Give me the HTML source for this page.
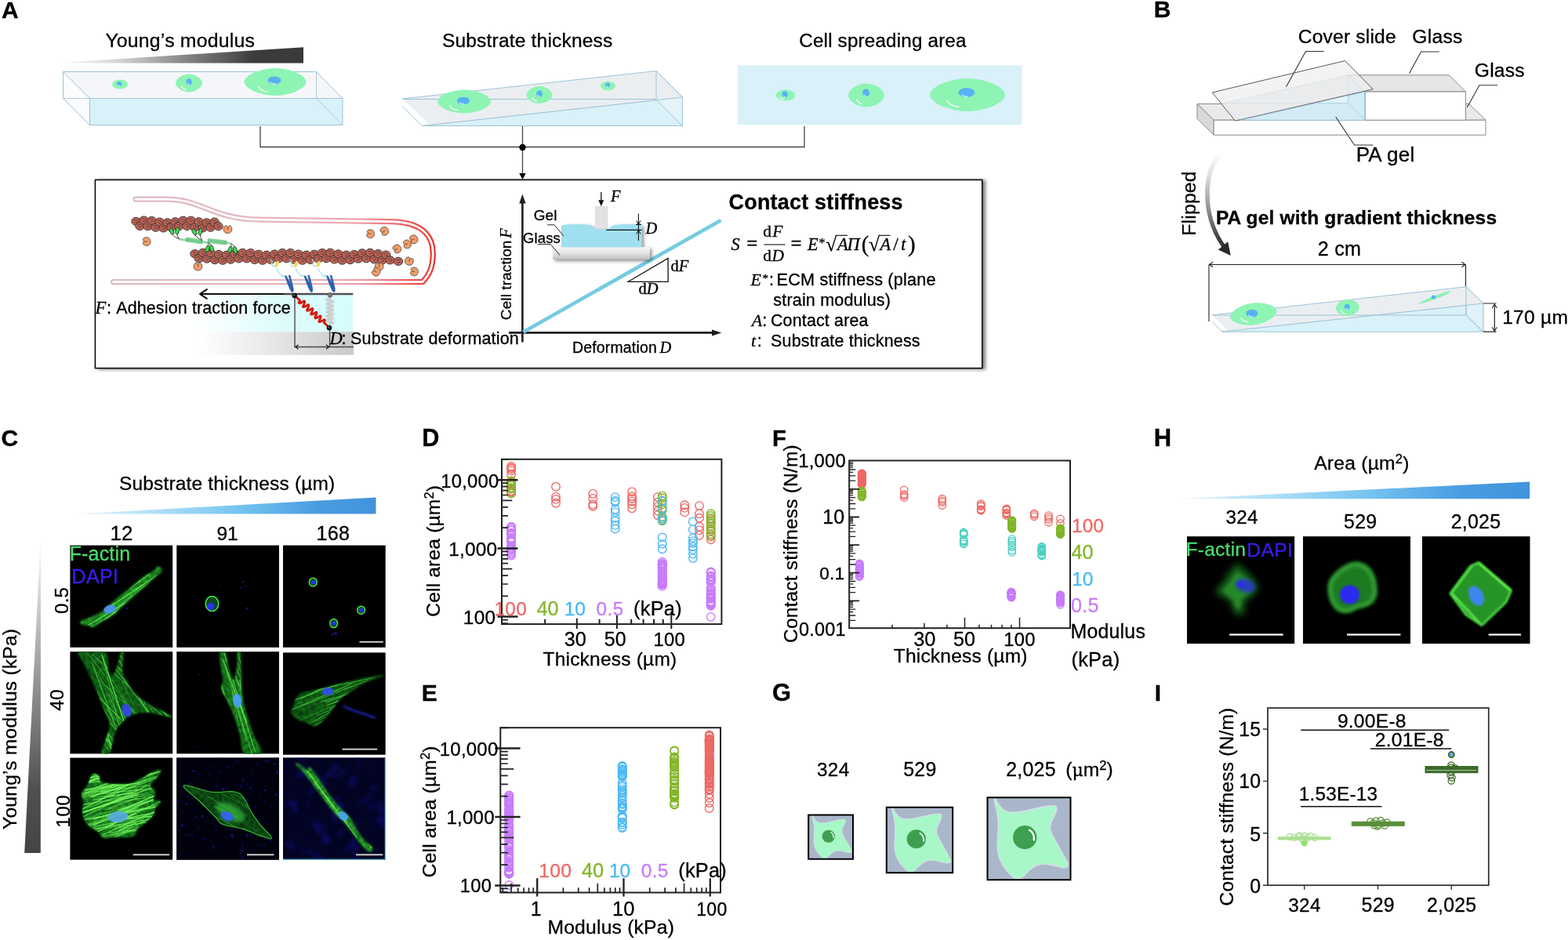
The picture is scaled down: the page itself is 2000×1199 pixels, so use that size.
<!DOCTYPE html>
<html lang="en"><head><meta charset="utf-8"><title>Figure</title>
<style>
html,body{margin:0;padding:0;background:#fff;}
body{width:2000px;height:1199px;overflow:hidden;}
svg{display:block;font-family:"Liberation Sans",Arial,sans-serif;}
text{white-space:pre;stroke:#000;stroke-width:0.3px;}
</style></head><body>
<svg width="2000" height="1199" viewBox="0 0 2000 1199">
<defs>
<linearGradient id="gGray" x1="67" x2="387" y1="0" y2="0" gradientUnits="userSpaceOnUse">
<stop offset="0" stop-color="#fff"/><stop offset="0.25" stop-color="#d8d8d8"/><stop offset="0.55" stop-color="#808080"/><stop offset="0.8" stop-color="#3c3c3c"/><stop offset="1" stop-color="#3a3a3a"/></linearGradient>

<filter id="boxsh" x="-2%" y="-5%" width="104%" height="112%"><feDropShadow dx="3.6" dy="1" stdDeviation="2.3" flood-color="#000" flood-opacity="0.5"/></filter>
<filter id="sh2" x="-10%" y="-20%" width="125%" height="150%"><feDropShadow dx="2.5" dy="2" stdDeviation="2" flood-color="#000" flood-opacity="0.45"/></filter>
<linearGradient id="gMem" x1="143" x2="557" y1="0" y2="0" gradientUnits="userSpaceOnUse">
<stop offset="0" stop-color="#dfbcc1"/><stop offset="0.6" stop-color="#e6b4bb"/><stop offset="0.76" stop-color="#efa0a8"/><stop offset="0.88" stop-color="#ee6a70"/><stop offset="1" stop-color="#e8362e"/></linearGradient>
<linearGradient id="gCy" x1="245" x2="450" y1="0" y2="0" gradientUnits="userSpaceOnUse">
<stop offset="0" stop-color="#fff"/><stop offset="0.2" stop-color="#f4fefe"/><stop offset="0.55" stop-color="#dcfcfc"/><stop offset="1" stop-color="#d6fcfc"/></linearGradient>
<linearGradient id="gSub" x1="252" x2="451" y1="0" y2="0" gradientUnits="userSpaceOnUse">
<stop offset="0" stop-color="#fff"/><stop offset="0.35" stop-color="#eeeeee"/><stop offset="1" stop-color="#c9c9c9"/></linearGradient>
<linearGradient id="gGlass" x1="0" x2="0" y1="315" y2="331" gradientUnits="userSpaceOnUse">
<stop offset="0" stop-color="#f6f6f6"/><stop offset="0.5" stop-color="#e4e4e4"/><stop offset="1" stop-color="#bdbdbd"/></linearGradient>
<g id="mono"><path d="M-5.3 0.3C-5.6 -3.2 -2.6 -5.2 0.4 -5 C3.6 -5 5.6 -2.8 5.4 0 C5.4 3.2 3.4 5 1.6 4.6 C0.8 4.4 0.2 3.6 0 3 C-0.4 4 -1.6 4.8 -2.8 4.6 C-4.4 4.2 -5.2 2.4 -5.3 0.3Z" fill="#f29c66" stroke="#4a4a4a" stroke-width="0.8"/><path d="M0 3V-0.6" stroke="#4a4a4a" stroke-width="0.8" fill="none"/></g>
<g id="act"><ellipse rx="5.7" ry="5.1" fill="#c06052" stroke="#3a3a3a" stroke-width="1"/><path d="M-2.6 -1.6C0 -2.6 2.6 -1.6 2.2 0.2C1.8 1.6 0 1.8 -1.4 1.2" stroke="#3d3d3d" stroke-width="0.8" fill="none" stroke-linecap="round"/></g>
<g id="integ"><path d="M-9.2 -20.2C-6.5 -13 -4.6 -7.5 -2.6 -3.4C-1.8 -1.6 -0.8 0 0.4 0C1.4 -0.4 1.6 -2.6 1.2 -5C0.2 -10 -1.6 -16 -3 -21.6L-4.4 -21.2C-3.6 -17 -2.8 -13 -2.2 -9.6C-4 -13.4 -6 -17.4 -7.8 -20.8Z" fill="#2a61ae" stroke="#2a61ae" stroke-width="0.9" stroke-linejoin="round"/></g>
<g id="link"><path d="M-28 -42l2.6 3.4l-1.4 2.4l1.8 2.8 M-26 -33l6 -0.6 M-20.5 -30c2 4 5 7.6 8.5 10.6" stroke="#9fe3e3" stroke-width="1.2" fill="none"/><path d="M-14 -22.5c3 0.2 6.5 1.6 8.6 3.6c-3.4 0.4 -6.6 -0.8 -8.6 -3.6z" fill="#a6e6e4"/><ellipse cx="-19.6" cy="-35.6" rx="2.2" ry="4.2" transform="rotate(22 -19.6 -35.6)" fill="#f3dc62"/></g>
<g id="myo"><ellipse rx="2.3" ry="4.4" fill="#3ddc55" stroke="#1b1b1b" stroke-width="0.7"/></g>

<linearGradient id="gFlip" x1="0" x2="0" y1="194" y2="322" gradientUnits="userSpaceOnUse">
<stop offset="0" stop-color="#fff"/><stop offset="0.25" stop-color="#dcdcdc"/><stop offset="0.6" stop-color="#8a8a8a"/><stop offset="0.85" stop-color="#444"/><stop offset="1" stop-color="#2a2a2a"/></linearGradient>

<linearGradient id="gBlueC" x1="100" x2="480" y1="0" y2="0" gradientUnits="userSpaceOnUse">
<stop offset="0" stop-color="#e4f5fc"/><stop offset="0.3" stop-color="#a6dcf6"/><stop offset="0.55" stop-color="#74c2f0"/><stop offset="0.8" stop-color="#4a9de0"/><stop offset="1" stop-color="#4193dc"/></linearGradient>
<linearGradient id="gGrayV" x1="0" x2="0" y1="685" y2="1088" gradientUnits="userSpaceOnUse">
<stop offset="0" stop-color="#fff"/><stop offset="0.2" stop-color="#d0d0d0"/><stop offset="0.5" stop-color="#8c8c8c"/><stop offset="0.8" stop-color="#505050"/><stop offset="1" stop-color="#444"/></linearGradient>
<filter id="b05" x="-10%" y="-10%" width="120%" height="120%"><feGaussianBlur stdDeviation="0.55"/></filter>
<filter id="b1" x="-20%" y="-20%" width="140%" height="140%"><feGaussianBlur stdDeviation="1"/></filter>
<filter id="b2" x="-30%" y="-30%" width="160%" height="160%"><feGaussianBlur stdDeviation="2.2"/></filter>
<filter id="b4" x="-40%" y="-40%" width="180%" height="180%"><feGaussianBlur stdDeviation="4"/></filter>
<filter id="noiseB" x="0" y="0" width="100%" height="100%" color-interpolation-filters="sRGB"><feTurbulence type="fractalNoise" baseFrequency="0.16" numOctaves="3" seed="7"/><feColorMatrix type="matrix" values="0 0 0 0 0.08  0 0 0 0 0.08  0 0 0 0 0.7  0 0 5 0 -3.45"/><feGaussianBlur stdDeviation="0.5"/></filter>
<filter id="noiseB2" x="0" y="0" width="100%" height="100%" color-interpolation-filters="sRGB"><feTurbulence type="fractalNoise" baseFrequency="0.05" numOctaves="2" seed="3"/><feColorMatrix type="matrix" values="0 0 0 0 0.05  0 0 0 0 0.05  0 0 0 0 0.45  0 0 2.4 0 -1.25"/></filter>
<filter id="tex" x="-10%" y="-10%" width="120%" height="120%" color-interpolation-filters="sRGB"><feTurbulence type="fractalNoise" baseFrequency="0.3" numOctaves="2" seed="5" result="n"/><feColorMatrix in="n" type="matrix" values="0 0 0 0 0  0 0 0 0 0  0 0 0 0 0  0 0 0 -1.5 1.0" result="dk"/><feComposite in="dk" in2="SourceGraphic" operator="in" result="d2"/><feMerge result="m"><feMergeNode in="SourceGraphic"/><feMergeNode in="d2"/></feMerge><feGaussianBlur in="m" stdDeviation="0.9"/></filter>
<filter id="noiseG" x="0" y="0" width="100%" height="100%"><feTurbulence type="fractalNoise" baseFrequency="0.25" numOctaves="2" seed="11"/><feColorMatrix type="matrix" values="0 0 0 0 0.3  0 0 0 0 1  0 0 0 0 0.25  0 1.8 0 0 -0.55"/></filter>

<linearGradient id="gBlueH" x1="1505" x2="1951" y1="0" y2="0" gradientUnits="userSpaceOnUse">
<stop offset="0" stop-color="#e4f5fc"/><stop offset="0.3" stop-color="#a6dcf6"/><stop offset="0.55" stop-color="#74c2f0"/><stop offset="0.8" stop-color="#4a9de0"/><stop offset="1" stop-color="#4193dc"/></linearGradient>
<g id="gcell">
<rect x="0" y="0" width="100" height="100" fill="#aab7ca"/>
<path d="M9 0.5 C13 9 17 15.5 24 17.5 C33 20 48 15.5 62 12.5 C70 10.5 79 9 82.5 11 C85 14 81 21 77.5 28 C75 33 74.5 37 76.5 42 C81 53 92 69 96.5 80 C98 84.5 95 86 90 85 C82 83.5 72 80 64 81 C55 82.5 49 90 43.5 95.5 C39.5 99.5 34.5 100 30 96 C22 89 14.5 78 12.5 66 C11 55 13.5 42 13 30 C12.5 18 9.5 9 8 2.5 Z" fill="#a8f7c8" stroke="#d6dfe8" stroke-width="1.4"/>
<circle cx="45" cy="48.5" r="14.3" fill="#3e9f50"/>
<path d="M50.5 39.5 C54 41.5 56.5 46 56 51.5" stroke="#fff" stroke-width="2.2" fill="none" stroke-linecap="round"/>
<rect x="0" y="0" width="100" height="100" fill="none" stroke="#000" stroke-width="2" vector-effect="non-scaling-stroke"/>
</g>
</defs>
<rect width="2000" height="1199" fill="#fff"/>
<text x="2.00" y="23.00" font-size="30.00" font-weight="bold">A</text>
<text x="134.38" y="60.00" font-size="24.82" letter-spacing="0.203">Young’s modulus</text>
<text x="563.90" y="60.00" font-size="24.55" letter-spacing="0.180">Substrate thickness</text>
<text x="1019.29" y="60.00" font-size="24.23" letter-spacing="0.177">Cell spreading area</text>
<polygon points="67,80.5 387,60.2 387,80.5" fill="url(#gGray)"/>
<g stroke="#9fc3d6" stroke-width="1" stroke-linejoin="round"><polygon points="80.5,91.5 403.5,91.5 437,125.5 114.5,125.5" fill="#f5f6f9"/><polygon points="80.5,91.5 114.5,125.5 114.5,159.5 80.5,125.5" fill="#fbfcfd"/><rect x="114.5" y="125.5" width="322.5" height="34" fill="#d9f1f9"/><path d="M403.5 91.5V125.5L437 159.5M80.5 125.5H114.5" fill="none" stroke-opacity="0.8"/></g>
<g transform="translate(153 107.5) rotate(0)"><ellipse rx="10" ry="6" fill="#8ef4b4"/></g><ellipse cx="152" cy="107" rx="3.2" ry="3" fill="#58b2f2"/><path d="M150.1 108.3 q1.0 1.5 2.2 1.4" stroke="#fff" stroke-width="1" fill="none" stroke-linecap="round"/>
<g transform="translate(241 106) rotate(0)"><polygon points="17.00,0.00 16.76,1.49 16.18,2.93 15.33,4.30 14.26,5.57 13.00,6.75 11.57,7.82 9.97,8.79 8.23,9.65 6.35,10.37 4.33,10.94 2.21,11.34 0.00,11.50 -2.21,11.34 -4.33,10.94 -6.35,10.37 -8.23,9.65 -9.97,8.79 -11.57,7.82 -13.00,6.75 -14.26,5.57 -15.33,4.30 -16.18,2.93 -16.76,1.49 -17.00,0.00 -16.76,-1.49 -16.18,-2.93 -15.33,-4.30 -14.26,-5.57 -13.00,-6.75 -11.57,-7.82 -9.97,-8.79 -8.23,-9.65 -6.35,-10.37 -4.33,-10.94 -2.21,-11.34 -0.00,-11.50 2.21,-11.34 4.33,-10.94 6.35,-10.37 8.23,-9.65 9.97,-8.79 11.57,-7.82 13.00,-6.75 14.26,-5.57 15.33,-4.30 16.18,-2.93 16.76,-1.49" fill="#8ef4b4"/></g><ellipse cx="241" cy="104.5" rx="3.6" ry="4.2" fill="#58b2f2"/><path d="M238.8 106.4 q1.1 2.1 2.5 1.9" stroke="#fff" stroke-width="1" fill="none" stroke-linecap="round"/><path d="M231.7 110.0 q2.0 4.0 5.4 4.4" stroke="#fff" stroke-width="1.3" fill="none" stroke-linecap="round"/>
<g transform="translate(351 104.5) rotate(0)"><polygon points="39.50,0.00 38.94,2.27 37.59,4.46 35.62,6.54 33.13,8.48 30.20,10.27 26.88,11.91 23.18,13.38 19.13,14.68 14.75,15.78 10.07,16.65 5.13,17.25 0.00,17.50 -5.13,17.25 -10.07,16.65 -14.75,15.78 -19.13,14.68 -23.18,13.38 -26.88,11.91 -30.20,10.27 -33.13,8.48 -35.62,6.54 -37.59,4.46 -38.94,2.27 -39.50,0.00 -38.94,-2.27 -37.59,-4.46 -35.62,-6.54 -33.13,-8.48 -30.20,-10.27 -26.88,-11.91 -23.18,-13.38 -19.13,-14.68 -14.75,-15.78 -10.07,-16.65 -5.13,-17.25 -0.00,-17.50 5.13,-17.25 10.07,-16.65 14.75,-15.78 19.13,-14.68 23.18,-13.38 26.88,-11.91 30.20,-10.27 33.13,-8.48 35.62,-6.54 37.59,-4.46 38.94,-2.27" fill="#8ef4b4"/></g><ellipse cx="350" cy="102.5" rx="8.5" ry="5" fill="#58b2f2"/><path d="M344.9 104.8 q2.5 2.5 5.9 2.2" stroke="#fff" stroke-width="1" fill="none" stroke-linecap="round"/><path d="M329.3 110.6 q4.7 6.1 12.6 6.7" stroke="#fff" stroke-width="1.3" fill="none" stroke-linecap="round"/>
<g stroke="#9fc3d6" stroke-width="1" stroke-linejoin="round"><polygon points="513,135.5 538.5,160.5 870.5,160.5 870.5,124 837,90.5 513,126" fill="#fff" stroke="none"/><polygon points="538.5,160.5 870.5,124 870.5,160.5" fill="#d9f1f9"/><polygon points="837,90.5 870.5,124 870.5,160.5 837,127" fill="#e4f3f8" /><polygon points="513,126 837,90.5 870.5,124 549,160 524,135.5 " fill="#eaeef1" stroke="none"/><path d="M513 126L837 90.5L870.5 124L538.5 160.5L513 135.5M513 126.5H837V90.5M837 127L870.5 160.5" fill="none"/></g>
<g transform="translate(592 129.5) rotate(0)"><polygon points="34.00,0.00 33.52,1.95 32.35,3.82 30.66,5.60 28.52,7.26 26.00,8.80 23.13,10.21 19.95,11.47 16.47,12.58 12.70,13.53 8.67,14.27 4.41,14.79 0.00,15.00 -4.41,14.79 -8.67,14.27 -12.70,13.53 -16.47,12.58 -19.95,11.47 -23.13,10.21 -26.00,8.80 -28.52,7.26 -30.66,5.60 -32.35,3.82 -33.52,1.95 -34.00,0.00 -33.52,-1.95 -32.35,-3.82 -30.66,-5.60 -28.52,-7.26 -26.00,-8.80 -23.13,-10.21 -19.95,-11.47 -16.47,-12.58 -12.70,-13.53 -8.67,-14.27 -4.41,-14.79 -0.00,-15.00 4.41,-14.79 8.67,-14.27 12.70,-13.53 16.47,-12.58 19.95,-11.47 23.13,-10.21 26.00,-8.80 28.52,-7.26 30.66,-5.60 32.35,-3.82 33.52,-1.95" fill="#8ef4b4"/></g><ellipse cx="591" cy="128.5" rx="8" ry="4.8" fill="#58b2f2"/><path d="M586.2 130.7 q2.4 2.4 5.6 2.2" stroke="#fff" stroke-width="1" fill="none" stroke-linecap="round"/><path d="M573.3 134.8 q4.1 5.2 10.9 5.7" stroke="#fff" stroke-width="1.3" fill="none" stroke-linecap="round"/>
<g transform="translate(688 121) rotate(0)"><polygon points="16.50,0.00 16.27,1.43 15.70,2.80 14.88,4.11 13.84,5.33 12.62,6.45 11.23,7.48 9.68,8.41 7.99,9.23 6.16,9.92 4.21,10.47 2.14,10.84 0.00,11.00 -2.14,10.84 -4.21,10.47 -6.16,9.92 -7.99,9.23 -9.68,8.41 -11.23,7.48 -12.62,6.45 -13.84,5.33 -14.88,4.11 -15.70,2.80 -16.27,1.43 -16.50,0.00 -16.27,-1.43 -15.70,-2.80 -14.88,-4.11 -13.84,-5.33 -12.62,-6.45 -11.23,-7.48 -9.68,-8.41 -7.99,-9.23 -6.16,-9.92 -4.21,-10.47 -2.14,-10.84 -0.00,-11.00 2.14,-10.84 4.21,-10.47 6.16,-9.92 7.99,-9.23 9.68,-8.41 11.23,-7.48 12.62,-6.45 13.84,-5.33 14.88,-4.11 15.70,-2.80 16.27,-1.43" fill="#8ef4b4"/></g><ellipse cx="688" cy="119.5" rx="4" ry="4.3" fill="#58b2f2"/><path d="M685.6 121.4 q1.2 2.1 2.8 1.9" stroke="#fff" stroke-width="1" fill="none" stroke-linecap="round"/><path d="M678.9 124.8 q2.0 3.8 5.3 4.2" stroke="#fff" stroke-width="1.3" fill="none" stroke-linecap="round"/>
<g transform="translate(775.5 109.5) rotate(0)"><ellipse rx="9.5" ry="5.8" fill="#8ef4b4"/></g><ellipse cx="775" cy="108.5" rx="3" ry="3" fill="#58b2f2"/><path d="M773.2 109.8 q0.9 1.5 2.1 1.4" stroke="#fff" stroke-width="1" fill="none" stroke-linecap="round"/>
<rect x="940.75" y="83.25" width="362.5" height="76" fill="#d9f1f9"/>
<g transform="translate(1002 121.5) rotate(0)"><ellipse rx="12.2" ry="7.2" fill="#8ef4b4"/></g><ellipse cx="1001" cy="120.5" rx="3.8" ry="4" fill="#58b2f2"/><path d="M998.7 122.3 q1.1 2.0 2.7 1.8" stroke="#fff" stroke-width="1" fill="none" stroke-linecap="round"/><path d="M995.3 124.0 q1.5 2.5 3.9 2.7" stroke="#fff" stroke-width="1.3" fill="none" stroke-linecap="round"/>
<g transform="translate(1105 121.5) rotate(0)"><polygon points="23.00,0.00 22.67,1.95 21.89,3.82 20.74,5.60 19.29,7.26 17.59,8.80 15.65,10.21 13.50,11.47 11.14,12.58 8.59,13.53 5.86,14.27 2.99,14.79 0.00,15.00 -2.99,14.79 -5.86,14.27 -8.59,13.53 -11.14,12.58 -13.50,11.47 -15.65,10.21 -17.59,8.80 -19.29,7.26 -20.74,5.60 -21.89,3.82 -22.67,1.95 -23.00,0.00 -22.67,-1.95 -21.89,-3.82 -20.74,-5.60 -19.29,-7.26 -17.59,-8.80 -15.65,-10.21 -13.50,-11.47 -11.14,-12.58 -8.59,-13.53 -5.86,-14.27 -2.99,-14.79 -0.00,-15.00 2.99,-14.79 5.86,-14.27 8.59,-13.53 11.14,-12.58 13.50,-11.47 15.65,-10.21 17.59,-8.80 19.29,-7.26 20.74,-5.60 21.89,-3.82 22.67,-1.95" fill="#8ef4b4"/></g><ellipse cx="1104.5" cy="118.5" rx="4.5" ry="5" fill="#58b2f2"/><path d="M1101.8 120.8 q1.3 2.5 3.1 2.2" stroke="#fff" stroke-width="1" fill="none" stroke-linecap="round"/><path d="M1092.3 126.8 q2.8 5.2 7.4 5.7" stroke="#fff" stroke-width="1.3" fill="none" stroke-linecap="round"/>
<g transform="translate(1234 121) rotate(0)"><polygon points="48.00,0.00 47.32,2.73 45.68,5.35 43.28,7.84 40.26,10.17 36.70,12.32 32.66,14.29 28.16,16.06 23.25,17.62 17.93,18.94 12.24,19.98 6.23,20.70 0.00,21.00 -6.23,20.70 -12.24,19.98 -17.93,18.94 -23.25,17.62 -28.16,16.06 -32.66,14.29 -36.70,12.32 -40.26,10.17 -43.28,7.84 -45.68,5.35 -47.32,2.73 -48.00,0.00 -47.32,-2.73 -45.68,-5.35 -43.28,-7.84 -40.26,-10.17 -36.70,-12.32 -32.66,-14.29 -28.16,-16.06 -23.25,-17.62 -17.93,-18.94 -12.24,-19.98 -6.23,-20.70 -0.00,-21.00 6.23,-20.70 12.24,-19.98 17.93,-18.94 23.25,-17.62 28.16,-16.06 32.66,-14.29 36.70,-12.32 40.26,-10.17 43.28,-7.84 45.68,-5.35 47.32,-2.73" fill="#8ef4b4"/></g><ellipse cx="1233" cy="118" rx="10.5" ry="6" fill="#58b2f2"/><path d="M1226.7 120.7 q3.1 3.0 7.3 2.7" stroke="#fff" stroke-width="1" fill="none" stroke-linecap="round"/><path d="M1207.6 128.3 q5.8 7.3 15.4 8.0" stroke="#fff" stroke-width="1.3" fill="none" stroke-linecap="round"/>
<path d="M332 161V187.5H1026V161M666.5 161V222" fill="none" stroke="#444" stroke-width="1.3"/>
<circle cx="666.5" cy="188" r="4.2" fill="#000"/>
<polygon points="662.3,221 670.7,221 666.5,229" fill="#000"/>
<rect x="121.4" y="229.4" width="1131.4" height="240.2" fill="#fff" stroke="#000" stroke-width="1.5" filter="url(#boxsh)"/>
<path d="M173 254.2 H213 C258 254.2 270 279.6 332 280.2 L498 282.6 C544 283 552.3 306 552.3 323 C552.3 343 546 352.5 539 359.6 H144.5" fill="none" stroke="url(#gMem)" stroke-width="7.3" stroke-linecap="round" stroke-linejoin="round"/>
<path d="M173 254.2 H213 C258 254.2 270 279.6 332 280.2 L498 282.6 C544 283 552.3 306 552.3 323 C552.3 343 546 352.5 539 359.6 H144.5" fill="none" stroke="#fff" stroke-width="2.7" stroke-linecap="round" stroke-linejoin="round"/>
<rect x="245" y="376" width="205.4" height="47.2" fill="url(#gCy)"/>
<rect x="252" y="423.2" width="199" height="29.6" fill="url(#gSub)"/>
<use href="#act" x="173.5" y="282.4"/><use href="#act" x="178.5" y="288.4"/><use href="#act" x="183.5" y="281.0"/><use href="#act" x="188.5" y="288.7"/><use href="#act" x="193.5" y="281.4"/><use href="#act" x="198.5" y="290.2"/><use href="#act" x="203.5" y="283.1"/><use href="#act" x="208.5" y="290.9"/><use href="#act" x="213.5" y="283.9"/><use href="#act" x="218.5" y="289.9"/><use href="#act" x="223.5" y="282.8"/><use href="#act" x="228.5" y="288.5"/><use href="#act" x="233.5" y="281.2"/><use href="#act" x="238.5" y="288.5"/><use href="#act" x="243.5" y="281.2"/><use href="#act" x="248.5" y="289.9"/><use href="#act" x="253.5" y="282.8"/><use href="#act" x="258.5" y="290.9"/><use href="#act" x="263.5" y="283.9"/><use href="#act" x="268.5" y="290.2"/><use href="#act" x="273.5" y="283.1"/><use href="#act" x="278.5" y="288.7"/>
<use href="#act" x="248.5" y="323.7"/><use href="#act" x="253.7" y="329.7"/><use href="#act" x="258.7" y="322.3"/><use href="#act" x="263.8" y="330.1"/><use href="#act" x="268.8" y="322.7"/><use href="#act" x="274.0" y="331.6"/><use href="#act" x="279.0" y="324.5"/><use href="#act" x="284.1" y="332.2"/><use href="#act" x="289.1" y="325.2"/><use href="#act" x="294.3" y="331.1"/><use href="#act" x="299.3" y="323.9"/><use href="#act" x="304.5" y="329.8"/><use href="#act" x="309.5" y="322.4"/><use href="#act" x="314.6" y="329.9"/><use href="#act" x="319.6" y="322.6"/><use href="#act" x="324.8" y="331.4"/><use href="#act" x="329.8" y="324.3"/><use href="#act" x="334.9" y="332.2"/><use href="#act" x="339.9" y="325.2"/><use href="#act" x="345.1" y="331.3"/><use href="#act" x="350.1" y="324.1"/><use href="#act" x="355.3" y="329.9"/><use href="#act" x="360.3" y="322.5"/><use href="#act" x="365.4" y="329.8"/><use href="#act" x="370.4" y="322.5"/><use href="#act" x="375.6" y="331.2"/><use href="#act" x="380.6" y="324.1"/><use href="#act" x="385.7" y="332.2"/><use href="#act" x="390.7" y="325.2"/><use href="#act" x="395.9" y="331.4"/><use href="#act" x="400.9" y="324.3"/><use href="#act" x="406.1" y="330.0"/><use href="#act" x="411.1" y="322.6"/><use href="#act" x="416.2" y="329.7"/><use href="#act" x="421.2" y="322.3"/><use href="#act" x="426.4" y="331.0"/><use href="#act" x="431.4" y="323.9"/><use href="#act" x="436.5" y="332.2"/><use href="#act" x="441.5" y="325.2"/><use href="#act" x="446.7" y="331.6"/><use href="#act" x="451.7" y="324.5"/><use href="#act" x="456.9" y="330.1"/><use href="#act" x="461.9" y="322.8"/><use href="#act" x="467.0" y="329.7"/><use href="#act" x="472.0" y="322.3"/><use href="#act" x="477.2" y="330.8"/><use href="#act" x="482.2" y="323.6"/><use href="#act" x="487.3" y="332.1"/><use href="#act" x="492.3" y="325.1"/><use href="#act" x="497.5" y="331.8"/>
<use href="#act" x="508" y="333.3"/>
<use href="#mono" transform="translate(290.5 292.5) rotate(180)"/>
<use href="#mono" transform="translate(187 308) rotate(90)"/>
<use href="#mono" transform="translate(252.5 340) rotate(180)"/>
<use href="#mono" transform="translate(472.5 298.2) rotate(100)"/>
<use href="#mono" transform="translate(490.4 294.7) rotate(60)"/>
<use href="#mono" transform="translate(527.7 305.2) rotate(70)"/>
<use href="#mono" transform="translate(519.3 311.4) rotate(80)"/>
<use href="#mono" transform="translate(506.5 317.3) rotate(60)"/>
<use href="#mono" transform="translate(521.9 333.1) rotate(200)"/>
<use href="#mono" transform="translate(483.7 340.1) rotate(180)"/>
<use href="#mono" transform="translate(479.8 346.7) rotate(120)"/>
<use href="#mono" transform="translate(528.4 346.4) rotate(100)"/>
<g stroke="#111" stroke-width="0.8" fill="none"><path d="M219 298C222 302 225 303.5 229 305M226 298C226 301 227 303.5 229 305M248 299C251 303 254 305 258 306.5M255.5 299C255.5 302 256.5 305 258 306.5M264.5 314C266 312 265.5 311 265 310M270 314C269 312 267 311 265 310M293.5 315C295 313 295 312 294.5 311M300 316C299 313.5 297 312 294.5 311"/></g>
<use href="#myo" transform="translate(219 295) rotate(-25)"/>
<use href="#myo" transform="translate(226 294.5) rotate(5)"/>
<use href="#myo" transform="translate(248 296) rotate(-30)"/>
<use href="#myo" transform="translate(255.5 295.5) rotate(15)"/>
<use href="#myo" transform="translate(264.5 317.5) rotate(25)"/>
<use href="#myo" transform="translate(270 317) rotate(-15)"/>
<use href="#myo" transform="translate(293.5 318.5) rotate(20)"/>
<use href="#myo" transform="translate(300 319) rotate(-15)"/>
<g fill="none" stroke="#2fb055" stroke-width="0.55"><circle cx="230.0" cy="305.3" r="1.05"/><circle cx="232.0" cy="305.6" r="1.05"/><circle cx="234.0" cy="305.8" r="1.05"/><circle cx="236.0" cy="306.1" r="1.05"/><circle cx="238.0" cy="306.3" r="1.05"/><circle cx="238.0" cy="303.7" r="1.05"/><circle cx="238.0" cy="305.5" r="1.05"/><circle cx="238.0" cy="307.3" r="1.05"/><circle cx="239.9" cy="304.0" r="1.05"/><circle cx="239.9" cy="305.8" r="1.05"/><circle cx="239.9" cy="307.6" r="1.05"/><circle cx="241.8" cy="304.3" r="1.05"/><circle cx="241.8" cy="306.1" r="1.05"/><circle cx="241.8" cy="307.9" r="1.05"/><circle cx="243.7" cy="304.6" r="1.05"/><circle cx="243.7" cy="306.4" r="1.05"/><circle cx="243.7" cy="308.2" r="1.05"/><circle cx="245.6" cy="304.9" r="1.05"/><circle cx="245.6" cy="306.7" r="1.05"/><circle cx="245.6" cy="308.5" r="1.05"/><circle cx="247.5" cy="305.2" r="1.05"/><circle cx="247.5" cy="307.0" r="1.05"/><circle cx="247.5" cy="308.8" r="1.05"/><circle cx="249.4" cy="305.5" r="1.05"/><circle cx="249.4" cy="307.3" r="1.05"/><circle cx="249.4" cy="309.1" r="1.05"/><circle cx="251.3" cy="305.8" r="1.05"/><circle cx="251.3" cy="307.6" r="1.05"/><circle cx="251.3" cy="309.4" r="1.05"/><circle cx="253.2" cy="306.1" r="1.05"/><circle cx="253.2" cy="307.9" r="1.05"/><circle cx="253.2" cy="309.7" r="1.05"/><circle cx="255.1" cy="306.4" r="1.05"/><circle cx="255.1" cy="308.2" r="1.05"/><circle cx="255.1" cy="310.0" r="1.05"/><circle cx="257.0" cy="306.7" r="1.05"/><circle cx="257.0" cy="308.5" r="1.05"/><circle cx="257.0" cy="310.3" r="1.05"/><circle cx="257.0" cy="308.5" r="1.05"/><circle cx="259.0" cy="308.7" r="1.05"/><circle cx="261.0" cy="308.9" r="1.05"/><circle cx="263.0" cy="309.2" r="1.05"/><circle cx="265.0" cy="309.4" r="1.05"/><circle cx="267.0" cy="309.6" r="1.05"/><circle cx="266.0" cy="305.2" r="1.05"/><circle cx="266.0" cy="307.0" r="1.05"/><circle cx="266.0" cy="308.8" r="1.05"/><circle cx="268.0" cy="305.4" r="1.05"/><circle cx="268.0" cy="307.2" r="1.05"/><circle cx="268.0" cy="309.0" r="1.05"/><circle cx="270.0" cy="305.7" r="1.05"/><circle cx="270.0" cy="307.5" r="1.05"/><circle cx="270.0" cy="309.3" r="1.05"/><circle cx="272.0" cy="305.9" r="1.05"/><circle cx="272.0" cy="307.7" r="1.05"/><circle cx="272.0" cy="309.5" r="1.05"/><circle cx="274.0" cy="306.1" r="1.05"/><circle cx="274.0" cy="307.9" r="1.05"/><circle cx="274.0" cy="309.7" r="1.05"/><circle cx="276.0" cy="306.3" r="1.05"/><circle cx="276.0" cy="308.1" r="1.05"/><circle cx="276.0" cy="309.9" r="1.05"/><circle cx="278.0" cy="306.6" r="1.05"/><circle cx="278.0" cy="308.4" r="1.05"/><circle cx="278.0" cy="310.2" r="1.05"/><circle cx="280.0" cy="306.8" r="1.05"/><circle cx="280.0" cy="308.6" r="1.05"/><circle cx="280.0" cy="310.4" r="1.05"/><circle cx="282.0" cy="307.0" r="1.05"/><circle cx="282.0" cy="308.8" r="1.05"/><circle cx="282.0" cy="310.6" r="1.05"/><circle cx="284.0" cy="307.2" r="1.05"/><circle cx="284.0" cy="309.0" r="1.05"/><circle cx="284.0" cy="310.8" r="1.05"/><circle cx="286.0" cy="307.5" r="1.05"/><circle cx="286.0" cy="309.3" r="1.05"/><circle cx="286.0" cy="311.1" r="1.05"/><circle cx="288.0" cy="307.7" r="1.05"/><circle cx="288.0" cy="309.5" r="1.05"/><circle cx="288.0" cy="311.3" r="1.05"/><circle cx="288.0" cy="309.5" r="1.05"/><circle cx="290.2" cy="309.8" r="1.05"/><circle cx="292.3" cy="310.2" r="1.05"/><circle cx="294.5" cy="310.5" r="1.05"/></g>
<use href="#link" x="372.8" y="372.6"/>
<use href="#integ" x="372.8" y="372.6"/>
<use href="#link" x="397.3" y="372.6"/>
<use href="#integ" x="397.3" y="372.6"/>
<use href="#link" x="425.8" y="372.6"/>
<use href="#integ" x="425.8" y="372.6"/>
<path d="M256 375H363" stroke="#111" stroke-width="1.9" fill="none"/>
<path d="M264.5 368.6L255.2 375L264.5 381.4" stroke="#111" stroke-width="2" fill="none"/>
<path d="M362.3 375H450.3" stroke="#4f4f4f" stroke-width="2.6" fill="none"/>
<path d="M376 379V442.5H420.6V421M420.6 442.5H451" stroke="#4a4a4a" stroke-width="1.4" fill="none"/>
<path d="M380.5 439.8L377 442.5L380.5 445.2M416 439.8L419.6 442.5L416 445.2" stroke="#111" stroke-width="1.1" fill="none"/>
<path d="M420.8 379.0L420.8 381.0Q412.6 381.8 420.8 383.7Q429.1 384.5 420.8 386.3Q412.6 387.1 420.8 389.0Q429.1 389.8 420.8 391.7Q412.6 392.5 420.8 394.3Q429.1 395.1 420.8 397.0Q412.6 397.8 420.8 399.7Q429.1 400.5 420.8 402.3Q412.6 403.1 420.8 405.0Q429.1 405.8 420.8 407.7Q412.6 408.5 420.8 410.3Q429.1 411.1 420.8 413.0L420.8 415.0" fill="none" stroke="#c9d2d0" stroke-width="3.2" stroke-linejoin="round" stroke-linecap="round"/>
<path d="M377.5 378.5L382.6 383.3Q378.9 388.8 385.2 385.6Q390.4 381.5 387.8 388.0Q384.0 393.6 390.3 390.4Q395.6 386.3 392.9 392.8Q389.2 398.3 395.4 395.1Q400.7 391.0 398.0 397.5Q394.3 403.1 400.6 399.9Q405.8 395.7 403.1 402.2Q399.4 407.8 405.7 404.6Q410.9 400.5 408.2 407.0Q404.5 412.5 410.8 409.4Q416.1 405.2 413.4 411.7L418.5 416.5" fill="none" stroke="#cf1f12" stroke-width="3.0" stroke-linejoin="round" stroke-linecap="round"/>
<circle cx="375.7" cy="377" r="3.3" fill="#111"/><circle cx="375" cy="376.3" r="1.1" fill="#777"/>
<circle cx="421" cy="376.3" r="3" fill="#7a7a7a" stroke="#555" stroke-width="0.6"/>
<circle cx="420" cy="418.3" r="3.3" fill="#111"/><circle cx="419.3" cy="417.6" r="1.1" fill="#777"/>
<text><tspan x="121.60" y="400.30" font-size="22.50" font-style="italic" font-family='"Liberation Serif", "Times New Roman", serif'>F</tspan><tspan x="135.99" y="400.30" font-size="21.90">: </tspan><tspan x="148.20" y="400.30" font-size="21.44" letter-spacing="0.151">Adhesion traction force</tspan></text>
<text><tspan x="420.60" y="439.30" font-size="22.50" font-style="italic" font-family='"Liberation Serif", "Times New Roman", serif'>D</tspan><tspan x="435.59" y="439.30" font-size="21.90">: </tspan><tspan x="447.03" y="439.30" font-size="21.51" letter-spacing="0.159">Substrate deformation</tspan></text>
<path d="M666.4 258V436.5M649 424.4H909" stroke="#1e1e1e" stroke-width="2.6" fill="none"/>
<polygon points="666.4,247.5 662.3,259.5 670.5,259.5" fill="#1e1e1e"/>
<polygon points="920.3,424.4 908,420.4 908,428.4" fill="#1e1e1e"/>
<path d="M667.5 423.4L919.5 281" stroke="#74cbe0" stroke-width="4.6" fill="none"/>
<g filter="url(#sh2)"><rect x="705.3" y="315.3" width="123.5" height="15.7" fill="url(#gGlass)"/><path d="M716 315.3V287.2C726 285.6 748 285.4 753 287.2C757 288.4 758 291.6 760.5 292.2H775C777.5 291.6 778.5 288.4 783 287.2C790 285.6 810 285.6 818.5 286.6V315.3Z" fill="#a0dff0"/></g>
<rect x="759.6" y="263.3" width="15.1" height="28.5" fill="#e2e2e2" stroke="#cfcfcf" stroke-width="0.6"/>
<path d="M766.8 245V258" stroke="#111" stroke-width="1.3"/><polygon points="766.8,263 763.2,255.3 770.4,255.3" fill="#111"/>
<text x="779.00" y="257.30" font-size="20.50" font-style="italic" font-family='"Liberation Serif", "Times New Roman", serif'>F</text>
<path d="M773.3 293.4H818.5M814.4 272.4V307M811 286.4H818" stroke="#111" stroke-width="1.1" fill="none"/>
<path d="M811.8 281.5L814.4 286.2L817 281.5M811.8 298.4L814.4 293.7L817 298.4" stroke="#111" stroke-width="1" fill="none"/>
<text x="823.60" y="298.20" font-size="20.50" font-style="italic" font-family='"Liberation Serif", "Times New Roman", serif'>D</text>
<path d="M698.3 286.8H707L719 301M685.7 311.6H702.3L714 325.5" stroke="#222" stroke-width="1" fill="none"/>
<text x="680.65" y="281.40" font-size="18.95" letter-spacing="0.208">Gel</text>
<text x="667.08" y="310.00" font-size="18.42" letter-spacing="0.173">Glass</text>
<polygon points="801.3,359.3 852.1,359.3 852.1,329.5" fill="none" stroke="#111" stroke-width="1.3"/>
<text x="855.60" y="345.60" font-size="20.50" font-family='"Liberation Serif", "Times New Roman", serif'>d<tspan font-style="italic">F</tspan></text>
<text x="814.60" y="374.90" font-size="20.50" font-family='"Liberation Serif", "Times New Roman", serif'>d<tspan font-style="italic">D</tspan></text>
<text transform="rotate(-90 651.80 408.15)"><tspan x="651.80" y="408.15" font-size="18.96" letter-spacing="0.124">Cell traction </tspan><tspan x="756.15" y="408.15" font-size="20.50" font-style="italic" font-family='"Liberation Serif", "Times New Roman", serif'>F</tspan></text>
<text><tspan x="729.94" y="450.00" font-size="19.51" letter-spacing="0.158">Deformation </tspan><tspan x="841.50" y="450.00" font-size="20.50" font-style="italic" font-family='"Liberation Serif", "Times New Roman", serif'>D</tspan></text>
<text x="929.62" y="267.30" font-size="26.96" font-weight="bold" letter-spacing="0.206">Contact stiffness</text>
<path d="M974.4 312H1001.6" stroke="#111" stroke-width="1.1"/>
<path d="M1066.6 300.3H1081" stroke="#111" stroke-width="1.15" fill="none"/>
<path d="M1121.2 300.3H1135.6" stroke="#111" stroke-width="1.15" fill="none"/>
<text><tspan x="932.56" y="319.00" font-size="22.40" font-style="italic" font-family='"Liberation Serif", "Times New Roman", serif'>S </tspan><tspan x="952.29" y="319.00" font-size="25.00" font-family='"Liberation Serif", "Times New Roman", serif'>= </tspan><tspan x="973.16" y="302.20" font-size="21.50" font-family='"Liberation Serif", "Times New Roman", serif'>d</tspan><tspan x="985.19" y="302.20" font-size="21.50" font-style="italic" font-family='"Liberation Serif", "Times New Roman", serif'>F</tspan><tspan x="973.16" y="332.50" font-size="21.50" font-family='"Liberation Serif", "Times New Roman", serif'>d</tspan><tspan x="984.38" y="332.50" font-size="21.50" font-style="italic" font-family='"Liberation Serif", "Times New Roman", serif'>D </tspan><tspan x="1008.59" y="319.00" font-size="25.00" font-family='"Liberation Serif", "Times New Roman", serif'>= </tspan><tspan x="1029.90" y="319.00" font-size="22.40" font-style="italic" font-family='"Liberation Serif", "Times New Roman", serif'>E</tspan><tspan x="1044.45" y="314.50" font-size="16.00" font-family='"Liberation Serif", "Times New Roman", serif'>*</tspan><tspan x="1053.37" y="319.60" font-size="25.33" font-family='"Liberation Serif", "Times New Roman", serif'>√</tspan><tspan x="1068.03" y="319.00" font-size="22.40" font-style="italic" font-family='"Liberation Serif", "Times New Roman", serif'>A</tspan><tspan x="1080.39" y="319.00" font-size="22.40" font-style="italic" font-family='"Liberation Serif", "Times New Roman", serif'>Π</tspan><tspan x="1098.65" y="320.50" font-size="29.00" font-family='"Liberation Serif", "Times New Roman", serif'>(</tspan><tspan x="1107.97" y="319.60" font-size="25.33" font-family='"Liberation Serif", "Times New Roman", serif'>√</tspan><tspan x="1122.48" y="319.00" font-size="22.40" font-style="italic" font-family='"Liberation Serif", "Times New Roman", serif'>A</tspan><tspan x="1139.30" y="319.00" font-size="24.00" font-family='"Liberation Serif", "Times New Roman", serif'>/</tspan><tspan x="1149.24" y="319.00" font-size="22.40" font-style="italic" font-family='"Liberation Serif", "Times New Roman", serif'>t</tspan><tspan x="1158.06" y="320.50" font-size="29.00" font-family='"Liberation Serif", "Times New Roman", serif'>)</tspan></text>
<text><tspan x="957.52" y="364.00" font-size="22.00" font-style="italic" font-family='"Liberation Serif", "Times New Roman", serif'>E</tspan><tspan x="972.45" y="359.50" font-size="15.00" font-family='"Liberation Serif", "Times New Roman", serif'>*</tspan><tspan x="980.92" y="364.00" font-size="21.70">: </tspan><tspan x="990.56" y="364.00" font-size="21.72" letter-spacing="0.158">ECM stiffness (plane</tspan></text>
<text x="986.35" y="390.30" font-size="21.57" letter-spacing="0.158">strain modulus)</text>
<text><tspan x="958.69" y="415.70" font-size="22.00" font-style="italic" font-family='"Liberation Serif", "Times New Roman", serif'>A</tspan><tspan x="972.17" y="415.70" font-size="21.70">: </tspan><tspan x="982.93" y="415.70" font-size="21.45" letter-spacing="0.169">Contact area</tspan></text>
<text><tspan x="957.96" y="442.00" font-size="22.00" font-style="italic" font-family='"Liberation Serif", "Times New Roman", serif'>t</tspan><tspan x="965.72" y="442.00" font-size="21.70">: </tspan><tspan x="983.03" y="442.00" font-size="21.53" letter-spacing="0.158">Substrate thickness</tspan></text>
<text x="1471.75" y="22.00" font-size="30.00" font-weight="bold">B</text>
<text x="1655.77" y="55.00" font-size="24.60" letter-spacing="0.184">Cover slide</text>
<text x="1801.26" y="55.00" font-size="24.72" letter-spacing="0.232">Glass</text>
<text x="1880.77" y="97.50" font-size="24.64" letter-spacing="0.232">Glass</text>
<text x="1729.71" y="205.70" font-size="26.08" letter-spacing="0.212">PA gel</text>
<g stroke="#8a8a8a" stroke-width="1" stroke-linejoin="round"><polygon points="1527,132.5 1873.8,132.5 1895,153.2 1548.2,153.2" fill="#e9e9e9"/><polygon points="1527,132.5 1548.2,153.2 1548.2,172.2 1527,151.2" fill="#d9d9d9"/><rect x="1548.2" y="153.2" width="346.8" height="19" fill="#fff"/></g>
<polygon points="1561,131.5 1719.3,95.8 1741,117 1580,153.3" fill="#dfe3e6"/>
<polygon points="1719.3,95.8 1741,117 1741,153.3 1719.3,131.5" fill="#cfe4ee"/>
<g stroke="#8a8a8a" stroke-width="1" stroke-linejoin="round"><polygon points="1719.3,95.8 1848.3,95.8 1869.5,117 1740.8,117" fill="#e6e6e6"/><rect x="1740.8" y="117" width="128.7" height="36.2" fill="#fff"/></g>
<path d="M1561 131.5L1719.3 95.8M1561 131.5H1719.3V95.8M1719.3 131.5L1741 153.3M1561 131.5L1580 153.3M1719.3 95.8L1741 117" fill="none" stroke="#a6c7d8" stroke-width="1"/>
<polygon points="1546.3,118 1715.5,77.5 1751.3,113.8 1575.5,154.2" fill="#eeeeee" fill-opacity="0.72" stroke="#5a5a5a" stroke-width="1"/>
<polygon points="1582,153.3 1741,117.2 1741,153.3" fill="#d3ebf5" stroke="#9cc4d8" stroke-width="0.9"/>
<polygon points="1680,131.5 1719.3,122.2 1719.3,131.5" fill="#e2f4fb"/>
<path d="M1680 131.5H1719.3V122M1719.3 131.5L1741 153.3" fill="none" stroke="#a6cfe2" stroke-width="0.9"/>
<path d="M1741 117.2V153.3" stroke="#8fb4c6" stroke-width="1.2"/>
<path d="M1688.8 65.5H1665.5L1640.5 110.8M1835.8 66H1812.5L1797.5 93.8M1910 108.8H1887L1871.3 137M1703.8 149.2L1727.5 185H1751.3" fill="none" stroke="#333" stroke-width="1.1"/>
<path d="M1557.5 193C1540 207 1536 232 1537.5 256C1539 280 1549 303 1560 317L1563.5 313.5C1553 299 1544.5 279 1543 256C1541.8 233 1546 210 1560.5 196Z" fill="url(#gFlip)"/>
<polygon points="1569.8,326 1553.8,318.5 1566.2,308.2" fill="#2a2a2a"/>
<text x="1524.60" y="300.78" font-size="24.76" transform="rotate(-90 1524.60 300.78)" letter-spacing="0.197">Flipped</text>
<text x="1550.91" y="285.50" font-size="24.53" font-weight="bold" letter-spacing="0.184">PA gel with gradient thickness</text>
<text x="1680.74" y="325.70" font-size="25.16" letter-spacing="0.263">2 cm</text>
<path d="M1542 337.5H1869.5M1542 337.5V410M1869.5 337.5V378.8" stroke="#222" stroke-width="1.1" fill="none"/>
<path d="M1547 334.3L1542.6 337.5L1547 340.7M1864.5 334.3L1869 337.5L1864.5 340.7" stroke="#222" stroke-width="1.1" fill="none"/>
<g stroke="#9fc3d6" stroke-width="1" stroke-linejoin="round"><polygon points="1558.8,423.2 1891.8,387 1891.8,423.2" fill="#d9f1f9"/><polygon points="1870,365.8 1891.8,387 1891.8,423.2 1870,402" fill="#e1f2f8"/><polygon points="1546.3,401.8 1870,365.8 1891.8,387 1568,423 1551,406.5" fill="#eaeef1" stroke="none"/><path d="M1546.3 401.8L1870 365.8L1891.8 387L1558.8 423.2L1546.3 410.5M1546.3 402H1870V365.8M1870 402L1891.8 423.2" fill="none"/></g>
<g transform="translate(1598.8 400.5) rotate(-8)"><polygon points="30.00,0.00 29.58,1.82 28.55,3.57 27.05,5.23 25.17,6.78 22.94,8.21 20.41,9.53 17.60,10.71 14.53,11.74 11.21,12.62 7.65,13.32 3.89,13.80 0.00,14.00 -3.89,13.80 -7.65,13.32 -11.21,12.62 -14.53,11.74 -17.60,10.71 -20.41,9.53 -22.94,8.21 -25.17,6.78 -27.05,5.23 -28.55,3.57 -29.58,1.82 -30.00,0.00 -29.58,-1.82 -28.55,-3.57 -27.05,-5.23 -25.17,-6.78 -22.94,-8.21 -20.41,-9.53 -17.60,-10.71 -14.53,-11.74 -11.21,-12.62 -7.65,-13.32 -3.89,-13.80 -0.00,-14.00 3.89,-13.80 7.65,-13.32 11.21,-12.62 14.53,-11.74 17.60,-10.71 20.41,-9.53 22.94,-8.21 25.17,-6.78 27.05,-5.23 28.55,-3.57 29.58,-1.82" fill="#8ef4b4"/></g><ellipse cx="1596.8" cy="399.8" rx="7.5" ry="5" fill="#58b2f2"/><path d="M1592.3 402.1 q2.2 2.5 5.2 2.2" stroke="#fff" stroke-width="1" fill="none" stroke-linecap="round"/><path d="M1582.3 405.4 q3.6 4.9 9.6 5.3" stroke="#fff" stroke-width="1.3" fill="none" stroke-linecap="round"/>
<g transform="translate(1718.8 392.5) rotate(-5)"><polygon points="15.00,0.00 14.79,1.36 14.27,2.68 13.53,3.92 12.58,5.09 11.47,6.16 10.21,7.14 8.80,8.03 7.26,8.81 5.60,9.47 3.82,9.99 1.95,10.35 0.00,10.50 -1.95,10.35 -3.82,9.99 -5.60,9.47 -7.26,8.81 -8.80,8.03 -10.21,7.14 -11.47,6.16 -12.58,5.09 -13.53,3.92 -14.27,2.68 -14.79,1.36 -15.00,0.00 -14.79,-1.36 -14.27,-2.68 -13.53,-3.92 -12.58,-5.09 -11.47,-6.16 -10.21,-7.14 -8.80,-8.03 -7.26,-8.81 -5.60,-9.47 -3.82,-9.99 -1.95,-10.35 -0.00,-10.50 1.95,-10.35 3.82,-9.99 5.60,-9.47 7.26,-8.81 8.80,-8.03 10.21,-7.14 11.47,-6.16 12.58,-5.09 13.53,-3.92 14.27,-2.68 14.79,-1.36" fill="#8ef4b4"/></g><ellipse cx="1718.2" cy="391.5" rx="3.4" ry="3.8" fill="#58b2f2"/><path d="M1716.2 393.2 q1.0 1.9 2.4 1.7" stroke="#fff" stroke-width="1" fill="none" stroke-linecap="round"/><path d="M1710.5 396.2 q1.8 3.7 4.8 4.0" stroke="#fff" stroke-width="1.3" fill="none" stroke-linecap="round"/>
<path d="M1808 388C1818 381 1835 374.5 1851 370.5C1848 373 1849 374 1845.5 375.5C1834 380 1822 386 1808 388Z" fill="#8ff0b2"/><ellipse cx="1828.5" cy="379" rx="2.6" ry="2.4" fill="#58b2f2"/>
<path d="M1892 387H1908.5M1892 423.2H1908.5M1906.3 388V422.3" stroke="#222" stroke-width="1.2" fill="none"/>
<path d="M1903.2 393L1906.3 388L1909.4 393M1903.2 417.3L1906.3 422.3L1909.4 417.3" stroke="#222" stroke-width="1.1" fill="none"/>
<text x="1916.15" y="413.20" font-size="24.63" letter-spacing="0.241">170 µm</text>
<text x="1.60" y="569.30" font-size="30.00" font-weight="bold">C</text>
<text x="151.90" y="625.00" font-size="24.49" letter-spacing="0.178">Substrate thickness (µm)</text>
<polygon points="100,655.5 479.5,634.5 479.5,655.5" fill="url(#gBlueC)"/>
<text x="140.56" y="688.80" font-size="25.89">12</text>
<text x="276.40" y="688.80" font-size="24.51">91</text>
<text x="403.62" y="688.80" font-size="25.10" letter-spacing="0.296">168</text>
<polygon points="52,685 51.8,1088 31.2,1088" fill="url(#gGrayV)"/>
<text x="21.40" y="1057.92" font-size="24.66" transform="rotate(-90 21.40 1057.92)" letter-spacing="0.190">Young’s modulus (kPa)</text>
<text x="87.30" y="782.96" font-size="24.06" transform="rotate(-90 87.30 782.96)" letter-spacing="0.240">0.5</text>
<text x="81.20" y="906.70" font-size="24.83" transform="rotate(-90 81.20 906.70)">40</text>
<text x="88.60" y="1055.64" font-size="24.58" transform="rotate(-90 88.60 1055.64)" letter-spacing="0.291">100</text>
<rect x="89.4" y="695.6" width="130.8" height="130.2" fill="#000"/>
<rect x="225.3" y="695.6" width="130.7" height="130.2" fill="#000"/>
<rect x="361.0" y="695.6" width="130.7" height="130.2" fill="#000"/>
<rect x="89.4" y="831.2" width="130.8" height="130.2" fill="#000"/>
<rect x="225.3" y="831.2" width="130.7" height="130.2" fill="#000"/>
<rect x="361.0" y="832.4000000000001" width="130.7" height="130.3" fill="#000"/>
<rect x="89.4" y="966.6" width="130.8" height="130.0" fill="#000"/>
<rect x="225.3" y="966.6" width="130.7" height="130.0" fill="#000"/>
<rect x="361.0" y="966.6" width="130.7" height="130.0" fill="#000"/>
<clipPath id="pc00"><rect x="89.4" y="695.6" width="130.8" height="130.2"/></clipPath>
<clipPath id="pc01"><rect x="225.3" y="695.6" width="130.7" height="130.2"/></clipPath>
<clipPath id="pc02"><rect x="361.0" y="695.6" width="130.7" height="130.2"/></clipPath>
<clipPath id="pc10"><rect x="89.4" y="831.2" width="130.8" height="130.2"/></clipPath>
<clipPath id="pc11"><rect x="225.3" y="831.2" width="130.7" height="130.2"/></clipPath>
<clipPath id="pc12"><rect x="361.0" y="832.4000000000001" width="130.7" height="130.3"/></clipPath>
<clipPath id="pc20"><rect x="89.4" y="966.6" width="130.8" height="130.0"/></clipPath>
<clipPath id="pc21"><rect x="225.3" y="966.6" width="130.7" height="130.0"/></clipPath>
<clipPath id="pc22"><rect x="361.0" y="966.6" width="130.7" height="130.0"/></clipPath>
<rect x="225.3" y="966.6" width="130.7" height="130" fill="#01010e"/>
<rect x="225.3" y="966.6" width="130.7" height="130" fill="#000" filter="url(#noiseB)"/>
<rect x="361.0" y="966.6" width="130.7" height="130" fill="#030324"/>
<rect x="361.0" y="966.6" width="130.7" height="130" fill="#000" filter="url(#noiseB2)"/>
<path d="M361.0 1096.1999999999998H491.3V966.6" stroke="#6fe6f2" stroke-width="1" fill="none"/>
<g filter="url(#b05)"><circle cx="108.3" cy="804.4" r="1.2" fill="#2222cc" opacity="0.15"/><circle cx="153.8" cy="754.2" r="1.1" fill="#2222cc" opacity="0.26"/><circle cx="103.2" cy="701.2" r="1.3" fill="#2222cc" opacity="0.19"/><circle cx="187.4" cy="697.9" r="0.9" fill="#2222cc" opacity="0.24"/><circle cx="120.2" cy="816.7" r="1.3" fill="#2222cc" opacity="0.11"/><circle cx="94.6" cy="765.8" r="1.3" fill="#2222cc" opacity="0.18"/></g>
<g filter="url(#b05)"><circle cx="347.8" cy="817.0" r="0.6" fill="#2222cc" opacity="0.12"/><circle cx="332.6" cy="790.3" r="1.1" fill="#2222cc" opacity="0.16"/><circle cx="303.6" cy="774.1" r="1.0" fill="#2222cc" opacity="0.13"/><circle cx="281.6" cy="747.2" r="1.2" fill="#2222cc" opacity="0.30"/><circle cx="346.9" cy="766.2" r="0.9" fill="#2222cc" opacity="0.15"/><circle cx="231.8" cy="701.1" r="0.9" fill="#2222cc" opacity="0.16"/><circle cx="275.2" cy="810.0" r="1.0" fill="#2222cc" opacity="0.21"/><circle cx="257.1" cy="700.6" r="0.8" fill="#2222cc" opacity="0.13"/></g>
<g filter="url(#b05)"><circle cx="393.0" cy="766.2" r="0.8" fill="#2222cc" opacity="0.22"/><circle cx="441.8" cy="705.9" r="0.5" fill="#2222cc" opacity="0.27"/><circle cx="395.7" cy="727.1" r="1.4" fill="#2222cc" opacity="0.19"/><circle cx="468.4" cy="757.6" r="1.1" fill="#2222cc" opacity="0.13"/><circle cx="443.0" cy="807.0" r="1.0" fill="#2222cc" opacity="0.25"/><circle cx="447.6" cy="705.7" r="1.2" fill="#2222cc" opacity="0.22"/><circle cx="401.0" cy="701.5" r="1.3" fill="#2222cc" opacity="0.19"/><circle cx="453.6" cy="808.3" r="1.1" fill="#2222cc" opacity="0.28"/></g>
<g filter="url(#b05)"><circle cx="121.1" cy="846.2" r="0.9" fill="#2222cc" opacity="0.13"/><circle cx="99.8" cy="883.8" r="1.3" fill="#2222cc" opacity="0.26"/><circle cx="187.8" cy="861.2" r="1.0" fill="#2222cc" opacity="0.16"/><circle cx="113.2" cy="846.6" r="0.7" fill="#2222cc" opacity="0.29"/><circle cx="195.8" cy="934.8" r="1.2" fill="#2222cc" opacity="0.14"/><circle cx="130.4" cy="912.2" r="1.2" fill="#2222cc" opacity="0.27"/></g>
<g filter="url(#b05)"><circle cx="305.8" cy="926.7" r="1.2" fill="#2222cc" opacity="0.34"/><circle cx="320.5" cy="949.4" r="0.5" fill="#2222cc" opacity="0.22"/><circle cx="346.2" cy="915.0" r="1.3" fill="#2222cc" opacity="0.13"/><circle cx="286.4" cy="864.3" r="1.0" fill="#2222cc" opacity="0.24"/><circle cx="229.0" cy="860.5" r="0.8" fill="#2222cc" opacity="0.33"/><circle cx="323.8" cy="853.3" r="1.2" fill="#2222cc" opacity="0.13"/><circle cx="305.1" cy="849.2" r="0.5" fill="#2222cc" opacity="0.32"/><circle cx="253.7" cy="860.4" r="1.4" fill="#2222cc" opacity="0.32"/><circle cx="263.8" cy="954.3" r="1.0" fill="#2222cc" opacity="0.27"/><circle cx="253.1" cy="951.8" r="1.1" fill="#2222cc" opacity="0.34"/></g>
<g filter="url(#b05)"><circle cx="463.0" cy="936.8" r="0.9" fill="#2222cc" opacity="0.17"/><circle cx="363.1" cy="916.7" r="0.9" fill="#2222cc" opacity="0.29"/><circle cx="410.0" cy="930.2" r="0.7" fill="#2222cc" opacity="0.30"/><circle cx="455.0" cy="885.4" r="1.0" fill="#2222cc" opacity="0.27"/><circle cx="387.3" cy="903.0" r="1.2" fill="#2222cc" opacity="0.17"/><circle cx="464.2" cy="919.6" r="1.3" fill="#2222cc" opacity="0.18"/><circle cx="374.7" cy="934.0" r="1.2" fill="#2222cc" opacity="0.21"/><circle cx="374.8" cy="858.0" r="1.1" fill="#2222cc" opacity="0.17"/><circle cx="482.9" cy="907.4" r="0.7" fill="#2222cc" opacity="0.26"/><circle cx="408.4" cy="950.7" r="1.3" fill="#2222cc" opacity="0.23"/></g>
<g filter="url(#b05)"><circle cx="268.1" cy="987.6" r="1.1" fill="#2a2ae8" opacity="0.34"/><circle cx="294.8" cy="1014.7" r="0.6" fill="#2a2ae8" opacity="0.55"/><circle cx="232.0" cy="1023.2" r="0.6" fill="#2a2ae8" opacity="0.35"/><circle cx="280.8" cy="1072.8" r="0.6" fill="#2a2ae8" opacity="0.41"/><circle cx="306.4" cy="1088.0" r="1.0" fill="#2a2ae8" opacity="0.50"/><circle cx="350.3" cy="974.5" r="1.3" fill="#2a2ae8" opacity="0.44"/><circle cx="245.5" cy="983.4" r="0.8" fill="#2a2ae8" opacity="0.71"/><circle cx="250.1" cy="1041.9" r="1.1" fill="#2a2ae8" opacity="0.49"/><circle cx="296.3" cy="976.5" r="0.6" fill="#2a2ae8" opacity="0.40"/><circle cx="313.0" cy="1022.5" r="0.8" fill="#2a2ae8" opacity="0.59"/><circle cx="284.4" cy="1006.4" r="1.2" fill="#2a2ae8" opacity="0.65"/><circle cx="258.1" cy="1041.0" r="1.0" fill="#2a2ae8" opacity="0.74"/><circle cx="319.2" cy="1004.9" r="1.4" fill="#2a2ae8" opacity="0.36"/><circle cx="280.0" cy="1064.0" r="0.6" fill="#2a2ae8" opacity="0.54"/><circle cx="232.2" cy="1052.8" r="1.2" fill="#2a2ae8" opacity="0.59"/><circle cx="337.6" cy="1008.1" r="1.1" fill="#2a2ae8" opacity="0.60"/><circle cx="300.4" cy="1026.1" r="1.3" fill="#2a2ae8" opacity="0.77"/><circle cx="287.0" cy="1052.3" r="0.6" fill="#2a2ae8" opacity="0.65"/><circle cx="308.8" cy="1093.7" r="1.2" fill="#2a2ae8" opacity="0.44"/><circle cx="275.9" cy="1052.9" r="0.5" fill="#2a2ae8" opacity="0.53"/><circle cx="248.5" cy="983.4" r="0.6" fill="#2a2ae8" opacity="0.68"/><circle cx="243.6" cy="999.8" r="0.9" fill="#2a2ae8" opacity="0.74"/><circle cx="237.5" cy="1025.2" r="1.0" fill="#2a2ae8" opacity="0.74"/><circle cx="330.5" cy="1077.5" r="0.8" fill="#2a2ae8" opacity="0.51"/><circle cx="272.5" cy="1080.0" r="1.4" fill="#2a2ae8" opacity="0.38"/><circle cx="249.5" cy="997.8" r="0.7" fill="#2a2ae8" opacity="0.54"/></g>
<g clip-path="url(#pc00)"><clipPath id="cc1"><path d="M103.5 792.5C105.6 790.3 106.6 791.7 113.7 788.4C120.8 785.1 121.4 786.2 130.1 780.2C138.8 774.2 136.7 774.1 146.5 765.9C156.3 757.7 157.2 757.4 167.0 749.5C176.8 741.5 175.5 741.9 183.4 736.1C191.3 730.4 192.1 731.4 196.7 727.9C201.4 724.5 198.6 724.0 200.8 723.2C203.0 722.4 203.6 723.3 204.9 724.9C206.3 726.4 207.3 726.5 206.0 729.0C204.6 731.4 204.7 729.7 199.8 734.1C194.9 738.4 195.2 738.5 187.5 745.4C179.8 752.2 179.8 752.0 171.1 759.7C162.4 767.4 161.8 767.5 154.7 774.1C147.6 780.6 151.0 779.4 144.5 784.3C137.9 789.2 137.2 788.4 130.1 792.5C123.0 796.6 122.2 798.3 117.8 799.7C113.4 801.0 117.0 798.4 113.7 797.6C110.4 796.8 108.2 798.0 105.5 796.6C102.8 795.2 101.3 794.7 103.5 792.5Z"/></clipPath><path d="M103.5 792.5C105.6 790.3 106.6 791.7 113.7 788.4C120.8 785.1 121.4 786.2 130.1 780.2C138.8 774.2 136.7 774.1 146.5 765.9C156.3 757.7 157.2 757.4 167.0 749.5C176.8 741.5 175.5 741.9 183.4 736.1C191.3 730.4 192.1 731.4 196.7 727.9C201.4 724.5 198.6 724.0 200.8 723.2C203.0 722.4 203.6 723.3 204.9 724.9C206.3 726.4 207.3 726.5 206.0 729.0C204.6 731.4 204.7 729.7 199.8 734.1C194.9 738.4 195.2 738.5 187.5 745.4C179.8 752.2 179.8 752.0 171.1 759.7C162.4 767.4 161.8 767.5 154.7 774.1C147.6 780.6 151.0 779.4 144.5 784.3C137.9 789.2 137.2 788.4 130.1 792.5C123.0 796.6 122.2 798.3 117.8 799.7C113.4 801.0 117.0 798.4 113.7 797.6C110.4 796.8 108.2 798.0 105.5 796.6C102.8 795.2 101.3 794.7 103.5 792.5Z" fill="#28b42c" opacity="0.5" filter="url(#b2)"/><g filter="url(#tex)"><path d="M103.5 792.5C105.6 790.3 106.6 791.7 113.7 788.4C120.8 785.1 121.4 786.2 130.1 780.2C138.8 774.2 136.7 774.1 146.5 765.9C156.3 757.7 157.2 757.4 167.0 749.5C176.8 741.5 175.5 741.9 183.4 736.1C191.3 730.4 192.1 731.4 196.7 727.9C201.4 724.5 198.6 724.0 200.8 723.2C203.0 722.4 203.6 723.3 204.9 724.9C206.3 726.4 207.3 726.5 206.0 729.0C204.6 731.4 204.7 729.7 199.8 734.1C194.9 738.4 195.2 738.5 187.5 745.4C179.8 752.2 179.8 752.0 171.1 759.7C162.4 767.4 161.8 767.5 154.7 774.1C147.6 780.6 151.0 779.4 144.5 784.3C137.9 789.2 137.2 788.4 130.1 792.5C123.0 796.6 122.2 798.3 117.8 799.7C113.4 801.0 117.0 798.4 113.7 797.6C110.4 796.8 108.2 798.0 105.5 796.6C102.8 795.2 101.3 794.7 103.5 792.5Z" fill="#28b42c"/></g><g filter="url(#b05)"><g clip-path="url(#cc1)" stroke="#74fa5c" fill="none"><path d="M126.2 774.7L200.2 720.0" stroke-width="0.91" stroke-opacity="0.68"/><path d="M101.5 745.7L166.5 705.2" stroke-width="0.58" stroke-opacity="0.50"/><path d="M111.7 728.0L157.5 686.3" stroke-width="1.29" stroke-opacity="0.93"/><path d="M146.5 796.4L176.3 768.9" stroke-width="0.92" stroke-opacity="0.34"/><path d="M89.9 758.6L134.9 725.3" stroke-width="0.85" stroke-opacity="0.85"/><path d="M134.7 777.8L185.0 744.3" stroke-width="0.87" stroke-opacity="0.48"/><path d="M190.3 816.5L240.1 784.0" stroke-width="0.75" stroke-opacity="0.45"/><path d="M89.4 776.3L179.1 707.8" stroke-width="1.18" stroke-opacity="0.55"/><path d="M180.4 818.6L192.8 808.2" stroke-width="1.23" stroke-opacity="0.61"/><path d="M158.0 835.8L198.4 808.3" stroke-width="1.12" stroke-opacity="0.48"/><path d="M84.6 741.6L176.4 683.2" stroke-width="0.59" stroke-opacity="0.46"/><path d="M76.4 759.2L164.3 684.4" stroke-width="0.95" stroke-opacity="0.59"/><path d="M114.1 739.7L140.3 722.0" stroke-width="0.59" stroke-opacity="0.57"/><path d="M90.8 756.7L186.9 697.0" stroke-width="0.74" stroke-opacity="0.88"/><path d="M98.1 753.7L179.4 698.8" stroke-width="0.58" stroke-opacity="0.94"/><path d="M93.4 761.7L173.0 698.8" stroke-width="0.74" stroke-opacity="0.35"/><path d="M98.7 734.4L138.2 707.2" stroke-width="0.80" stroke-opacity="0.59"/><path d="M159.7 828.8L224.0 790.2" stroke-width="0.65" stroke-opacity="0.40"/><path d="M175.1 814.5L200.8 792.8" stroke-width="1.09" stroke-opacity="0.91"/><path d="M125.9 732.7L179.4 695.8" stroke-width="0.84" stroke-opacity="0.37"/><path d="M114.2 715.3L134.2 702.2" stroke-width="0.71" stroke-opacity="0.84"/><path d="M122.3 797.6L174.2 764.0" stroke-width="0.56" stroke-opacity="0.45"/><path d="M149.6 775.7L191.8 741.5" stroke-width="1.23" stroke-opacity="0.43"/><path d="M80.8 742.7L140.4 689.0" stroke-width="0.64" stroke-opacity="0.54"/><path d="M110.6 798.5L182.7 755.9" stroke-width="1.28" stroke-opacity="0.73"/><path d="M147.9 801.6L178.5 773.7" stroke-width="0.51" stroke-opacity="0.89"/><path d="M165.6 786.0L174.1 780.3" stroke-width="0.89" stroke-opacity="0.77"/><path d="M137.9 744.1L147.2 737.5" stroke-width="1.09" stroke-opacity="0.89"/><path d="M154.2 797.8L218.8 760.0" stroke-width="0.78" stroke-opacity="0.75"/><path d="M176.1 810.2L210.7 788.6" stroke-width="1.19" stroke-opacity="0.67"/><path d="M129.8 798.6L197.2 752.2" stroke-width="0.56" stroke-opacity="0.72"/><path d="M184.4 820.7L231.7 784.3" stroke-width="1.09" stroke-opacity="0.68"/><path d="M138.8 762.3L157.3 750.5" stroke-width="0.52" stroke-opacity="0.69"/><path d="M111.6 789.7L191.3 731.7" stroke-width="0.99" stroke-opacity="0.90"/><path d="M81.4 771.4L154.2 723.1" stroke-width="0.66" stroke-opacity="0.41"/><path d="M165.0 817.3L212.8 789.0" stroke-width="0.76" stroke-opacity="0.73"/><path d="M97.7 748.9L177.8 702.1" stroke-width="1.20" stroke-opacity="0.55"/><path d="M123.9 797.4L170.7 763.4" stroke-width="1.17" stroke-opacity="0.85"/><path d="M166.2 788.2L186.8 770.6" stroke-width="0.86" stroke-opacity="0.48"/><path d="M100.2 754.5L166.9 705.9" stroke-width="0.75" stroke-opacity="0.85"/><path d="M164.3 838.2L198.0 807.5" stroke-width="1.20" stroke-opacity="0.33"/><path d="M145.3 799.7L190.1 771.7" stroke-width="0.52" stroke-opacity="0.39"/><path d="M101.6 797.7L193.8 721.4" stroke-width="0.61" stroke-opacity="0.33"/><path d="M133.2 796.4L200.2 751.4" stroke-width="1.15" stroke-opacity="0.92"/><path d="M128.3 815.8L194.2 759.7" stroke-width="0.51" stroke-opacity="0.61"/><path d="M128.3 818.1L187.3 771.7" stroke-width="1.06" stroke-opacity="0.64"/><path d="M147.8 783.5L187.3 758.8" stroke-width="1.22" stroke-opacity="0.36"/><path d="M171.6 819.9L197.4 800.8" stroke-width="1.00" stroke-opacity="0.89"/><path d="M119.4 764.3L194.7 717.4" stroke-width="1.26" stroke-opacity="0.60"/><path d="M121.2 805.4L207.7 752.1" stroke-width="1.01" stroke-opacity="0.77"/><path d="M124.1 735.6L188.8 699.0" stroke-width="0.93" stroke-opacity="0.81"/><path d="M133.7 747.8L185.6 707.2" stroke-width="0.57" stroke-opacity="0.59"/><path d="M145.5 778.8L183.5 744.0" stroke-width="1.15" stroke-opacity="0.34"/><path d="M131.2 822.7L198.5 780.6" stroke-width="0.61" stroke-opacity="0.40"/><path d="M138.8 774.6L202.7 732.4" stroke-width="1.26" stroke-opacity="0.62"/><path d="M140.3 844.6L203.5 799.4" stroke-width="0.73" stroke-opacity="0.77"/><path d="M138.3 795.4L211.4 743.9" stroke-width="0.75" stroke-opacity="0.55"/><path d="M173.3 803.2L195.4 789.8" stroke-width="1.27" stroke-opacity="0.64"/><path d="M117.2 800.6L190.2 747.6" stroke-width="0.98" stroke-opacity="0.32"/><path d="M162.5 829.3L215.2 796.5" stroke-width="0.95" stroke-opacity="0.62"/></g></g></g>
<g clip-path="url(#pc00)"><ellipse cx="140" cy="777" rx="8" ry="5.3" transform="rotate(-20 140 777)" fill="#4d93f4" opacity="0.95" filter="url(#b05)"/></g>
<g clip-path="url(#pc01)"><g filter="url(#b05)"><ellipse cx="270.5" cy="770" rx="8.3" ry="9.6" fill="#0b4a1c" stroke="#46e455" stroke-width="1.5"/><ellipse cx="269.0" cy="773.5" rx="4.6" ry="4.8" fill="#2a30f0"/></g></g>
<g clip-path="url(#pc02)"><g filter="url(#b05)"><ellipse cx="399.3" cy="742.7" rx="5" ry="5.4" fill="#0b4a1c" stroke="#46e455" stroke-width="1.5"/><ellipse cx="399.3" cy="742.7" rx="2.8" ry="2.7" fill="#2a30f0"/></g>
<g filter="url(#b05)"><ellipse cx="460.6" cy="778.2" rx="5" ry="5" fill="#0b4a1c" stroke="#46e455" stroke-width="1.5"/><ellipse cx="460.6" cy="778.2" rx="2.8" ry="2.5" fill="#2a30f0"/></g>
<g filter="url(#b05)"><ellipse cx="425.7" cy="795" rx="4.8" ry="5.6" fill="#0b4a1c" stroke="#46e455" stroke-width="1.5"/><ellipse cx="425.7" cy="795" rx="2.6" ry="2.8" fill="#2a30f0"/></g></g>
<g fill="#2a2ad8" opacity="0.5" filter="url(#b05)"><circle cx="310" cy="742" r="1.2"/><circle cx="313" cy="748" r="1"/><circle cx="307" cy="750" r="0.9"/><circle cx="315" cy="776" r="1.5"/><circle cx="162" cy="776" r="1.4"/><circle cx="428" cy="808" r="2"/><circle cx="424" cy="809" r="1.4"/></g>
<g clip-path="url(#pc10)"><clipPath id="cc2"><path d="M100.4 831.7C102.0 827.8 107.9 831.6 115.8 831.7C123.6 831.8 128.8 826.3 134.2 832.2C139.6 838.0 136.3 850.1 138.7 856.8C141.1 863.4 141.7 862.8 144.5 860.4C147.2 858.0 148.3 853.1 150.6 846.5C152.9 839.9 152.8 835.5 154.3 832.2C155.8 828.8 156.7 826.4 157.2 832.2C157.6 837.9 155.4 848.4 156.3 856.8C157.3 865.1 157.3 861.3 161.3 868.0C165.2 874.7 166.1 878.1 173.2 885.5C180.2 892.8 183.5 894.3 191.6 899.4C199.7 904.5 201.5 903.8 208.0 907.4C214.5 911.0 219.3 913.6 219.3 914.8C219.3 916.0 215.4 914.0 208.0 912.5C200.6 911.0 197.1 908.4 187.5 908.4C177.9 908.4 174.7 909.2 167.0 912.5C159.3 915.9 159.5 917.5 154.7 922.8C149.9 928.0 150.1 926.1 146.5 935.1C142.9 944.1 143.2 955.2 139.3 961.3C135.5 967.4 131.3 965.1 130.1 961.3C128.9 957.5 131.9 953.5 134.2 944.9C136.5 936.3 140.4 934.0 139.9 924.4C139.5 914.8 136.4 914.9 132.2 903.9C127.9 892.9 127.4 890.2 121.9 877.3C116.4 864.3 113.6 859.2 108.6 848.6C103.6 837.9 98.7 835.7 100.4 831.7Z"/></clipPath><path d="M100.4 831.7C102.0 827.8 107.9 831.6 115.8 831.7C123.6 831.8 128.8 826.3 134.2 832.2C139.6 838.0 136.3 850.1 138.7 856.8C141.1 863.4 141.7 862.8 144.5 860.4C147.2 858.0 148.3 853.1 150.6 846.5C152.9 839.9 152.8 835.5 154.3 832.2C155.8 828.8 156.7 826.4 157.2 832.2C157.6 837.9 155.4 848.4 156.3 856.8C157.3 865.1 157.3 861.3 161.3 868.0C165.2 874.7 166.1 878.1 173.2 885.5C180.2 892.8 183.5 894.3 191.6 899.4C199.7 904.5 201.5 903.8 208.0 907.4C214.5 911.0 219.3 913.6 219.3 914.8C219.3 916.0 215.4 914.0 208.0 912.5C200.6 911.0 197.1 908.4 187.5 908.4C177.9 908.4 174.7 909.2 167.0 912.5C159.3 915.9 159.5 917.5 154.7 922.8C149.9 928.0 150.1 926.1 146.5 935.1C142.9 944.1 143.2 955.2 139.3 961.3C135.5 967.4 131.3 965.1 130.1 961.3C128.9 957.5 131.9 953.5 134.2 944.9C136.5 936.3 140.4 934.0 139.9 924.4C139.5 914.8 136.4 914.9 132.2 903.9C127.9 892.9 127.4 890.2 121.9 877.3C116.4 864.3 113.6 859.2 108.6 848.6C103.6 837.9 98.7 835.7 100.4 831.7Z" fill="#167a1c" opacity="0.45" filter="url(#b2)"/><g filter="url(#tex)"><path d="M100.4 831.7C102.0 827.8 107.9 831.6 115.8 831.7C123.6 831.8 128.8 826.3 134.2 832.2C139.6 838.0 136.3 850.1 138.7 856.8C141.1 863.4 141.7 862.8 144.5 860.4C147.2 858.0 148.3 853.1 150.6 846.5C152.9 839.9 152.8 835.5 154.3 832.2C155.8 828.8 156.7 826.4 157.2 832.2C157.6 837.9 155.4 848.4 156.3 856.8C157.3 865.1 157.3 861.3 161.3 868.0C165.2 874.7 166.1 878.1 173.2 885.5C180.2 892.8 183.5 894.3 191.6 899.4C199.7 904.5 201.5 903.8 208.0 907.4C214.5 911.0 219.3 913.6 219.3 914.8C219.3 916.0 215.4 914.0 208.0 912.5C200.6 911.0 197.1 908.4 187.5 908.4C177.9 908.4 174.7 909.2 167.0 912.5C159.3 915.9 159.5 917.5 154.7 922.8C149.9 928.0 150.1 926.1 146.5 935.1C142.9 944.1 143.2 955.2 139.3 961.3C135.5 967.4 131.3 965.1 130.1 961.3C128.9 957.5 131.9 953.5 134.2 944.9C136.5 936.3 140.4 934.0 139.9 924.4C139.5 914.8 136.4 914.9 132.2 903.9C127.9 892.9 127.4 890.2 121.9 877.3C116.4 864.3 113.6 859.2 108.6 848.6C103.6 837.9 98.7 835.7 100.4 831.7Z" fill="#167a1c"/></g><g filter="url(#b05)"><g clip-path="url(#cc2)" stroke="#5af04a" fill="none"><path d="M194.1 838.5L242.8 913.9" stroke-width="0.67" stroke-opacity="0.82"/><path d="M81.6 891.9L145.1 960.9" stroke-width="0.50" stroke-opacity="0.54"/><path d="M89.8 843.0L195.9 957.8" stroke-width="0.69" stroke-opacity="0.33"/><path d="M71.6 920.1L120.3 1014.3" stroke-width="0.53" stroke-opacity="0.51"/><path d="M111.7 832.6L212.2 964.6" stroke-width="0.62" stroke-opacity="0.83"/><path d="M211.7 851.5L238.6 898.2" stroke-width="0.77" stroke-opacity="0.62"/><path d="M148.8 802.9L260.7 924.4" stroke-width="1.12" stroke-opacity="0.44"/><path d="M83.4 928.6L113.6 1005.4" stroke-width="0.96" stroke-opacity="0.77"/><path d="M183.2 825.1L269.6 914.6" stroke-width="1.24" stroke-opacity="0.88"/><path d="M138.6 840.7L199.3 922.5" stroke-width="1.30" stroke-opacity="0.55"/><path d="M214.6 771.3L245.9 915.8" stroke-width="0.90" stroke-opacity="0.62"/><path d="M140.1 878.3L163.0 922.1" stroke-width="0.95" stroke-opacity="0.70"/><path d="M189.2 793.2L217.3 899.2" stroke-width="0.78" stroke-opacity="0.69"/><path d="M162.4 801.6L192.7 887.6" stroke-width="1.12" stroke-opacity="0.54"/><path d="M124.3 882.7L151.0 993.0" stroke-width="0.83" stroke-opacity="0.94"/><path d="M68.3 907.2L132.2 1008.0" stroke-width="0.80" stroke-opacity="0.46"/><path d="M76.7 860.8L106.0 942.2" stroke-width="1.12" stroke-opacity="0.61"/><path d="M53.0 863.6L125.6 948.8" stroke-width="0.84" stroke-opacity="0.41"/><path d="M212.2 795.9L243.2 934.8" stroke-width="1.10" stroke-opacity="0.61"/><path d="M194.5 865.5L216.8 918.4" stroke-width="0.52" stroke-opacity="0.44"/><path d="M97.9 909.3L145.6 999.3" stroke-width="0.84" stroke-opacity="0.68"/><path d="M64.8 881.8L139.4 967.7" stroke-width="1.11" stroke-opacity="0.31"/><path d="M127.6 906.8L134.6 919.9" stroke-width="1.02" stroke-opacity="0.85"/><path d="M131.0 838.5L156.2 942.6" stroke-width="1.22" stroke-opacity="0.39"/><path d="M175.7 790.1L225.4 863.4" stroke-width="0.61" stroke-opacity="0.86"/><path d="M86.3 849.9L168.0 950.6" stroke-width="0.90" stroke-opacity="0.44"/><path d="M181.1 796.7L225.5 898.4" stroke-width="0.94" stroke-opacity="0.33"/><path d="M122.4 902.3L152.2 982.9" stroke-width="0.51" stroke-opacity="0.60"/><path d="M216.6 832.3L234.2 872.8" stroke-width="0.70" stroke-opacity="0.75"/><path d="M133.2 812.3L212.3 907.8" stroke-width="1.22" stroke-opacity="0.49"/><path d="M127.3 868.1L223.0 953.9" stroke-width="0.98" stroke-opacity="0.63"/><path d="M121.1 912.2L136.7 947.2" stroke-width="0.92" stroke-opacity="0.66"/><path d="M213.9 838.9L280.3 924.4" stroke-width="0.75" stroke-opacity="0.95"/><path d="M192.0 780.4L223.2 869.3" stroke-width="1.11" stroke-opacity="0.59"/><path d="M91.6 835.2L174.9 957.3" stroke-width="0.91" stroke-opacity="0.55"/><path d="M134.7 829.0L179.8 894.3" stroke-width="0.70" stroke-opacity="0.76"/><path d="M92.4 906.1L140.8 958.8" stroke-width="0.81" stroke-opacity="0.62"/><path d="M135.6 902.7L146.1 919.0" stroke-width="0.89" stroke-opacity="0.77"/><path d="M91.7 912.0L121.7 987.7" stroke-width="1.03" stroke-opacity="0.86"/><path d="M121.1 885.0L136.2 940.0" stroke-width="0.81" stroke-opacity="0.70"/><path d="M104.3 922.8L180.2 982.5" stroke-width="0.75" stroke-opacity="0.50"/><path d="M118.0 835.2L215.4 920.2" stroke-width="0.74" stroke-opacity="0.91"/><path d="M110.9 870.6L126.1 933.0" stroke-width="1.06" stroke-opacity="0.43"/><path d="M161.6 854.6L226.6 927.7" stroke-width="1.26" stroke-opacity="0.51"/><path d="M189.9 857.0L204.7 889.1" stroke-width="0.66" stroke-opacity="0.69"/><path d="M162.2 827.2L240.4 946.2" stroke-width="0.85" stroke-opacity="0.70"/><path d="M143.9 819.1L217.9 903.8" stroke-width="0.65" stroke-opacity="0.92"/><path d="M222.5 833.2L264.9 929.3" stroke-width="0.52" stroke-opacity="0.63"/><path d="M204.5 824.6L273.5 900.1" stroke-width="0.51" stroke-opacity="0.65"/><path d="M204.0 796.9L233.7 899.5" stroke-width="0.80" stroke-opacity="0.39"/><path d="M100.2 911.7L153.5 956.2" stroke-width="0.65" stroke-opacity="0.56"/><path d="M129.8 834.3L174.8 970.8" stroke-width="1.24" stroke-opacity="0.87"/><path d="M222.3 811.9L236.5 861.5" stroke-width="1.10" stroke-opacity="0.79"/><path d="M167.9 791.7L241.9 932.4" stroke-width="1.00" stroke-opacity="0.61"/><path d="M76.6 876.9L131.0 946.9" stroke-width="0.74" stroke-opacity="0.71"/><path d="M56.5 862.2L105.7 942.5" stroke-width="1.04" stroke-opacity="0.42"/><path d="M149.7 802.7L199.0 881.1" stroke-width="1.04" stroke-opacity="0.72"/><path d="M170.9 794.1L254.5 936.4" stroke-width="0.83" stroke-opacity="0.75"/><path d="M110.5 875.5L128.7 928.8" stroke-width="0.67" stroke-opacity="0.33"/><path d="M150.9 851.1L223.5 923.5" stroke-width="1.07" stroke-opacity="0.62"/><path d="M206.7 847.7L231.2 935.0" stroke-width="1.04" stroke-opacity="0.44"/><path d="M114.0 910.7L130.9 971.2" stroke-width="1.28" stroke-opacity="0.55"/><path d="M84.7 932.5L149.1 983.5" stroke-width="0.78" stroke-opacity="0.70"/><path d="M125.4 889.0L186.2 948.6" stroke-width="1.24" stroke-opacity="0.65"/><path d="M65.7 870.2L146.2 1010.8" stroke-width="1.12" stroke-opacity="0.78"/><path d="M67.0 885.2L108.2 942.4" stroke-width="0.64" stroke-opacity="0.65"/><path d="M66.0 889.4L124.0 936.4" stroke-width="0.84" stroke-opacity="0.68"/><path d="M207.6 829.1L248.7 866.5" stroke-width="1.24" stroke-opacity="0.64"/><path d="M68.5 900.2L109.7 945.2" stroke-width="0.84" stroke-opacity="0.72"/><path d="M101.3 903.2L158.6 967.1" stroke-width="0.84" stroke-opacity="0.55"/><path d="M124.2 839.6L189.4 937.5" stroke-width="0.53" stroke-opacity="0.83"/><path d="M138.4 885.1L172.7 966.9" stroke-width="1.29" stroke-opacity="0.54"/><path d="M133.0 807.8L205.5 940.1" stroke-width="0.96" stroke-opacity="0.95"/><path d="M182.5 801.2L228.5 931.0" stroke-width="0.89" stroke-opacity="0.34"/><path d="M168.9 868.1L205.7 923.5" stroke-width="0.81" stroke-opacity="0.71"/><path d="M133.3 877.4L174.1 978.7" stroke-width="0.80" stroke-opacity="0.46"/><path d="M101.4 907.4L175.1 983.6" stroke-width="1.18" stroke-opacity="0.88"/><path d="M178.4 812.2L266.6 896.8" stroke-width="1.16" stroke-opacity="0.47"/><path d="M87.3 867.2L148.0 930.6" stroke-width="0.90" stroke-opacity="0.76"/><path d="M189.1 841.5L217.4 899.4" stroke-width="0.79" stroke-opacity="0.43"/><path d="M165.3 793.1L251.7 914.4" stroke-width="0.60" stroke-opacity="0.87"/><path d="M94.6 833.6L167.6 969.8" stroke-width="0.86" stroke-opacity="0.63"/><path d="M63.4 888.7L115.6 993.2" stroke-width="0.79" stroke-opacity="0.53"/><path d="M102.4 890.4L143.6 958.0" stroke-width="0.68" stroke-opacity="0.81"/><path d="M209.1 825.3L262.7 882.4" stroke-width="0.97" stroke-opacity="0.68"/><path d="M206.4 812.0L229.2 874.6" stroke-width="0.76" stroke-opacity="0.51"/><path d="M141.5 809.8L217.9 883.6" stroke-width="1.00" stroke-opacity="0.85"/><path d="M143.2 815.5L239.3 903.9" stroke-width="0.82" stroke-opacity="0.79"/><path d="M182.5 848.3L243.0 901.6" stroke-width="0.69" stroke-opacity="0.69"/><path d="M197.5 789.6L239.1 908.8" stroke-width="0.92" stroke-opacity="0.73"/><path d="M217.7 788.0L243.1 880.3" stroke-width="0.79" stroke-opacity="0.81"/><path d="M213.8 808.0L259.9 927.4" stroke-width="0.96" stroke-opacity="0.42"/><path d="M65.1 859.5L125.9 1018.3" stroke-width="1.08" stroke-opacity="0.64"/><path d="M184.7 809.7L237.7 919.6" stroke-width="0.81" stroke-opacity="0.82"/><path d="M186.8 803.2L235.6 863.5" stroke-width="1.13" stroke-opacity="0.79"/><path d="M185.9 805.7L219.4 875.8" stroke-width="0.85" stroke-opacity="0.45"/><path d="M172.4 869.9L195.8 921.7" stroke-width="1.00" stroke-opacity="0.61"/><path d="M119.8 852.1L162.7 920.0" stroke-width="0.74" stroke-opacity="0.51"/><path d="M199.4 858.1L236.0 896.0" stroke-width="0.53" stroke-opacity="0.44"/><path d="M62.1 886.8L145.4 976.7" stroke-width="1.02" stroke-opacity="0.59"/><path d="M94.5 885.2L147.7 946.7" stroke-width="0.98" stroke-opacity="0.84"/><path d="M116.9 867.8L139.7 946.0" stroke-width="1.18" stroke-opacity="0.39"/><path d="M126.9 890.3L146.9 974.1" stroke-width="1.20" stroke-opacity="0.46"/><path d="M70.2 883.5L92.3 979.9" stroke-width="0.63" stroke-opacity="0.56"/><path d="M117.6 846.0L150.1 934.1" stroke-width="0.99" stroke-opacity="0.78"/><path d="M110.6 909.6L142.0 1000.6" stroke-width="1.28" stroke-opacity="0.62"/><path d="M109.1 874.3L167.1 994.3" stroke-width="0.84" stroke-opacity="0.73"/><path d="M133.8 822.7L218.3 902.8" stroke-width="0.50" stroke-opacity="0.36"/><path d="M155.8 870.1L170.6 899.9" stroke-width="0.59" stroke-opacity="0.63"/><path d="M160.9 834.8L228.9 930.3" stroke-width="0.81" stroke-opacity="0.77"/></g></g></g>
<g clip-path="url(#pc10)"><ellipse cx="161.5" cy="906" rx="6" ry="8.6" transform="rotate(-15 161.5 906)" fill="#3646e6" opacity="0.95" filter="url(#b05)"/></g>
<g clip-path="url(#pc11)"><clipPath id="cc3"><path d="M280.8 831.7C282.0 827.3 284.3 826.4 286.9 831.7C289.6 837.1 289.4 846.5 292.1 854.7C294.7 862.9 295.8 868.0 298.2 867.0C300.6 866.0 301.1 858.8 302.3 850.6C303.5 842.4 302.6 836.1 303.5 831.7C304.5 827.3 305.5 825.4 306.4 831.7C307.3 838.1 306.9 845.8 307.4 858.8C308.0 871.8 307.2 875.1 308.9 887.5C310.5 899.9 311.3 900.6 314.6 912.1C317.9 923.6 318.5 925.2 322.8 936.7C327.1 948.2 335.4 955.6 333.1 961.3C330.7 967.0 318.8 967.0 312.6 961.3C306.3 955.6 309.8 948.2 306.4 936.7C303.1 925.2 302.0 922.1 298.2 912.1C294.4 902.1 293.6 901.3 290.0 893.7C286.4 886.0 284.0 885.5 282.8 879.3C281.6 873.1 285.1 873.7 284.9 867.0C284.6 860.3 282.8 858.8 281.8 850.6C280.8 842.4 279.6 836.1 280.8 831.7Z"/></clipPath><path d="M280.8 831.7C282.0 827.3 284.3 826.4 286.9 831.7C289.6 837.1 289.4 846.5 292.1 854.7C294.7 862.9 295.8 868.0 298.2 867.0C300.6 866.0 301.1 858.8 302.3 850.6C303.5 842.4 302.6 836.1 303.5 831.7C304.5 827.3 305.5 825.4 306.4 831.7C307.3 838.1 306.9 845.8 307.4 858.8C308.0 871.8 307.2 875.1 308.9 887.5C310.5 899.9 311.3 900.6 314.6 912.1C317.9 923.6 318.5 925.2 322.8 936.7C327.1 948.2 335.4 955.6 333.1 961.3C330.7 967.0 318.8 967.0 312.6 961.3C306.3 955.6 309.8 948.2 306.4 936.7C303.1 925.2 302.0 922.1 298.2 912.1C294.4 902.1 293.6 901.3 290.0 893.7C286.4 886.0 284.0 885.5 282.8 879.3C281.6 873.1 285.1 873.7 284.9 867.0C284.6 860.3 282.8 858.8 281.8 850.6C280.8 842.4 279.6 836.1 280.8 831.7Z" fill="#1d9624" opacity="0.45" filter="url(#b2)"/><g filter="url(#tex)"><path d="M280.8 831.7C282.0 827.3 284.3 826.4 286.9 831.7C289.6 837.1 289.4 846.5 292.1 854.7C294.7 862.9 295.8 868.0 298.2 867.0C300.6 866.0 301.1 858.8 302.3 850.6C303.5 842.4 302.6 836.1 303.5 831.7C304.5 827.3 305.5 825.4 306.4 831.7C307.3 838.1 306.9 845.8 307.4 858.8C308.0 871.8 307.2 875.1 308.9 887.5C310.5 899.9 311.3 900.6 314.6 912.1C317.9 923.6 318.5 925.2 322.8 936.7C327.1 948.2 335.4 955.6 333.1 961.3C330.7 967.0 318.8 967.0 312.6 961.3C306.3 955.6 309.8 948.2 306.4 936.7C303.1 925.2 302.0 922.1 298.2 912.1C294.4 902.1 293.6 901.3 290.0 893.7C286.4 886.0 284.0 885.5 282.8 879.3C281.6 873.1 285.1 873.7 284.9 867.0C284.6 860.3 282.8 858.8 281.8 850.6C280.8 842.4 279.6 836.1 280.8 831.7Z" fill="#1d9624"/></g><g filter="url(#b05)"><g clip-path="url(#cc3)" stroke="#6af556" fill="none"><path d="M233.7 853.2L244.4 919.8" stroke-width="0.65" stroke-opacity="0.38"/><path d="M269.7 857.1L307.7 963.1" stroke-width="1.27" stroke-opacity="0.51"/><path d="M291.5 892.4L301.8 950.1" stroke-width="1.07" stroke-opacity="0.33"/><path d="M243.3 882.0L262.8 934.9" stroke-width="1.18" stroke-opacity="0.68"/><path d="M241.5 895.5L264.4 980.7" stroke-width="1.06" stroke-opacity="0.70"/><path d="M338.9 880.5L345.5 911.3" stroke-width="1.26" stroke-opacity="0.72"/><path d="M350.9 867.8L373.4 928.4" stroke-width="0.54" stroke-opacity="0.65"/><path d="M369.2 869.6L381.9 914.7" stroke-width="0.83" stroke-opacity="0.73"/><path d="M236.3 863.8L256.9 941.2" stroke-width="0.74" stroke-opacity="0.69"/><path d="M289.6 857.5L314.3 946.0" stroke-width="0.57" stroke-opacity="0.95"/><path d="M319.4 849.1L332.3 921.4" stroke-width="1.26" stroke-opacity="0.63"/><path d="M297.8 831.5L343.3 953.2" stroke-width="0.94" stroke-opacity="0.53"/><path d="M312.6 845.8L337.0 905.1" stroke-width="0.93" stroke-opacity="0.82"/><path d="M264.7 848.5L305.8 949.5" stroke-width="0.83" stroke-opacity="0.84"/><path d="M237.6 874.4L265.7 972.2" stroke-width="0.92" stroke-opacity="0.68"/><path d="M234.3 895.4L247.0 951.0" stroke-width="1.01" stroke-opacity="0.53"/><path d="M264.9 892.1L275.4 952.2" stroke-width="0.51" stroke-opacity="0.63"/><path d="M277.1 854.6L291.9 916.7" stroke-width="0.85" stroke-opacity="0.47"/><path d="M368.1 872.9L380.2 904.1" stroke-width="0.67" stroke-opacity="0.47"/><path d="M234.5 855.7L264.6 931.9" stroke-width="0.88" stroke-opacity="0.44"/><path d="M324.2 869.1L341.6 955.8" stroke-width="0.53" stroke-opacity="0.55"/><path d="M239.4 843.5L263.6 927.1" stroke-width="0.81" stroke-opacity="0.79"/><path d="M263.2 867.4L283.7 924.5" stroke-width="0.71" stroke-opacity="0.34"/><path d="M269.2 843.8L299.6 965.5" stroke-width="0.55" stroke-opacity="0.62"/><path d="M266.2 836.9L306.7 934.7" stroke-width="1.11" stroke-opacity="0.30"/><path d="M287.1 897.4L309.3 959.5" stroke-width="0.93" stroke-opacity="0.39"/><path d="M323.7 878.4L351.7 945.1" stroke-width="0.80" stroke-opacity="0.72"/><path d="M347.2 867.2L368.8 945.9" stroke-width="0.79" stroke-opacity="0.85"/><path d="M284.3 841.8L313.1 918.1" stroke-width="1.17" stroke-opacity="0.63"/><path d="M274.2 889.2L304.0 970.0" stroke-width="0.82" stroke-opacity="0.87"/><path d="M255.1 864.2L287.5 952.3" stroke-width="0.63" stroke-opacity="0.33"/><path d="M314.3 836.8L330.0 930.1" stroke-width="0.62" stroke-opacity="0.66"/><path d="M249.9 880.7L265.0 949.6" stroke-width="0.52" stroke-opacity="0.92"/><path d="M275.0 888.3L303.1 959.7" stroke-width="0.55" stroke-opacity="0.42"/><path d="M303.9 889.3L325.7 959.4" stroke-width="1.00" stroke-opacity="0.78"/><path d="M328.8 884.4L345.2 956.1" stroke-width="1.22" stroke-opacity="0.82"/><path d="M269.1 855.5L293.5 924.0" stroke-width="0.55" stroke-opacity="0.90"/><path d="M309.1 823.2L344.0 912.0" stroke-width="0.86" stroke-opacity="0.52"/><path d="M339.6 846.3L361.6 914.0" stroke-width="1.15" stroke-opacity="0.50"/><path d="M297.6 886.8L322.2 963.9" stroke-width="0.53" stroke-opacity="0.92"/><path d="M285.8 843.4L309.1 908.7" stroke-width="0.75" stroke-opacity="0.39"/><path d="M367.8 875.0L390.9 934.2" stroke-width="0.88" stroke-opacity="0.82"/><path d="M286.0 832.7L314.4 922.2" stroke-width="1.23" stroke-opacity="0.68"/><path d="M305.9 866.9L314.2 901.6" stroke-width="1.15" stroke-opacity="0.74"/><path d="M306.7 842.4L327.7 895.0" stroke-width="0.62" stroke-opacity="0.59"/><path d="M254.5 852.2L277.2 942.3" stroke-width="1.00" stroke-opacity="0.31"/><path d="M238.1 883.1L257.0 936.1" stroke-width="1.05" stroke-opacity="0.91"/><path d="M313.8 848.2L343.9 929.1" stroke-width="0.82" stroke-opacity="0.90"/><path d="M296.2 883.4L303.2 919.8" stroke-width="1.13" stroke-opacity="0.45"/><path d="M296.4 873.2L313.5 939.0" stroke-width="0.69" stroke-opacity="0.66"/><path d="M324.2 873.6L331.8 919.4" stroke-width="0.96" stroke-opacity="0.45"/><path d="M294.7 834.8L338.9 943.0" stroke-width="0.98" stroke-opacity="0.50"/><path d="M254.4 845.9L279.9 956.2" stroke-width="0.69" stroke-opacity="0.38"/><path d="M313.9 866.1L332.8 911.2" stroke-width="0.85" stroke-opacity="0.83"/><path d="M351.5 875.8L367.7 918.8" stroke-width="0.58" stroke-opacity="0.54"/><path d="M293.7 838.0L312.7 904.6" stroke-width="0.70" stroke-opacity="0.59"/><path d="M305.5 871.7L328.2 935.1" stroke-width="0.64" stroke-opacity="0.86"/><path d="M356.3 816.5L370.7 886.9" stroke-width="0.93" stroke-opacity="0.90"/><path d="M278.6 853.8L296.8 933.7" stroke-width="0.68" stroke-opacity="0.82"/><path d="M301.6 826.3L326.8 919.0" stroke-width="0.62" stroke-opacity="0.89"/><path d="M239.5 877.5L263.2 977.0" stroke-width="0.93" stroke-opacity="0.40"/><path d="M241.6 905.8L254.8 947.3" stroke-width="0.56" stroke-opacity="0.70"/><path d="M246.6 866.7L263.7 933.1" stroke-width="1.13" stroke-opacity="0.41"/><path d="M331.3 860.5L338.3 894.2" stroke-width="0.75" stroke-opacity="0.84"/><path d="M291.1 838.3L314.9 899.3" stroke-width="0.71" stroke-opacity="0.79"/><path d="M259.5 880.2L272.1 932.0" stroke-width="1.09" stroke-opacity="0.54"/><path d="M350.9 842.6L371.2 897.5" stroke-width="0.81" stroke-opacity="0.35"/><path d="M240.3 860.9L266.3 975.6" stroke-width="0.51" stroke-opacity="0.88"/><path d="M254.1 874.2L282.1 970.2" stroke-width="0.52" stroke-opacity="0.40"/><path d="M328.3 876.6L354.9 945.1" stroke-width="0.78" stroke-opacity="0.37"/><path d="M327.4 841.1L355.8 915.6" stroke-width="1.03" stroke-opacity="0.46"/><path d="M244.7 873.9L260.1 944.1" stroke-width="0.78" stroke-opacity="0.47"/><path d="M347.6 831.1L363.4 900.7" stroke-width="0.78" stroke-opacity="0.76"/><path d="M317.8 823.6L345.2 910.9" stroke-width="1.23" stroke-opacity="0.43"/><path d="M336.5 824.8L350.3 905.7" stroke-width="1.25" stroke-opacity="0.45"/><path d="M355.0 842.7L384.9 919.2" stroke-width="0.83" stroke-opacity="0.80"/><path d="M371.0 854.5L386.3 926.0" stroke-width="0.89" stroke-opacity="0.60"/><path d="M283.4 838.3L317.3 933.7" stroke-width="0.76" stroke-opacity="0.33"/><path d="M331.2 818.9L367.7 921.2" stroke-width="0.94" stroke-opacity="0.63"/><path d="M329.0 824.5L354.2 929.0" stroke-width="1.05" stroke-opacity="0.63"/></g></g></g>
<g clip-path="url(#pc11)"><ellipse cx="302.7" cy="893.7" rx="5.6" ry="9" transform="rotate(-8 302.7 893.7)" fill="#4aa0f2" opacity="0.95" filter="url(#b05)"/></g>
<g clip-path="url(#pc12)"><clipPath id="cc4"><path d="M489.9 861.3C492.3 861.7 480.5 864.6 474.5 867.0C468.5 869.4 471.0 867.7 464.3 871.5C457.6 875.3 453.0 878.6 445.8 883.4C438.6 888.2 439.2 886.2 433.5 892.0C427.8 897.8 427.9 900.8 421.2 908.4C414.5 916.1 411.5 921.6 404.8 924.8C398.1 928.1 399.7 925.1 392.5 922.4C385.3 919.6 378.5 917.9 374.1 913.1C369.7 908.3 371.7 908.2 373.6 901.9C375.6 895.5 375.5 890.9 382.3 885.9C389.0 880.8 390.8 883.5 402.8 880.3C414.7 877.1 419.2 875.7 433.5 872.1C447.9 868.5 451.1 867.5 464.3 865.0C477.4 862.4 487.5 860.8 489.9 861.3Z"/></clipPath><path d="M489.9 861.3C492.3 861.7 480.5 864.6 474.5 867.0C468.5 869.4 471.0 867.7 464.3 871.5C457.6 875.3 453.0 878.6 445.8 883.4C438.6 888.2 439.2 886.2 433.5 892.0C427.8 897.8 427.9 900.8 421.2 908.4C414.5 916.1 411.5 921.6 404.8 924.8C398.1 928.1 399.7 925.1 392.5 922.4C385.3 919.6 378.5 917.9 374.1 913.1C369.7 908.3 371.7 908.2 373.6 901.9C375.6 895.5 375.5 890.9 382.3 885.9C389.0 880.8 390.8 883.5 402.8 880.3C414.7 877.1 419.2 875.7 433.5 872.1C447.9 868.5 451.1 867.5 464.3 865.0C477.4 862.4 487.5 860.8 489.9 861.3Z" fill="#14701a" opacity="0.3" filter="url(#b2)"/><g filter="url(#tex)"><path d="M489.9 861.3C492.3 861.7 480.5 864.6 474.5 867.0C468.5 869.4 471.0 867.7 464.3 871.5C457.6 875.3 453.0 878.6 445.8 883.4C438.6 888.2 439.2 886.2 433.5 892.0C427.8 897.8 427.9 900.8 421.2 908.4C414.5 916.1 411.5 921.6 404.8 924.8C398.1 928.1 399.7 925.1 392.5 922.4C385.3 919.6 378.5 917.9 374.1 913.1C369.7 908.3 371.7 908.2 373.6 901.9C375.6 895.5 375.5 890.9 382.3 885.9C389.0 880.8 390.8 883.5 402.8 880.3C414.7 877.1 419.2 875.7 433.5 872.1C447.9 868.5 451.1 867.5 464.3 865.0C477.4 862.4 487.5 860.8 489.9 861.3Z" fill="#14701a"/></g><g filter="url(#b05)"><g clip-path="url(#cc4)" stroke="#4ee040" fill="none"><path d="M447.7 950.3L505.7 914.7" stroke-width="0.97" stroke-opacity="0.58"/><path d="M378.4 920.5L447.9 890.6" stroke-width="0.68" stroke-opacity="0.60"/><path d="M350.1 858.2L452.7 812.9" stroke-width="0.91" stroke-opacity="0.78"/><path d="M363.9 897.2L475.5 856.7" stroke-width="1.03" stroke-opacity="0.70"/><path d="M415.3 971.5L503.6 930.3" stroke-width="0.96" stroke-opacity="0.73"/><path d="M362.3 887.9L454.9 859.6" stroke-width="0.97" stroke-opacity="0.59"/><path d="M388.3 935.8L452.5 904.5" stroke-width="1.15" stroke-opacity="0.43"/><path d="M357.0 872.4L417.3 841.5" stroke-width="0.96" stroke-opacity="0.83"/><path d="M383.5 891.4L442.9 861.8" stroke-width="1.12" stroke-opacity="0.66"/><path d="M360.9 880.6L471.2 846.4" stroke-width="1.16" stroke-opacity="0.45"/><path d="M425.6 900.6L475.0 890.2" stroke-width="0.63" stroke-opacity="0.93"/><path d="M369.2 847.5L413.8 835.6" stroke-width="1.05" stroke-opacity="0.93"/><path d="M440.7 932.9L485.0 924.4" stroke-width="1.10" stroke-opacity="0.52"/><path d="M418.8 976.1L469.6 944.7" stroke-width="0.87" stroke-opacity="0.43"/><path d="M448.3 951.3L468.8 938.9" stroke-width="0.92" stroke-opacity="0.41"/><path d="M419.8 904.8L452.1 890.6" stroke-width="1.22" stroke-opacity="0.59"/><path d="M413.6 875.5L478.5 860.6" stroke-width="1.05" stroke-opacity="0.57"/><path d="M428.9 924.2L481.2 896.4" stroke-width="0.74" stroke-opacity="0.57"/><path d="M414.6 935.5L483.5 917.6" stroke-width="0.59" stroke-opacity="0.71"/><path d="M394.9 886.7L474.1 845.0" stroke-width="1.26" stroke-opacity="0.35"/><path d="M403.9 912.5L452.4 894.3" stroke-width="0.88" stroke-opacity="0.59"/><path d="M377.4 938.8L469.8 913.2" stroke-width="0.61" stroke-opacity="0.86"/><path d="M394.5 865.0L430.1 849.8" stroke-width="0.84" stroke-opacity="0.35"/><path d="M407.3 931.7L486.8 901.0" stroke-width="0.94" stroke-opacity="0.64"/><path d="M411.7 869.8L430.2 865.4" stroke-width="1.19" stroke-opacity="0.62"/><path d="M424.0 939.2L484.0 908.9" stroke-width="0.76" stroke-opacity="0.53"/><path d="M416.2 870.5L444.9 857.4" stroke-width="0.84" stroke-opacity="0.83"/><path d="M401.8 904.9L448.4 881.1" stroke-width="0.57" stroke-opacity="0.44"/><path d="M408.5 869.8L450.6 844.7" stroke-width="0.87" stroke-opacity="0.38"/><path d="M400.0 919.7L487.5 874.1" stroke-width="1.18" stroke-opacity="0.46"/><path d="M430.2 961.1L462.4 952.5" stroke-width="0.72" stroke-opacity="0.54"/><path d="M400.3 852.3L422.6 845.7" stroke-width="0.82" stroke-opacity="0.74"/><path d="M361.3 886.8L480.7 847.0" stroke-width="0.64" stroke-opacity="0.93"/><path d="M399.6 963.9L457.2 943.6" stroke-width="0.61" stroke-opacity="0.78"/><path d="M408.7 895.2L469.0 878.1" stroke-width="1.16" stroke-opacity="0.69"/><path d="M396.2 929.1L446.8 898.3" stroke-width="1.19" stroke-opacity="0.43"/><path d="M383.5 901.0L468.6 868.0" stroke-width="1.19" stroke-opacity="0.58"/><path d="M399.3 881.1L475.2 864.6" stroke-width="0.75" stroke-opacity="0.88"/><path d="M452.2 955.9L467.1 949.0" stroke-width="1.12" stroke-opacity="0.84"/><path d="M367.3 846.6L456.6 820.8" stroke-width="0.93" stroke-opacity="0.44"/><path d="M368.0 907.1L448.9 871.7" stroke-width="1.16" stroke-opacity="0.68"/><path d="M377.7 898.4L450.1 874.8" stroke-width="0.86" stroke-opacity="0.41"/><path d="M419.4 944.9L509.9 909.9" stroke-width="1.00" stroke-opacity="0.58"/><path d="M429.1 909.5L500.9 885.7" stroke-width="0.84" stroke-opacity="0.34"/><path d="M412.9 958.9L473.0 921.1" stroke-width="0.53" stroke-opacity="0.55"/><path d="M436.8 959.4L502.9 937.7" stroke-width="0.72" stroke-opacity="0.41"/><path d="M377.4 929.7L475.6 890.7" stroke-width="0.93" stroke-opacity="0.38"/><path d="M374.1 850.4L421.8 834.2" stroke-width="0.75" stroke-opacity="0.70"/><path d="M419.2 938.7L477.7 906.4" stroke-width="0.78" stroke-opacity="0.94"/><path d="M373.4 881.6L453.0 851.1" stroke-width="1.13" stroke-opacity="0.49"/><path d="M392.8 974.9L506.6 932.6" stroke-width="1.22" stroke-opacity="0.40"/><path d="M435.6 920.5L481.5 893.0" stroke-width="1.24" stroke-opacity="0.93"/><path d="M399.4 851.4L419.1 839.3" stroke-width="1.14" stroke-opacity="0.77"/><path d="M430.9 963.4L487.7 934.2" stroke-width="0.96" stroke-opacity="0.95"/><path d="M428.3 914.9L454.8 907.0" stroke-width="1.09" stroke-opacity="0.35"/><path d="M400.0 963.7L463.0 924.3" stroke-width="1.03" stroke-opacity="0.39"/><path d="M390.5 972.1L509.8 937.8" stroke-width="0.96" stroke-opacity="0.67"/><path d="M421.0 937.8L459.0 927.5" stroke-width="0.78" stroke-opacity="0.68"/><path d="M423.0 896.9L461.8 887.3" stroke-width="0.57" stroke-opacity="0.51"/><path d="M415.4 928.3L490.8 887.1" stroke-width="1.14" stroke-opacity="0.82"/><path d="M355.4 859.2L454.0 839.9" stroke-width="0.99" stroke-opacity="0.58"/><path d="M417.4 899.6L466.9 880.5" stroke-width="0.97" stroke-opacity="0.91"/><path d="M434.1 935.7L466.6 924.1" stroke-width="1.16" stroke-opacity="0.77"/><path d="M446.6 953.5L465.7 945.9" stroke-width="0.79" stroke-opacity="0.43"/><path d="M428.0 895.5L477.3 865.6" stroke-width="0.70" stroke-opacity="0.54"/><path d="M415.5 955.5L464.3 936.9" stroke-width="0.70" stroke-opacity="0.32"/><path d="M432.7 905.9L488.0 889.4" stroke-width="0.62" stroke-opacity="0.67"/><path d="M422.7 920.5L466.1 893.1" stroke-width="1.24" stroke-opacity="0.47"/><path d="M409.6 939.8L492.5 899.8" stroke-width="0.57" stroke-opacity="0.58"/><path d="M414.7 895.8L458.8 881.3" stroke-width="0.80" stroke-opacity="0.78"/></g></g></g>
<g clip-path="url(#pc12)"><ellipse cx="418.1" cy="882" rx="7.2" ry="5" transform="rotate(-8 418.1 882)" fill="#3050ea" opacity="0.95" filter="url(#b05)"/></g>
<g clip-path="url(#pc12)"><path d="M438 900C446 906 456 908 466 911C472 913 476 915 479 916" stroke="#2428c4" stroke-width="3" fill="none" opacity="0.75" filter="url(#b1)"/></g>
<g clip-path="url(#pc20)"><clipPath id="cc5"><path d="M104.5 1012.3C105.5 1008.2 109.0 1006.9 111.7 1002.0C114.3 997.1 114.9 990.1 117.8 987.7C120.7 985.2 123.5 987.7 126.0 989.7C128.5 991.8 124.8 995.9 130.1 997.9C135.4 1000.0 144.5 1000.0 152.7 1000.0C160.9 1000.0 162.9 1000.8 171.1 997.9C179.3 995.0 186.9 988.7 193.7 985.6C200.4 982.5 203.7 981.3 204.9 982.5C206.2 983.8 202.5 987.9 199.8 991.8C197.1 995.6 192.0 998.3 191.6 1002.0C191.2 1005.7 196.9 1006.5 197.8 1010.2C198.6 1013.9 194.3 1018.0 195.7 1020.5C197.1 1022.9 204.5 1020.5 204.9 1022.5C205.3 1024.6 199.6 1027.4 197.8 1030.7C195.9 1034.0 198.2 1035.2 195.7 1038.9C193.2 1042.6 189.6 1045.5 185.5 1049.2C181.4 1052.8 178.5 1053.9 175.2 1057.4C171.9 1060.8 174.8 1064.5 169.1 1066.6C163.3 1068.6 153.9 1067.2 146.5 1067.6C139.1 1068.0 136.3 1069.9 132.2 1068.6C128.1 1067.4 130.1 1064.9 126.0 1061.5C121.9 1058.0 115.8 1056.1 111.7 1051.2C107.6 1046.3 106.5 1042.6 105.5 1036.9C104.5 1031.1 106.7 1027.4 106.5 1022.5C106.3 1017.6 103.5 1016.4 104.5 1012.3Z"/></clipPath><path d="M104.5 1012.3C105.5 1008.2 109.0 1006.9 111.7 1002.0C114.3 997.1 114.9 990.1 117.8 987.7C120.7 985.2 123.5 987.7 126.0 989.7C128.5 991.8 124.8 995.9 130.1 997.9C135.4 1000.0 144.5 1000.0 152.7 1000.0C160.9 1000.0 162.9 1000.8 171.1 997.9C179.3 995.0 186.9 988.7 193.7 985.6C200.4 982.5 203.7 981.3 204.9 982.5C206.2 983.8 202.5 987.9 199.8 991.8C197.1 995.6 192.0 998.3 191.6 1002.0C191.2 1005.7 196.9 1006.5 197.8 1010.2C198.6 1013.9 194.3 1018.0 195.7 1020.5C197.1 1022.9 204.5 1020.5 204.9 1022.5C205.3 1024.6 199.6 1027.4 197.8 1030.7C195.9 1034.0 198.2 1035.2 195.7 1038.9C193.2 1042.6 189.6 1045.5 185.5 1049.2C181.4 1052.8 178.5 1053.9 175.2 1057.4C171.9 1060.8 174.8 1064.5 169.1 1066.6C163.3 1068.6 153.9 1067.2 146.5 1067.6C139.1 1068.0 136.3 1069.9 132.2 1068.6C128.1 1067.4 130.1 1064.9 126.0 1061.5C121.9 1058.0 115.8 1056.1 111.7 1051.2C107.6 1046.3 106.5 1042.6 105.5 1036.9C104.5 1031.1 106.7 1027.4 106.5 1022.5C106.3 1017.6 103.5 1016.4 104.5 1012.3Z" fill="#1f9e26" opacity="0.45" filter="url(#b2)"/><g filter="url(#tex)"><path d="M104.5 1012.3C105.5 1008.2 109.0 1006.9 111.7 1002.0C114.3 997.1 114.9 990.1 117.8 987.7C120.7 985.2 123.5 987.7 126.0 989.7C128.5 991.8 124.8 995.9 130.1 997.9C135.4 1000.0 144.5 1000.0 152.7 1000.0C160.9 1000.0 162.9 1000.8 171.1 997.9C179.3 995.0 186.9 988.7 193.7 985.6C200.4 982.5 203.7 981.3 204.9 982.5C206.2 983.8 202.5 987.9 199.8 991.8C197.1 995.6 192.0 998.3 191.6 1002.0C191.2 1005.7 196.9 1006.5 197.8 1010.2C198.6 1013.9 194.3 1018.0 195.7 1020.5C197.1 1022.9 204.5 1020.5 204.9 1022.5C205.3 1024.6 199.6 1027.4 197.8 1030.7C195.9 1034.0 198.2 1035.2 195.7 1038.9C193.2 1042.6 189.6 1045.5 185.5 1049.2C181.4 1052.8 178.5 1053.9 175.2 1057.4C171.9 1060.8 174.8 1064.5 169.1 1066.6C163.3 1068.6 153.9 1067.2 146.5 1067.6C139.1 1068.0 136.3 1069.9 132.2 1068.6C128.1 1067.4 130.1 1064.9 126.0 1061.5C121.9 1058.0 115.8 1056.1 111.7 1051.2C107.6 1046.3 106.5 1042.6 105.5 1036.9C104.5 1031.1 106.7 1027.4 106.5 1022.5C106.3 1017.6 103.5 1016.4 104.5 1012.3Z" fill="#1f9e26"/></g><g filter="url(#b05)"><g clip-path="url(#cc5)" stroke="#7cff62" fill="none"><path d="M75.9 975.5L163.4 955.6" stroke-width="0.64" stroke-opacity="0.37"/><path d="M125.3 994.4L156.7 988.0" stroke-width="1.16" stroke-opacity="0.39"/><path d="M117.1 1034.1L186.1 1027.3" stroke-width="0.59" stroke-opacity="0.31"/><path d="M132.9 1097.9L187.4 1077.1" stroke-width="0.86" stroke-opacity="0.92"/><path d="M91.1 1002.7L182.9 976.5" stroke-width="1.45" stroke-opacity="0.85"/><path d="M94.3 1012.3L206.2 1000.9" stroke-width="0.53" stroke-opacity="0.78"/><path d="M143.8 1078.2L186.6 1070.5" stroke-width="1.23" stroke-opacity="0.43"/><path d="M109.9 1063.1L166.0 1041.8" stroke-width="0.83" stroke-opacity="0.56"/><path d="M146.6 1046.2L225.8 1037.8" stroke-width="1.49" stroke-opacity="0.81"/><path d="M92.4 1015.9L189.1 988.3" stroke-width="1.17" stroke-opacity="0.36"/><path d="M134.1 987.4L183.8 976.4" stroke-width="0.60" stroke-opacity="0.56"/><path d="M147.2 1089.6L232.8 1051.6" stroke-width="0.95" stroke-opacity="0.82"/><path d="M137.1 1025.8L188.3 1001.1" stroke-width="0.60" stroke-opacity="0.94"/><path d="M85.2 987.6L164.1 970.7" stroke-width="1.35" stroke-opacity="0.61"/><path d="M138.5 1031.2L174.8 1018.0" stroke-width="1.11" stroke-opacity="0.71"/><path d="M76.7 977.9L148.4 962.8" stroke-width="1.19" stroke-opacity="0.93"/><path d="M114.0 1065.7L218.1 1055.0" stroke-width="0.85" stroke-opacity="0.31"/><path d="M105.5 1032.3L162.9 1002.5" stroke-width="0.62" stroke-opacity="0.86"/><path d="M110.8 978.5L152.1 960.1" stroke-width="1.32" stroke-opacity="0.49"/><path d="M105.0 995.3L188.5 970.7" stroke-width="1.36" stroke-opacity="0.56"/><path d="M134.4 1033.2L188.2 1021.8" stroke-width="0.97" stroke-opacity="0.39"/><path d="M122.4 978.6L191.0 970.3" stroke-width="1.19" stroke-opacity="0.68"/><path d="M129.2 986.2L151.9 978.5" stroke-width="0.64" stroke-opacity="0.55"/><path d="M108.0 1011.7L194.5 986.8" stroke-width="0.74" stroke-opacity="0.81"/><path d="M149.9 1059.8L169.4 1054.8" stroke-width="1.40" stroke-opacity="0.47"/><path d="M128.2 991.9L168.3 977.9" stroke-width="1.32" stroke-opacity="0.55"/><path d="M89.7 998.0L167.9 980.7" stroke-width="0.87" stroke-opacity="0.80"/><path d="M87.8 984.6L179.2 955.8" stroke-width="1.00" stroke-opacity="0.91"/><path d="M92.0 1013.4L151.2 994.9" stroke-width="0.80" stroke-opacity="0.61"/><path d="M68.1 974.2L162.5 955.7" stroke-width="0.80" stroke-opacity="0.89"/><path d="M119.2 1052.4L207.3 1014.8" stroke-width="1.11" stroke-opacity="0.85"/><path d="M110.6 1043.4L165.6 1028.4" stroke-width="0.69" stroke-opacity="0.54"/><path d="M149.5 1033.2L201.4 1017.7" stroke-width="1.36" stroke-opacity="0.50"/><path d="M127.9 1020.6L186.3 995.3" stroke-width="0.91" stroke-opacity="0.84"/><path d="M122.1 994.6L150.9 991.2" stroke-width="1.18" stroke-opacity="0.51"/><path d="M158.7 1095.0L180.8 1085.7" stroke-width="0.99" stroke-opacity="0.95"/><path d="M82.6 1008.7L161.4 967.8" stroke-width="0.91" stroke-opacity="0.65"/><path d="M94.2 1028.1L157.2 1017.0" stroke-width="0.94" stroke-opacity="0.61"/><path d="M130.4 1026.6L214.7 1012.5" stroke-width="1.23" stroke-opacity="0.52"/><path d="M86.0 1010.9L194.0 955.5" stroke-width="1.07" stroke-opacity="0.89"/><path d="M105.0 1007.5L177.9 998.8" stroke-width="1.18" stroke-opacity="0.85"/><path d="M116.6 972.3L167.1 954.7" stroke-width="1.32" stroke-opacity="0.78"/><path d="M151.8 1085.6L230.1 1059.2" stroke-width="1.06" stroke-opacity="0.81"/><path d="M94.2 1028.3L193.7 1013.4" stroke-width="1.37" stroke-opacity="0.38"/><path d="M96.9 1016.1L175.3 1007.2" stroke-width="0.92" stroke-opacity="0.50"/><path d="M108.5 1009.9L189.4 979.5" stroke-width="0.69" stroke-opacity="0.45"/><path d="M135.8 996.1L159.2 991.5" stroke-width="0.61" stroke-opacity="0.81"/><path d="M129.6 1003.0L173.4 981.0" stroke-width="0.59" stroke-opacity="0.82"/><path d="M120.6 1039.1L182.0 1025.3" stroke-width="0.98" stroke-opacity="0.34"/><path d="M112.7 1051.8L214.7 1022.8" stroke-width="1.27" stroke-opacity="0.38"/><path d="M134.6 1056.6L220.9 1044.2" stroke-width="1.05" stroke-opacity="0.68"/><path d="M115.1 1069.6L203.4 1053.4" stroke-width="1.09" stroke-opacity="0.65"/><path d="M164.4 1074.2L186.9 1062.9" stroke-width="1.11" stroke-opacity="0.40"/><path d="M136.5 1093.1L210.9 1080.4" stroke-width="1.37" stroke-opacity="0.39"/><path d="M101.8 1043.7L182.8 1005.2" stroke-width="1.38" stroke-opacity="0.53"/><path d="M140.9 1014.7L203.3 991.0" stroke-width="1.00" stroke-opacity="0.73"/><path d="M88.4 1009.7L195.8 960.2" stroke-width="1.21" stroke-opacity="0.78"/><path d="M113.3 1045.8L216.3 1026.8" stroke-width="0.57" stroke-opacity="0.88"/><path d="M115.8 1065.2L173.0 1037.1" stroke-width="1.31" stroke-opacity="0.85"/><path d="M95.2 1024.1L156.3 1003.1" stroke-width="0.80" stroke-opacity="0.33"/><path d="M132.5 1004.1L153.8 996.7" stroke-width="1.01" stroke-opacity="0.41"/><path d="M73.2 971.9L148.9 963.8" stroke-width="1.36" stroke-opacity="0.76"/><path d="M124.1 1084.6L190.0 1074.8" stroke-width="1.11" stroke-opacity="0.90"/><path d="M108.1 1013.1L198.5 1000.1" stroke-width="0.67" stroke-opacity="0.47"/><path d="M104.6 970.7L196.2 945.4" stroke-width="0.65" stroke-opacity="0.75"/><path d="M101.0 1059.3L221.6 1030.7" stroke-width="0.99" stroke-opacity="0.52"/><path d="M106.3 996.2L166.1 970.7" stroke-width="1.15" stroke-opacity="0.73"/><path d="M167.5 1085.9L205.6 1077.8" stroke-width="0.88" stroke-opacity="0.58"/><path d="M153.0 1035.7L163.2 1032.4" stroke-width="0.84" stroke-opacity="0.82"/><path d="M136.3 1093.9L180.9 1082.1" stroke-width="1.09" stroke-opacity="0.74"/><path d="M128.3 1068.8L204.0 1054.3" stroke-width="0.53" stroke-opacity="0.46"/><path d="M157.7 1051.9L222.0 1025.9" stroke-width="1.47" stroke-opacity="0.48"/><path d="M98.3 1038.7L192.8 1005.3" stroke-width="1.19" stroke-opacity="0.92"/><path d="M116.2 986.7L179.1 961.1" stroke-width="0.54" stroke-opacity="0.91"/><path d="M135.1 1054.8L172.4 1049.6" stroke-width="0.90" stroke-opacity="0.60"/><path d="M119.5 1044.9L219.0 1013.1" stroke-width="1.18" stroke-opacity="0.80"/><path d="M115.2 1088.7L197.2 1079.0" stroke-width="1.11" stroke-opacity="0.54"/><path d="M116.0 1102.6L187.6 1066.3" stroke-width="1.17" stroke-opacity="0.62"/><path d="M108.1 1008.5L166.3 995.9" stroke-width="1.26" stroke-opacity="0.55"/><path d="M110.2 1101.2L205.7 1056.8" stroke-width="0.62" stroke-opacity="0.66"/><path d="M78.7 993.2L149.6 967.6" stroke-width="1.33" stroke-opacity="0.49"/><path d="M121.3 978.2L195.7 970.8" stroke-width="0.55" stroke-opacity="0.41"/><path d="M148.1 1017.5L190.0 1011.4" stroke-width="0.72" stroke-opacity="0.61"/><path d="M109.4 1058.8L198.9 1043.8" stroke-width="1.32" stroke-opacity="0.75"/><path d="M164.4 1069.9L207.1 1052.0" stroke-width="0.72" stroke-opacity="0.34"/><path d="M140.6 1084.7L213.4 1073.9" stroke-width="1.19" stroke-opacity="0.55"/><path d="M99.3 1058.8L176.7 1029.8" stroke-width="1.29" stroke-opacity="0.73"/><path d="M118.7 1053.4L183.5 1030.3" stroke-width="0.55" stroke-opacity="0.53"/><path d="M156.3 1083.4L189.7 1073.2" stroke-width="1.24" stroke-opacity="0.43"/><path d="M119.1 1010.8L164.4 1004.8" stroke-width="0.52" stroke-opacity="0.87"/><path d="M119.5 1053.9L183.3 1044.3" stroke-width="1.21" stroke-opacity="0.44"/><path d="M88.6 1021.7L189.2 987.6" stroke-width="0.82" stroke-opacity="0.76"/><path d="M86.5 1001.9L199.3 985.8" stroke-width="1.31" stroke-opacity="0.66"/><path d="M151.9 1058.4L168.9 1051.7" stroke-width="0.86" stroke-opacity="0.78"/><path d="M129.6 1006.4L168.1 1001.8" stroke-width="0.94" stroke-opacity="0.68"/><path d="M146.1 1048.3L196.4 1026.3" stroke-width="0.94" stroke-opacity="0.67"/><path d="M123.3 971.7L160.8 966.9" stroke-width="0.87" stroke-opacity="0.92"/><path d="M126.0 1074.9L206.5 1031.3" stroke-width="0.58" stroke-opacity="0.68"/><path d="M107.2 1013.2L193.8 985.7" stroke-width="1.11" stroke-opacity="0.78"/><path d="M108.0 1081.5L224.0 1058.0" stroke-width="0.73" stroke-opacity="0.35"/><path d="M80.4 991.7L182.6 981.6" stroke-width="0.99" stroke-opacity="0.48"/><path d="M136.8 984.6L177.3 967.5" stroke-width="1.41" stroke-opacity="0.57"/><path d="M142.0 1103.1L192.1 1080.6" stroke-width="0.52" stroke-opacity="0.83"/><path d="M128.0 1010.0L202.5 984.0" stroke-width="1.01" stroke-opacity="0.77"/><path d="M119.0 1060.8L175.5 1038.1" stroke-width="0.52" stroke-opacity="0.71"/><path d="M142.6 1047.6L191.5 1037.5" stroke-width="1.06" stroke-opacity="0.85"/><path d="M134.2 1042.1L195.4 1015.1" stroke-width="0.58" stroke-opacity="0.83"/><path d="M130.4 1065.1L219.4 1024.9" stroke-width="1.23" stroke-opacity="0.63"/><path d="M84.4 998.6L143.6 972.1" stroke-width="1.28" stroke-opacity="0.61"/><path d="M101.1 973.1L202.0 954.6" stroke-width="0.80" stroke-opacity="0.61"/><path d="M102.4 1033.1L190.1 986.7" stroke-width="0.97" stroke-opacity="0.90"/><path d="M139.4 1062.0L221.8 1052.4" stroke-width="0.77" stroke-opacity="0.91"/><path d="M135.7 1087.0L182.1 1073.5" stroke-width="1.00" stroke-opacity="0.95"/><path d="M123.6 997.9L195.4 979.1" stroke-width="0.78" stroke-opacity="0.89"/><path d="M132.9 997.2L203.4 976.6" stroke-width="0.55" stroke-opacity="0.48"/><path d="M83.3 983.9L162.9 962.1" stroke-width="1.30" stroke-opacity="0.33"/><path d="M110.7 1086.3L208.1 1034.0" stroke-width="0.86" stroke-opacity="0.90"/><path d="M105.5 1082.9L197.9 1070.7" stroke-width="0.68" stroke-opacity="0.60"/><path d="M100.9 1015.4L176.9 979.5" stroke-width="0.65" stroke-opacity="0.93"/><path d="M138.5 1072.4L176.2 1054.5" stroke-width="1.12" stroke-opacity="0.70"/><path d="M129.9 963.9L160.8 951.2" stroke-width="1.14" stroke-opacity="0.89"/><path d="M115.3 1016.7L155.0 1004.0" stroke-width="1.40" stroke-opacity="0.91"/><path d="M137.2 1010.6L211.8 981.1" stroke-width="1.36" stroke-opacity="0.48"/><path d="M163.9 1089.4L235.8 1064.5" stroke-width="1.19" stroke-opacity="0.76"/><path d="M94.2 1047.6L203.8 1028.2" stroke-width="1.14" stroke-opacity="0.89"/><path d="M147.6 1093.7L198.5 1078.3" stroke-width="0.68" stroke-opacity="0.44"/><path d="M134.6 1093.6L207.1 1083.2" stroke-width="1.30" stroke-opacity="0.33"/><path d="M118.1 1020.5L169.6 1010.6" stroke-width="1.12" stroke-opacity="0.85"/><path d="M86.5 994.0L162.4 971.3" stroke-width="0.75" stroke-opacity="0.63"/><path d="M86.9 1023.3L203.2 989.8" stroke-width="1.40" stroke-opacity="0.64"/><path d="M140.6 1075.9L204.3 1068.2" stroke-width="0.86" stroke-opacity="0.94"/><path d="M151.8 1038.9L167.3 1034.5" stroke-width="0.82" stroke-opacity="0.83"/><path d="M159.9 1084.8L196.5 1066.3" stroke-width="1.47" stroke-opacity="0.43"/><path d="M138.6 1074.4L217.3 1057.3" stroke-width="0.74" stroke-opacity="0.55"/><path d="M127.6 1012.8L197.3 1005.7" stroke-width="1.04" stroke-opacity="0.53"/><path d="M101.0 984.7L180.5 966.8" stroke-width="0.53" stroke-opacity="0.43"/><path d="M144.5 1050.7L218.4 1015.8" stroke-width="1.23" stroke-opacity="0.59"/><path d="M135.2 1043.4L187.1 1029.9" stroke-width="1.47" stroke-opacity="0.31"/><path d="M153.6 1033.5L212.2 1009.0" stroke-width="1.28" stroke-opacity="0.89"/><path d="M118.7 1016.9L173.5 1011.6" stroke-width="0.68" stroke-opacity="0.76"/><path d="M169.5 1091.0L229.7 1070.9" stroke-width="1.44" stroke-opacity="0.86"/><path d="M110.6 1031.0L174.6 1006.4" stroke-width="1.07" stroke-opacity="0.57"/><path d="M108.4 1107.1L213.3 1071.8" stroke-width="1.50" stroke-opacity="0.95"/><path d="M142.8 1058.0L190.6 1047.4" stroke-width="0.74" stroke-opacity="0.83"/><path d="M107.6 1053.1L173.7 1029.6" stroke-width="0.85" stroke-opacity="0.73"/><path d="M90.6 1041.3L176.6 1013.3" stroke-width="1.49" stroke-opacity="0.90"/><path d="M154.1 1043.0L171.4 1035.4" stroke-width="0.65" stroke-opacity="0.47"/><path d="M114.8 1008.5L203.0 975.8" stroke-width="0.82" stroke-opacity="0.61"/><path d="M139.7 1097.0L235.0 1059.6" stroke-width="1.05" stroke-opacity="0.71"/><path d="M150.7 1059.8L173.6 1049.7" stroke-width="0.61" stroke-opacity="0.80"/></g></g></g>
<g clip-path="url(#pc20)"><ellipse cx="150.6" cy="1042" rx="13" ry="7" transform="rotate(-5 150.6 1042)" fill="#56a8e6" opacity="0.9" filter="url(#b05)"/></g>
<g clip-path="url(#pc21)"><clipPath id="cc6"><path d="M234.7 1002.0C237.5 999.5 256.4 1008.6 269.5 1010.2C282.6 1011.8 291.6 1008.2 300.3 1010.2C308.9 1012.3 308.9 1015.9 312.6 1020.5C316.2 1025.0 315.0 1026.6 318.7 1032.8C322.4 1038.9 325.5 1044.0 331.0 1051.2C336.5 1058.4 346.4 1065.8 346.4 1068.6C346.4 1071.5 338.2 1067.8 331.0 1065.6C323.8 1063.3 319.9 1060.2 310.5 1057.4C301.1 1054.5 290.8 1054.1 283.9 1051.2C276.9 1048.3 281.4 1048.7 275.7 1043.0C269.9 1037.3 263.4 1030.7 255.2 1022.5C247.0 1014.3 231.8 1004.5 234.7 1002.0Z"/></clipPath><path d="M234.7 1002.0C237.5 999.5 256.4 1008.6 269.5 1010.2C282.6 1011.8 291.6 1008.2 300.3 1010.2C308.9 1012.3 308.9 1015.9 312.6 1020.5C316.2 1025.0 315.0 1026.6 318.7 1032.8C322.4 1038.9 325.5 1044.0 331.0 1051.2C336.5 1058.4 346.4 1065.8 346.4 1068.6C346.4 1071.5 338.2 1067.8 331.0 1065.6C323.8 1063.3 319.9 1060.2 310.5 1057.4C301.1 1054.5 290.8 1054.1 283.9 1051.2C276.9 1048.3 281.4 1048.7 275.7 1043.0C269.9 1037.3 263.4 1030.7 255.2 1022.5C247.0 1014.3 231.8 1004.5 234.7 1002.0Z" fill="#0f5a17" opacity="0.3" filter="url(#b2)"/><g filter="url(#tex)"><path d="M234.7 1002.0C237.5 999.5 256.4 1008.6 269.5 1010.2C282.6 1011.8 291.6 1008.2 300.3 1010.2C308.9 1012.3 308.9 1015.9 312.6 1020.5C316.2 1025.0 315.0 1026.6 318.7 1032.8C322.4 1038.9 325.5 1044.0 331.0 1051.2C336.5 1058.4 346.4 1065.8 346.4 1068.6C346.4 1071.5 338.2 1067.8 331.0 1065.6C323.8 1063.3 319.9 1060.2 310.5 1057.4C301.1 1054.5 290.8 1054.1 283.9 1051.2C276.9 1048.3 281.4 1048.7 275.7 1043.0C269.9 1037.3 263.4 1030.7 255.2 1022.5C247.0 1014.3 231.8 1004.5 234.7 1002.0Z" fill="#0f5a17"/></g><g filter="url(#b05)"><g clip-path="url(#cc6)" stroke="#44d03c" fill="none"><path d="M276.7 955.0L337.9 1000.2" stroke-width="0.90" stroke-opacity="0.49"/><path d="M288.5 971.4L366.9 1019.0" stroke-width="1.26" stroke-opacity="0.55"/><path d="M239.1 991.3L345.7 1042.9" stroke-width="0.51" stroke-opacity="0.49"/><path d="M254.6 1068.5L324.0 1103.7" stroke-width="0.57" stroke-opacity="0.25"/><path d="M203.0 1065.5L269.8 1095.8" stroke-width="0.54" stroke-opacity="0.22"/><path d="M255.4 984.4L319.1 1032.3" stroke-width="0.63" stroke-opacity="0.53"/><path d="M248.7 1045.1L306.9 1085.5" stroke-width="0.97" stroke-opacity="0.29"/><path d="M261.5 984.2L325.1 1033.4" stroke-width="0.84" stroke-opacity="0.23"/><path d="M279.4 1024.1L318.5 1050.3" stroke-width="0.57" stroke-opacity="0.22"/><path d="M223.6 1022.5L299.0 1065.0" stroke-width="0.65" stroke-opacity="0.21"/><path d="M319.5 974.7L362.2 1007.2" stroke-width="0.89" stroke-opacity="0.58"/><path d="M241.8 1062.7L297.0 1096.0" stroke-width="0.68" stroke-opacity="0.35"/><path d="M228.4 1032.7L324.3 1090.7" stroke-width="0.98" stroke-opacity="0.53"/><path d="M227.2 1028.3L297.9 1059.9" stroke-width="0.52" stroke-opacity="0.58"/><path d="M279.4 1043.5L330.7 1071.3" stroke-width="1.27" stroke-opacity="0.57"/><path d="M238.2 1002.8L314.7 1040.8" stroke-width="0.79" stroke-opacity="0.23"/><path d="M272.0 1057.2L289.6 1069.4" stroke-width="0.97" stroke-opacity="0.39"/><path d="M223.3 1064.2L313.0 1105.3" stroke-width="1.27" stroke-opacity="0.27"/><path d="M315.7 972.3L365.9 1005.4" stroke-width="1.11" stroke-opacity="0.35"/><path d="M280.1 962.4L367.9 1030.1" stroke-width="0.68" stroke-opacity="0.38"/><path d="M286.2 1024.1L296.9 1031.8" stroke-width="0.70" stroke-opacity="0.42"/><path d="M263.3 960.9L367.2 1023.4" stroke-width="1.28" stroke-opacity="0.55"/><path d="M223.8 1026.2L305.4 1089.4" stroke-width="0.90" stroke-opacity="0.23"/><path d="M308.6 997.2L370.4 1029.4" stroke-width="0.75" stroke-opacity="0.49"/><path d="M243.5 1006.4L345.6 1071.8" stroke-width="0.79" stroke-opacity="0.21"/><path d="M272.5 1028.3L303.1 1042.8" stroke-width="1.08" stroke-opacity="0.57"/><path d="M267.5 1002.0L336.5 1044.0" stroke-width="0.60" stroke-opacity="0.31"/><path d="M263.4 974.7L318.6 1006.0" stroke-width="0.68" stroke-opacity="0.54"/><path d="M297.8 1012.2L351.5 1040.5" stroke-width="0.62" stroke-opacity="0.43"/><path d="M264.2 1015.1L301.9 1038.2" stroke-width="1.11" stroke-opacity="0.38"/></g><path d="M234.7 1002.0C237.5 999.5 256.4 1008.6 269.5 1010.2C282.6 1011.8 291.6 1008.2 300.3 1010.2C308.9 1012.3 308.9 1015.9 312.6 1020.5C316.2 1025.0 315.0 1026.6 318.7 1032.8C322.4 1038.9 325.5 1044.0 331.0 1051.2C336.5 1058.4 346.4 1065.8 346.4 1068.6C346.4 1071.5 338.2 1067.8 331.0 1065.6C323.8 1063.3 319.9 1060.2 310.5 1057.4C301.1 1054.5 290.8 1054.1 283.9 1051.2C276.9 1048.3 281.4 1048.7 275.7 1043.0C269.9 1037.3 263.4 1030.7 255.2 1022.5C247.0 1014.3 231.8 1004.5 234.7 1002.0Z" fill="none" stroke="#46d840" stroke-width="1.1" stroke-opacity="0.85"/></g></g>
<g clip-path="url(#pc21)"><ellipse cx="294" cy="1036" rx="20" ry="10" transform="rotate(28 294 1036)" fill="#3fd04a" opacity="0.55" filter="url(#b2)"/></g>
<g clip-path="url(#pc21)"><ellipse cx="289.5" cy="1041" rx="8.6" ry="5.6" transform="rotate(25 289.5 1041)" fill="#3462f2" opacity="0.95" filter="url(#b05)"/></g>
<g clip-path="url(#pc22)"><clipPath id="cc7"><path d="M377.1 974.3C376.3 972.8 379.2 973.9 382.3 975.8C385.3 977.6 390.0 983.0 392.5 983.6C395.0 984.1 392.1 976.8 394.6 978.4C397.0 980.1 400.3 985.4 404.8 991.8C409.3 998.1 411.8 1002.8 417.1 1010.2C422.4 1017.6 425.7 1022.1 431.5 1028.7C437.2 1035.2 441.3 1037.3 445.8 1043.0C450.3 1048.7 450.3 1051.6 454.0 1057.4C457.7 1063.1 460.2 1067.0 464.3 1071.7C468.4 1076.4 473.1 1078.1 474.5 1080.9C475.9 1083.8 474.3 1087.1 471.4 1086.1C468.6 1085.0 464.9 1081.1 460.2 1075.8C455.4 1070.5 452.4 1065.1 447.9 1059.4C443.3 1053.7 442.1 1052.0 437.6 1047.1C433.1 1042.2 430.2 1040.5 425.3 1034.8C420.4 1029.1 417.9 1025.0 413.0 1018.4C408.1 1011.8 406.0 1009.0 400.7 1002.0C395.4 995.0 391.1 989.1 386.4 983.6C381.6 978.0 377.9 975.9 377.1 974.3Z"/></clipPath><path d="M377.1 974.3C376.3 972.8 379.2 973.9 382.3 975.8C385.3 977.6 390.0 983.0 392.5 983.6C395.0 984.1 392.1 976.8 394.6 978.4C397.0 980.1 400.3 985.4 404.8 991.8C409.3 998.1 411.8 1002.8 417.1 1010.2C422.4 1017.6 425.7 1022.1 431.5 1028.7C437.2 1035.2 441.3 1037.3 445.8 1043.0C450.3 1048.7 450.3 1051.6 454.0 1057.4C457.7 1063.1 460.2 1067.0 464.3 1071.7C468.4 1076.4 473.1 1078.1 474.5 1080.9C475.9 1083.8 474.3 1087.1 471.4 1086.1C468.6 1085.0 464.9 1081.1 460.2 1075.8C455.4 1070.5 452.4 1065.1 447.9 1059.4C443.3 1053.7 442.1 1052.0 437.6 1047.1C433.1 1042.2 430.2 1040.5 425.3 1034.8C420.4 1029.1 417.9 1025.0 413.0 1018.4C408.1 1011.8 406.0 1009.0 400.7 1002.0C395.4 995.0 391.1 989.1 386.4 983.6C381.6 978.0 377.9 975.9 377.1 974.3Z" fill="#2cba30" opacity="0.55" filter="url(#b2)"/><g filter="url(#tex)"><path d="M377.1 974.3C376.3 972.8 379.2 973.9 382.3 975.8C385.3 977.6 390.0 983.0 392.5 983.6C395.0 984.1 392.1 976.8 394.6 978.4C397.0 980.1 400.3 985.4 404.8 991.8C409.3 998.1 411.8 1002.8 417.1 1010.2C422.4 1017.6 425.7 1022.1 431.5 1028.7C437.2 1035.2 441.3 1037.3 445.8 1043.0C450.3 1048.7 450.3 1051.6 454.0 1057.4C457.7 1063.1 460.2 1067.0 464.3 1071.7C468.4 1076.4 473.1 1078.1 474.5 1080.9C475.9 1083.8 474.3 1087.1 471.4 1086.1C468.6 1085.0 464.9 1081.1 460.2 1075.8C455.4 1070.5 452.4 1065.1 447.9 1059.4C443.3 1053.7 442.1 1052.0 437.6 1047.1C433.1 1042.2 430.2 1040.5 425.3 1034.8C420.4 1029.1 417.9 1025.0 413.0 1018.4C408.1 1011.8 406.0 1009.0 400.7 1002.0C395.4 995.0 391.1 989.1 386.4 983.6C381.6 978.0 377.9 975.9 377.1 974.3Z" fill="#2cba30"/></g><g filter="url(#b05)"><g clip-path="url(#cc7)" stroke="#84ff66" fill="none"><path d="M396.9 1014.9L460.5 1083.0" stroke-width="1.25" stroke-opacity="0.88"/><path d="M339.3 1021.1L409.8 1110.1" stroke-width="1.10" stroke-opacity="0.93"/><path d="M395.4 998.4L467.0 1089.6" stroke-width="0.90" stroke-opacity="0.50"/><path d="M383.0 971.9L454.8 1068.0" stroke-width="1.03" stroke-opacity="0.85"/><path d="M350.4 1046.8L413.6 1109.4" stroke-width="0.66" stroke-opacity="0.94"/><path d="M414.8 960.4L491.8 1064.2" stroke-width="0.72" stroke-opacity="0.51"/><path d="M419.8 961.6L458.5 1008.3" stroke-width="0.90" stroke-opacity="0.56"/><path d="M423.5 943.5L466.0 1004.5" stroke-width="1.35" stroke-opacity="0.66"/><path d="M425.5 945.2L478.1 1002.6" stroke-width="0.66" stroke-opacity="0.48"/><path d="M420.0 953.9L493.7 1039.9" stroke-width="1.07" stroke-opacity="0.53"/><path d="M407.4 1020.6L440.0 1052.1" stroke-width="1.08" stroke-opacity="0.55"/><path d="M343.6 1010.9L441.8 1103.5" stroke-width="1.14" stroke-opacity="0.59"/><path d="M439.0 1003.7L485.7 1051.0" stroke-width="1.09" stroke-opacity="0.70"/><path d="M438.4 928.7L508.6 1022.4" stroke-width="1.06" stroke-opacity="0.57"/><path d="M393.3 983.2L462.2 1086.8" stroke-width="1.08" stroke-opacity="0.31"/><path d="M425.0 1007.5L457.3 1039.3" stroke-width="0.79" stroke-opacity="0.76"/><path d="M378.7 997.5L440.6 1081.5" stroke-width="1.57" stroke-opacity="0.84"/><path d="M423.5 1009.3L474.0 1081.7" stroke-width="1.35" stroke-opacity="0.68"/><path d="M415.7 1019.6L453.9 1070.5" stroke-width="0.83" stroke-opacity="0.36"/><path d="M429.0 983.4L484.1 1040.2" stroke-width="0.79" stroke-opacity="0.92"/><path d="M470.0 981.2L513.3 1034.6" stroke-width="1.60" stroke-opacity="0.74"/><path d="M478.7 975.2L502.3 1009.8" stroke-width="1.41" stroke-opacity="0.39"/><path d="M435.6 924.8L514.9 1033.9" stroke-width="0.83" stroke-opacity="0.37"/><path d="M430.9 1002.1L474.2 1064.1" stroke-width="1.57" stroke-opacity="0.79"/><path d="M343.7 1001.7L389.1 1066.5" stroke-width="1.22" stroke-opacity="0.51"/><path d="M435.7 954.0L487.4 1015.5" stroke-width="1.05" stroke-opacity="0.43"/><path d="M430.7 946.2L483.9 998.5" stroke-width="1.01" stroke-opacity="0.38"/><path d="M368.2 1030.6L413.7 1088.7" stroke-width="0.83" stroke-opacity="0.32"/><path d="M439.4 951.4L495.5 1010.7" stroke-width="0.91" stroke-opacity="0.84"/><path d="M453.3 950.2L504.6 1005.1" stroke-width="1.32" stroke-opacity="0.45"/><path d="M435.9 937.5L529.2 1040.7" stroke-width="0.72" stroke-opacity="0.93"/><path d="M404.8 1038.7L425.1 1066.9" stroke-width="0.64" stroke-opacity="0.45"/><path d="M365.7 1030.0L431.9 1104.6" stroke-width="1.48" stroke-opacity="0.35"/><path d="M375.8 990.9L421.8 1057.2" stroke-width="1.03" stroke-opacity="0.83"/><path d="M436.6 990.7L494.0 1063.6" stroke-width="0.83" stroke-opacity="0.73"/><path d="M361.2 1060.7L397.0 1101.2" stroke-width="0.70" stroke-opacity="0.80"/><path d="M423.3 953.8L470.0 1001.2" stroke-width="0.98" stroke-opacity="0.61"/><path d="M431.3 966.6L505.5 1039.5" stroke-width="0.74" stroke-opacity="0.64"/><path d="M371.7 1062.9L410.8 1101.1" stroke-width="1.47" stroke-opacity="0.95"/><path d="M355.6 1039.9L399.0 1093.8" stroke-width="1.39" stroke-opacity="0.95"/><path d="M401.5 999.1L443.2 1049.8" stroke-width="1.14" stroke-opacity="0.48"/><path d="M423.9 1018.9L445.0 1041.3" stroke-width="0.90" stroke-opacity="0.86"/><path d="M439.4 997.5L489.3 1069.2" stroke-width="1.40" stroke-opacity="0.43"/><path d="M421.3 1012.4L445.1 1042.2" stroke-width="1.47" stroke-opacity="0.91"/><path d="M397.6 965.8L447.3 1020.0" stroke-width="1.15" stroke-opacity="0.48"/><path d="M371.2 1038.2L416.3 1101.5" stroke-width="0.93" stroke-opacity="0.72"/><path d="M410.7 971.0L450.3 1025.4" stroke-width="1.50" stroke-opacity="0.32"/><path d="M352.2 998.6L423.5 1076.4" stroke-width="1.50" stroke-opacity="0.58"/><path d="M389.9 994.7L439.9 1047.3" stroke-width="0.66" stroke-opacity="0.31"/><path d="M404.4 1018.6L455.8 1073.1" stroke-width="1.59" stroke-opacity="0.35"/><path d="M405.0 980.2L443.1 1037.5" stroke-width="1.32" stroke-opacity="0.39"/><path d="M451.6 985.7L484.3 1021.2" stroke-width="0.90" stroke-opacity="0.51"/><path d="M376.9 1001.7L449.0 1071.2" stroke-width="1.14" stroke-opacity="0.68"/><path d="M438.6 1002.0L490.3 1068.6" stroke-width="1.01" stroke-opacity="0.41"/><path d="M376.0 999.9L421.2 1054.6" stroke-width="0.80" stroke-opacity="0.72"/><path d="M343.0 1001.7L430.1 1091.1" stroke-width="0.94" stroke-opacity="0.77"/><path d="M335.8 1036.1L410.7 1119.0" stroke-width="1.54" stroke-opacity="0.41"/><path d="M364.7 990.1L433.0 1081.8" stroke-width="1.51" stroke-opacity="0.80"/><path d="M391.0 997.8L450.4 1074.0" stroke-width="1.21" stroke-opacity="0.76"/><path d="M392.4 1047.3L425.0 1094.1" stroke-width="1.34" stroke-opacity="0.55"/></g></g></g>
<g clip-path="url(#pc22)"><ellipse cx="437.6" cy="1041" rx="7" ry="5" transform="rotate(45 437.6 1041)" fill="#48a4ec" opacity="0.95" filter="url(#b05)"/></g>
<rect x="458.5" y="817.8000000000001" width="30.4" height="1.9" fill="#d4d4d4"/>
<rect x="436.6" y="954.7" width="44.5" height="1.9" fill="#d4d4d4"/>
<rect x="169.7" y="1089.3" width="46.5" height="1.9" fill="#d4d4d4"/>
<rect x="315" y="1089.3" width="34.4" height="1.9" fill="#d4d4d4"/>
<rect x="454" y="1089.3" width="34.4" height="1.9" fill="#d4d4d4"/>
<text x="88.70" y="715.00" font-size="24.98" fill="#49dc6c" style="stroke:#49dc6c" letter-spacing="0.184">F-actin</text>
<text x="91.60" y="743.70" font-size="25.04" fill="#3b1cf2" style="stroke:#3b1cf2" letter-spacing="0.275">DAPI</text>
<text x="538.30" y="568.60" font-size="30.73" font-weight="bold">D</text>
<g fill="none" stroke="#c87cfb" stroke-width="1.35"><circle cx="652.1" cy="672.0" r="5.25"/><circle cx="652.1" cy="672.1" r="5.25"/><circle cx="652.1" cy="672.9" r="5.25"/><circle cx="652.1" cy="673.0" r="5.25"/><circle cx="652.1" cy="673.1" r="5.25"/><circle cx="652.1" cy="673.1" r="5.25"/><circle cx="652.1" cy="675.4" r="5.25"/><circle cx="652.1" cy="676.9" r="5.25"/><circle cx="652.1" cy="679.9" r="5.25"/><circle cx="652.1" cy="680.1" r="5.25"/><circle cx="652.1" cy="680.3" r="5.25"/><circle cx="652.1" cy="680.4" r="5.25"/><circle cx="652.1" cy="680.5" r="5.25"/><circle cx="652.1" cy="681.3" r="5.25"/><circle cx="652.1" cy="685.9" r="5.25"/><circle cx="652.1" cy="687.4" r="5.25"/><circle cx="652.1" cy="687.8" r="5.25"/><circle cx="652.1" cy="688.0" r="5.25"/><circle cx="652.1" cy="688.3" r="5.25"/><circle cx="652.1" cy="688.4" r="5.25"/><circle cx="652.1" cy="690.1" r="5.25"/><circle cx="652.1" cy="690.1" r="5.25"/><circle cx="652.1" cy="691.8" r="5.25"/><circle cx="652.1" cy="695.8" r="5.25"/><circle cx="652.1" cy="698.3" r="5.25"/><circle cx="652.1" cy="699.8" r="5.25"/><circle cx="652.1" cy="699.9" r="5.25"/><circle cx="652.1" cy="700.8" r="5.25"/><circle cx="652.1" cy="702.5" r="5.25"/><circle cx="652.1" cy="702.9" r="5.25"/><circle cx="652.1" cy="704.9" r="5.25"/><circle cx="652.1" cy="706.3" r="5.25"/><circle cx="652.1" cy="706.5" r="5.25"/><circle cx="652.1" cy="708.5" r="5.25"/></g>
<g fill="none" stroke="#ee6864" stroke-width="1.35"><circle cx="652.1" cy="595.0" r="5.25"/><circle cx="652.1" cy="596.9" r="5.25"/><circle cx="652.1" cy="597.8" r="5.25"/><circle cx="652.1" cy="600.2" r="5.25"/><circle cx="652.1" cy="605.2" r="5.25"/><circle cx="652.1" cy="614.2" r="5.25"/><circle cx="652.1" cy="615.0" r="5.25"/><circle cx="652.1" cy="615.0" r="5.25"/><circle cx="652.1" cy="617.1" r="5.25"/><circle cx="652.1" cy="619.3" r="5.25"/><circle cx="652.1" cy="622.6" r="5.25"/><circle cx="652.1" cy="626.3" r="5.25"/><circle cx="652.1" cy="626.5" r="5.25"/><circle cx="652.1" cy="628.0" r="5.25"/></g>
<g fill="none" stroke="#82b62a" stroke-width="1.35"><circle cx="652.1" cy="613.5" r="5.25"/><circle cx="652.1" cy="613.7" r="5.25"/><circle cx="652.1" cy="614.5" r="5.25"/><circle cx="652.1" cy="617.3" r="5.25"/><circle cx="652.1" cy="619.4" r="5.25"/><circle cx="652.1" cy="622.2" r="5.25"/><circle cx="652.1" cy="623.2" r="5.25"/><circle cx="652.1" cy="623.5" r="5.25"/><circle cx="652.1" cy="629.5" r="5.25"/></g>
<g fill="none" stroke="#ee6864" stroke-width="1.35"><circle cx="709.0" cy="620.8" r="5.25"/><circle cx="709.0" cy="633.6" r="5.25"/><circle cx="709.0" cy="636.9" r="5.25"/><circle cx="709.0" cy="641.7" r="5.25"/></g>
<g fill="none" stroke="#ee6864" stroke-width="1.35"><circle cx="756.3" cy="629.8" r="5.25"/><circle cx="756.3" cy="635.8" r="5.25"/><circle cx="756.3" cy="643.5" r="5.25"/><circle cx="756.3" cy="645.7" r="5.25"/></g>
<g fill="none" stroke="#4bb8f2" stroke-width="1.35"><circle cx="784.7" cy="634.1" r="5.25"/><circle cx="784.7" cy="638.7" r="5.25"/><circle cx="784.7" cy="640.6" r="5.25"/><circle cx="784.7" cy="649.7" r="5.25"/><circle cx="784.7" cy="653.4" r="5.25"/><circle cx="784.7" cy="660.7" r="5.25"/><circle cx="784.7" cy="664.4" r="5.25"/><circle cx="784.7" cy="669.9" r="5.25"/><circle cx="784.7" cy="674.5" r="5.25"/></g>
<g fill="none" stroke="#ee6864" stroke-width="1.35"><circle cx="806.1" cy="627.3" r="5.25"/><circle cx="806.1" cy="633.2" r="5.25"/><circle cx="806.1" cy="636.0" r="5.25"/><circle cx="806.1" cy="639.6" r="5.25"/><circle cx="806.1" cy="643.3" r="5.25"/><circle cx="806.1" cy="648.3" r="5.25"/></g>
<g fill="none" stroke="#ee6864" stroke-width="1.35"><circle cx="838.8" cy="634.1" r="5.25"/><circle cx="838.8" cy="640.6" r="5.25"/><circle cx="838.8" cy="646.1" r="5.25"/><circle cx="838.8" cy="651.6" r="5.25"/><circle cx="838.8" cy="657.0" r="5.25"/></g>
<g fill="none" stroke="#c87cfb" stroke-width="1.35"><circle cx="844.7" cy="716.7" r="5.25"/><circle cx="844.7" cy="718.8" r="5.25"/><circle cx="844.7" cy="719.4" r="5.25"/><circle cx="844.7" cy="719.5" r="5.25"/><circle cx="844.7" cy="719.9" r="5.25"/><circle cx="844.7" cy="720.0" r="5.25"/><circle cx="844.7" cy="721.5" r="5.25"/><circle cx="844.7" cy="722.1" r="5.25"/><circle cx="844.7" cy="722.2" r="5.25"/><circle cx="844.7" cy="722.7" r="5.25"/><circle cx="844.7" cy="723.4" r="5.25"/><circle cx="844.7" cy="723.6" r="5.25"/><circle cx="844.7" cy="724.1" r="5.25"/><circle cx="844.7" cy="725.3" r="5.25"/><circle cx="844.7" cy="726.4" r="5.25"/><circle cx="844.7" cy="729.1" r="5.25"/><circle cx="844.7" cy="729.2" r="5.25"/><circle cx="844.7" cy="731.5" r="5.25"/><circle cx="844.7" cy="732.5" r="5.25"/><circle cx="844.7" cy="733.4" r="5.25"/><circle cx="844.7" cy="735.6" r="5.25"/><circle cx="844.7" cy="736.3" r="5.25"/><circle cx="844.7" cy="737.7" r="5.25"/><circle cx="844.7" cy="739.5" r="5.25"/><circle cx="844.7" cy="740.6" r="5.25"/><circle cx="844.7" cy="741.7" r="5.25"/><circle cx="844.7" cy="741.7" r="5.25"/><circle cx="844.7" cy="741.9" r="5.25"/><circle cx="844.7" cy="742.6" r="5.25"/><circle cx="844.7" cy="743.4" r="5.25"/><circle cx="844.7" cy="743.7" r="5.25"/><circle cx="844.7" cy="744.2" r="5.25"/><circle cx="844.7" cy="745.3" r="5.25"/><circle cx="844.7" cy="745.6" r="5.25"/><circle cx="844.7" cy="745.9" r="5.25"/><circle cx="844.7" cy="747.9" r="5.25"/></g>
<g fill="none" stroke="#82b62a" stroke-width="1.35"><circle cx="844.7" cy="632.3" r="5.25"/><circle cx="844.7" cy="635.0" r="5.25"/><circle cx="844.7" cy="638.7" r="5.25"/><circle cx="844.7" cy="643.3" r="5.25"/><circle cx="844.7" cy="647.9" r="5.25"/><circle cx="844.7" cy="650.6" r="5.25"/><circle cx="844.7" cy="658.9" r="5.25"/><circle cx="844.7" cy="661.7" r="5.25"/><circle cx="844.7" cy="664.4" r="5.25"/></g>
<g fill="none" stroke="#4bb8f2" stroke-width="1.35"><circle cx="844.7" cy="638.7" r="5.25"/><circle cx="844.7" cy="648.8" r="5.25"/><circle cx="844.7" cy="659.8" r="5.25"/><circle cx="844.7" cy="663.5" r="5.25"/><circle cx="844.7" cy="685.5" r="5.25"/><circle cx="844.7" cy="693.8" r="5.25"/><circle cx="844.7" cy="700.2" r="5.25"/></g>
<g fill="none" stroke="#ee6864" stroke-width="1.35"><circle cx="873.3" cy="644.2" r="5.25"/><circle cx="873.3" cy="647.9" r="5.25"/><circle cx="873.3" cy="653.4" r="5.25"/></g>
<g fill="none" stroke="#ee6864" stroke-width="1.35"><circle cx="892.0" cy="645.1" r="5.25"/><circle cx="892.0" cy="655.2" r="5.25"/><circle cx="892.0" cy="660.7" r="5.25"/><circle cx="892.0" cy="671.7" r="5.25"/><circle cx="892.0" cy="676.3" r="5.25"/><circle cx="892.0" cy="682.8" r="5.25"/></g>
<g fill="none" stroke="#4bb8f2" stroke-width="1.35"><circle cx="883.9" cy="665.3" r="5.25"/><circle cx="883.9" cy="675.4" r="5.25"/><circle cx="883.9" cy="686.0" r="5.25"/><circle cx="883.9" cy="690.1" r="5.25"/><circle cx="883.9" cy="692.8" r="5.25"/><circle cx="883.9" cy="697.4" r="5.25"/><circle cx="883.9" cy="701.1" r="5.25"/><circle cx="883.9" cy="706.6" r="5.25"/><circle cx="883.9" cy="712.1" r="5.25"/></g>
<g fill="none" stroke="#c87cfb" stroke-width="1.35"><circle cx="906.7" cy="729.5" r="5.25"/><circle cx="906.7" cy="729.6" r="5.25"/><circle cx="906.7" cy="730.1" r="5.25"/><circle cx="906.7" cy="730.8" r="5.25"/><circle cx="906.7" cy="734.4" r="5.25"/><circle cx="906.7" cy="735.0" r="5.25"/><circle cx="906.7" cy="735.5" r="5.25"/><circle cx="906.7" cy="736.4" r="5.25"/><circle cx="906.7" cy="738.3" r="5.25"/><circle cx="906.7" cy="738.5" r="5.25"/><circle cx="906.7" cy="738.8" r="5.25"/><circle cx="906.7" cy="738.9" r="5.25"/><circle cx="906.7" cy="740.2" r="5.25"/><circle cx="906.7" cy="741.6" r="5.25"/><circle cx="906.7" cy="742.0" r="5.25"/><circle cx="906.7" cy="742.4" r="5.25"/><circle cx="906.7" cy="749.6" r="5.25"/><circle cx="906.7" cy="749.8" r="5.25"/><circle cx="906.7" cy="752.8" r="5.25"/><circle cx="906.7" cy="753.0" r="5.25"/><circle cx="906.7" cy="754.3" r="5.25"/><circle cx="906.7" cy="756.2" r="5.25"/><circle cx="906.7" cy="756.4" r="5.25"/><circle cx="906.7" cy="757.5" r="5.25"/><circle cx="906.7" cy="758.8" r="5.25"/><circle cx="906.7" cy="759.3" r="5.25"/><circle cx="906.7" cy="761.5" r="5.25"/><circle cx="906.7" cy="761.5" r="5.25"/><circle cx="906.7" cy="762.6" r="5.25"/><circle cx="906.7" cy="763.9" r="5.25"/><circle cx="906.7" cy="763.9" r="5.25"/><circle cx="906.7" cy="767.1" r="5.25"/><circle cx="906.7" cy="767.2" r="5.25"/><circle cx="906.7" cy="768.1" r="5.25"/><circle cx="906.7" cy="768.4" r="5.25"/><circle cx="906.7" cy="769.1" r="5.25"/><circle cx="906.7" cy="769.3" r="5.25"/><circle cx="906.7" cy="770.2" r="5.25"/><circle cx="906.7" cy="770.2" r="5.25"/><circle cx="906.7" cy="770.3" r="5.25"/><circle cx="906.7" cy="771.0" r="5.25"/><circle cx="906.7" cy="771.3" r="5.25"/><circle cx="906.7" cy="771.9" r="5.25"/><circle cx="906.7" cy="772.7" r="5.25"/><circle cx="906.7" cy="786.8" r="5.25"/></g>
<g fill="none" stroke="#ee6864" stroke-width="1.35"><circle cx="906.7" cy="662.6" r="5.25"/><circle cx="906.7" cy="668.0" r="5.25"/><circle cx="906.7" cy="675.4" r="5.25"/><circle cx="906.7" cy="682.8" r="5.25"/><circle cx="906.7" cy="688.3" r="5.25"/></g>
<g fill="none" stroke="#82b62a" stroke-width="1.35"><circle cx="906.7" cy="655.2" r="5.25"/><circle cx="906.7" cy="658.0" r="5.25"/><circle cx="906.7" cy="660.7" r="5.25"/><circle cx="906.7" cy="664.4" r="5.25"/><circle cx="906.7" cy="667.2" r="5.25"/><circle cx="906.7" cy="670.8" r="5.25"/><circle cx="906.7" cy="674.5" r="5.25"/><circle cx="906.7" cy="677.2" r="5.25"/><circle cx="906.7" cy="680.9" r="5.25"/><circle cx="906.7" cy="684.6" r="5.25"/></g>
<rect x="640" y="585.8" width="280.4" height="210.3" fill="none" stroke="#222" stroke-width="2"/>
<path d="M640.0 795.1H648.0M640.0 790.6H648.0M640.0 760.4H648.0M640.0 745.0H648.0M640.0 734.1H648.0M640.0 725.6H653.3M640.0 718.7H648.0M640.0 712.9H648.0M640.0 707.9H648.0M640.0 703.4H648.0M640.0 673.2H648.0M640.0 657.8H648.0M640.0 646.9H648.0M640.0 638.4H653.3M640.0 631.5H648.0M640.0 625.7H648.0M640.0 620.7H648.0M640.0 616.2H648.0M640.0 586.0H648.0" stroke="#222" stroke-width="1.7" fill="none"/><path d="M634.5 786.6H660.5M634.5 699.4H660.5M634.5 612.2H660.5" stroke="#222" stroke-width="2.5" fill="none"/>
<path d="M695.2 796.1V789.8000000000001M764.6 796.1V789.8000000000001M805.2 796.1V789.8000000000001M820.6 796.1V789.8000000000001M834.0 796.1V789.8000000000001M845.8 796.1V789.8000000000001M735.8 802.1V788.8000000000001M786.9 802.1V784.4M856.3 802.1V780.1" stroke="#222" stroke-width="2" fill="none"/>
<text x="562.21" y="621.50" font-size="23.84" letter-spacing="0.214">10,000</text>
<text x="572.17" y="708.50" font-size="24.40" letter-spacing="0.222">1,000</text>
<text x="590.87" y="795.50" font-size="24.39" letter-spacing="0.289">100</text>
<text x="561.40" y="786.73" font-size="24.57" transform="rotate(-90 561.40 786.73)" letter-spacing="0.176">Cell area (µm<tspan font-size="16.5" dy="-8">2</tspan><tspan dy="8">)</tspan></text>
<text x="630.47" y="785.20" font-size="24.39" fill="#ee6864" style="stroke:#ee6864" letter-spacing="0.289">100</text>
<text x="684.70" y="785.20" font-size="25.02" fill="#82b62a" style="stroke:#82b62a">40</text>
<text x="719.65" y="785.20" font-size="24.70" fill="#4bb8f2" style="stroke:#4bb8f2">10</text>
<text x="760.62" y="785.20" font-size="24.51" fill="#c87cfb" style="stroke:#c87cfb" letter-spacing="0.245">0.5</text>
<text x="808.08" y="785.20" font-size="25.40" letter-spacing="0.219">(kPa)</text>
<text x="719.69" y="823.50" font-size="25.22">30</text>
<text x="770.80" y="823.50" font-size="24.93">50</text>
<text x="833.51" y="823.50" font-size="23.88" letter-spacing="0.283">100</text>
<text x="692.51" y="849.00" font-size="24.54" letter-spacing="0.195">Thickness (µm)</text>
<text x="537.84" y="894.00" font-size="30.09" font-weight="bold">E</text>
<g fill="none" stroke="#c87cfb" stroke-width="1.35"><circle cx="649.3" cy="1014.5" r="5.25"/><circle cx="649.3" cy="1014.6" r="5.25"/><circle cx="649.3" cy="1016.0" r="5.25"/><circle cx="649.3" cy="1017.5" r="5.25"/><circle cx="649.3" cy="1018.7" r="5.25"/><circle cx="649.3" cy="1020.5" r="5.25"/><circle cx="649.3" cy="1020.5" r="5.25"/><circle cx="649.3" cy="1021.5" r="5.25"/><circle cx="649.3" cy="1021.8" r="5.25"/><circle cx="649.3" cy="1023.2" r="5.25"/><circle cx="649.3" cy="1023.6" r="5.25"/><circle cx="649.3" cy="1023.9" r="5.25"/><circle cx="649.3" cy="1024.6" r="5.25"/><circle cx="649.3" cy="1024.6" r="5.25"/><circle cx="649.3" cy="1026.2" r="5.25"/><circle cx="649.3" cy="1026.3" r="5.25"/><circle cx="649.3" cy="1027.6" r="5.25"/><circle cx="649.3" cy="1030.3" r="5.25"/><circle cx="649.3" cy="1032.3" r="5.25"/><circle cx="649.3" cy="1033.0" r="5.25"/><circle cx="649.3" cy="1033.6" r="5.25"/><circle cx="649.3" cy="1033.6" r="5.25"/><circle cx="649.3" cy="1035.5" r="5.25"/><circle cx="649.3" cy="1035.6" r="5.25"/><circle cx="649.3" cy="1035.8" r="5.25"/><circle cx="649.3" cy="1035.9" r="5.25"/><circle cx="649.3" cy="1037.5" r="5.25"/><circle cx="649.3" cy="1038.7" r="5.25"/><circle cx="649.3" cy="1039.2" r="5.25"/><circle cx="649.3" cy="1040.4" r="5.25"/><circle cx="649.3" cy="1041.5" r="5.25"/><circle cx="649.3" cy="1041.5" r="5.25"/><circle cx="649.3" cy="1042.4" r="5.25"/><circle cx="649.3" cy="1043.5" r="5.25"/><circle cx="649.3" cy="1044.9" r="5.25"/><circle cx="649.3" cy="1045.0" r="5.25"/><circle cx="649.3" cy="1046.1" r="5.25"/><circle cx="649.3" cy="1047.8" r="5.25"/><circle cx="649.3" cy="1053.2" r="5.25"/><circle cx="649.3" cy="1054.0" r="5.25"/><circle cx="649.3" cy="1054.3" r="5.25"/><circle cx="649.3" cy="1054.6" r="5.25"/><circle cx="649.3" cy="1056.7" r="5.25"/><circle cx="649.3" cy="1058.6" r="5.25"/><circle cx="649.3" cy="1059.3" r="5.25"/><circle cx="649.3" cy="1059.8" r="5.25"/><circle cx="649.3" cy="1060.3" r="5.25"/><circle cx="649.3" cy="1061.0" r="5.25"/><circle cx="649.3" cy="1061.2" r="5.25"/><circle cx="649.3" cy="1061.6" r="5.25"/><circle cx="649.3" cy="1064.6" r="5.25"/><circle cx="649.3" cy="1065.4" r="5.25"/><circle cx="649.3" cy="1065.8" r="5.25"/><circle cx="649.3" cy="1066.5" r="5.25"/><circle cx="649.3" cy="1067.4" r="5.25"/><circle cx="649.3" cy="1070.5" r="5.25"/><circle cx="649.3" cy="1070.6" r="5.25"/><circle cx="649.3" cy="1073.4" r="5.25"/><circle cx="649.3" cy="1076.2" r="5.25"/><circle cx="649.3" cy="1077.6" r="5.25"/><circle cx="649.3" cy="1077.6" r="5.25"/><circle cx="649.3" cy="1078.7" r="5.25"/><circle cx="649.3" cy="1078.8" r="5.25"/><circle cx="649.3" cy="1079.0" r="5.25"/><circle cx="649.3" cy="1080.0" r="5.25"/><circle cx="649.3" cy="1080.9" r="5.25"/><circle cx="649.3" cy="1084.0" r="5.25"/><circle cx="649.3" cy="1085.4" r="5.25"/><circle cx="649.3" cy="1087.8" r="5.25"/><circle cx="649.3" cy="1090.5" r="5.25"/><circle cx="649.3" cy="1091.3" r="5.25"/><circle cx="649.3" cy="1091.9" r="5.25"/><circle cx="649.3" cy="1092.5" r="5.25"/><circle cx="649.3" cy="1094.0" r="5.25"/><circle cx="649.3" cy="1094.4" r="5.25"/><circle cx="649.3" cy="1095.0" r="5.25"/><circle cx="649.3" cy="1095.6" r="5.25"/><circle cx="649.3" cy="1098.7" r="5.25"/><circle cx="649.3" cy="1098.9" r="5.25"/><circle cx="649.3" cy="1099.3" r="5.25"/><circle cx="649.3" cy="1099.4" r="5.25"/><circle cx="649.3" cy="1100.1" r="5.25"/><circle cx="649.3" cy="1103.2" r="5.25"/><circle cx="649.3" cy="1105.7" r="5.25"/><circle cx="649.3" cy="1107.1" r="5.25"/><circle cx="649.3" cy="1110.5" r="5.25"/><circle cx="649.3" cy="1111.1" r="5.25"/><circle cx="649.3" cy="1111.2" r="5.25"/><circle cx="649.3" cy="1111.8" r="5.25"/><circle cx="649.3" cy="1112.7" r="5.25"/><circle cx="649.3" cy="1112.9" r="5.25"/><circle cx="649.3" cy="1113.6" r="5.25"/><circle cx="649.3" cy="1114.3" r="5.25"/><circle cx="649.3" cy="1114.5" r="5.25"/><circle cx="649.3" cy="1114.7" r="5.25"/><circle cx="649.3" cy="1129.0" r="5.25"/></g>
<g fill="none" stroke="#4bb8f2" stroke-width="1.35"><circle cx="793.7" cy="977.0" r="5.25"/><circle cx="793.7" cy="977.9" r="5.25"/><circle cx="793.7" cy="978.5" r="5.25"/><circle cx="793.7" cy="981.1" r="5.25"/><circle cx="793.7" cy="981.6" r="5.25"/><circle cx="793.7" cy="981.8" r="5.25"/><circle cx="793.7" cy="982.9" r="5.25"/><circle cx="793.7" cy="984.2" r="5.25"/><circle cx="793.7" cy="985.9" r="5.25"/><circle cx="793.7" cy="987.7" r="5.25"/><circle cx="793.7" cy="988.3" r="5.25"/><circle cx="793.7" cy="988.5" r="5.25"/><circle cx="793.7" cy="989.8" r="5.25"/><circle cx="793.7" cy="989.9" r="5.25"/><circle cx="793.7" cy="990.5" r="5.25"/><circle cx="793.7" cy="998.6" r="5.25"/><circle cx="793.7" cy="1001.7" r="5.25"/><circle cx="793.7" cy="1003.6" r="5.25"/><circle cx="793.7" cy="1006.6" r="5.25"/><circle cx="793.7" cy="1009.0" r="5.25"/><circle cx="793.7" cy="1010.4" r="5.25"/><circle cx="793.7" cy="1011.8" r="5.25"/><circle cx="793.7" cy="1014.5" r="5.25"/><circle cx="793.7" cy="1017.2" r="5.25"/><circle cx="793.7" cy="1021.1" r="5.25"/><circle cx="793.7" cy="1024.5" r="5.25"/><circle cx="793.7" cy="1026.1" r="5.25"/><circle cx="793.7" cy="1028.9" r="5.25"/><circle cx="793.7" cy="1029.2" r="5.25"/><circle cx="793.7" cy="1029.6" r="5.25"/><circle cx="793.7" cy="1031.3" r="5.25"/><circle cx="793.7" cy="1031.6" r="5.25"/><circle cx="793.7" cy="1032.0" r="5.25"/><circle cx="793.7" cy="1041.0" r="5.25"/><circle cx="793.7" cy="1041.4" r="5.25"/><circle cx="793.7" cy="1041.7" r="5.25"/><circle cx="793.7" cy="1043.5" r="5.25"/><circle cx="793.7" cy="1048.6" r="5.25"/><circle cx="793.7" cy="1049.3" r="5.25"/><circle cx="793.7" cy="1051.8" r="5.25"/><circle cx="793.7" cy="1055.0" r="5.25"/><circle cx="793.7" cy="1056.0" r="5.25"/></g>
<g fill="none" stroke="#82b62a" stroke-width="1.35"><circle cx="860.2" cy="957.3" r="5.25"/><circle cx="860.2" cy="958.3" r="5.25"/><circle cx="860.2" cy="965.4" r="5.25"/><circle cx="860.2" cy="966.3" r="5.25"/><circle cx="860.2" cy="966.6" r="5.25"/><circle cx="860.2" cy="967.5" r="5.25"/><circle cx="860.2" cy="967.5" r="5.25"/><circle cx="860.2" cy="970.2" r="5.25"/><circle cx="860.2" cy="972.1" r="5.25"/><circle cx="860.2" cy="972.9" r="5.25"/><circle cx="860.2" cy="973.3" r="5.25"/><circle cx="860.2" cy="975.1" r="5.25"/><circle cx="860.2" cy="975.2" r="5.25"/><circle cx="860.2" cy="976.4" r="5.25"/><circle cx="860.2" cy="977.7" r="5.25"/><circle cx="860.2" cy="979.0" r="5.25"/><circle cx="860.2" cy="982.5" r="5.25"/><circle cx="860.2" cy="987.1" r="5.25"/><circle cx="860.2" cy="987.1" r="5.25"/><circle cx="860.2" cy="987.2" r="5.25"/><circle cx="860.2" cy="991.0" r="5.25"/><circle cx="860.2" cy="994.1" r="5.25"/><circle cx="860.2" cy="995.7" r="5.25"/><circle cx="860.2" cy="996.4" r="5.25"/><circle cx="860.2" cy="999.5" r="5.25"/><circle cx="860.2" cy="1004.2" r="5.25"/><circle cx="860.2" cy="1004.7" r="5.25"/><circle cx="860.2" cy="1004.8" r="5.25"/><circle cx="860.2" cy="1005.2" r="5.25"/><circle cx="860.2" cy="1008.2" r="5.25"/><circle cx="860.2" cy="1008.9" r="5.25"/><circle cx="860.2" cy="1009.2" r="5.25"/><circle cx="860.2" cy="1009.6" r="5.25"/><circle cx="860.2" cy="1012.3" r="5.25"/><circle cx="860.2" cy="1012.6" r="5.25"/><circle cx="860.2" cy="1013.2" r="5.25"/><circle cx="860.2" cy="1013.4" r="5.25"/><circle cx="860.2" cy="1014.1" r="5.25"/><circle cx="860.2" cy="1014.6" r="5.25"/><circle cx="860.2" cy="1015.3" r="5.25"/><circle cx="860.2" cy="1016.2" r="5.25"/><circle cx="860.2" cy="1016.2" r="5.25"/><circle cx="860.2" cy="1017.7" r="5.25"/><circle cx="860.2" cy="1023.1" r="5.25"/><circle cx="860.2" cy="1025.6" r="5.25"/><circle cx="860.2" cy="1026.6" r="5.25"/></g>
<g fill="none" stroke="#ee6864" stroke-width="1.35"><circle cx="904.7" cy="937.4" r="5.25"/><circle cx="904.7" cy="938.7" r="5.25"/><circle cx="904.7" cy="939.4" r="5.25"/><circle cx="904.7" cy="942.1" r="5.25"/><circle cx="904.7" cy="943.3" r="5.25"/><circle cx="904.7" cy="943.7" r="5.25"/><circle cx="904.7" cy="944.0" r="5.25"/><circle cx="904.7" cy="944.1" r="5.25"/><circle cx="904.7" cy="944.1" r="5.25"/><circle cx="904.7" cy="944.6" r="5.25"/><circle cx="904.7" cy="944.9" r="5.25"/><circle cx="904.7" cy="945.3" r="5.25"/><circle cx="904.7" cy="945.4" r="5.25"/><circle cx="904.7" cy="945.8" r="5.25"/><circle cx="904.7" cy="946.1" r="5.25"/><circle cx="904.7" cy="947.5" r="5.25"/><circle cx="904.7" cy="948.0" r="5.25"/><circle cx="904.7" cy="949.0" r="5.25"/><circle cx="904.7" cy="950.2" r="5.25"/><circle cx="904.7" cy="951.1" r="5.25"/><circle cx="904.7" cy="951.8" r="5.25"/><circle cx="904.7" cy="952.8" r="5.25"/><circle cx="904.7" cy="953.2" r="5.25"/><circle cx="904.7" cy="954.1" r="5.25"/><circle cx="904.7" cy="955.5" r="5.25"/><circle cx="904.7" cy="955.8" r="5.25"/><circle cx="904.7" cy="956.5" r="5.25"/><circle cx="904.7" cy="957.2" r="5.25"/><circle cx="904.7" cy="958.8" r="5.25"/><circle cx="904.7" cy="961.2" r="5.25"/><circle cx="904.7" cy="962.7" r="5.25"/><circle cx="904.7" cy="965.4" r="5.25"/><circle cx="904.7" cy="965.9" r="5.25"/><circle cx="904.7" cy="968.3" r="5.25"/><circle cx="904.7" cy="968.4" r="5.25"/><circle cx="904.7" cy="969.4" r="5.25"/><circle cx="904.7" cy="969.5" r="5.25"/><circle cx="904.7" cy="970.9" r="5.25"/><circle cx="904.7" cy="971.3" r="5.25"/><circle cx="904.7" cy="971.6" r="5.25"/><circle cx="904.7" cy="972.7" r="5.25"/><circle cx="904.7" cy="973.7" r="5.25"/><circle cx="904.7" cy="974.5" r="5.25"/><circle cx="904.7" cy="975.2" r="5.25"/><circle cx="904.7" cy="976.3" r="5.25"/><circle cx="904.7" cy="977.7" r="5.25"/><circle cx="904.7" cy="979.0" r="5.25"/><circle cx="904.7" cy="979.4" r="5.25"/><circle cx="904.7" cy="980.3" r="5.25"/><circle cx="904.7" cy="982.0" r="5.25"/><circle cx="904.7" cy="982.1" r="5.25"/><circle cx="904.7" cy="983.4" r="5.25"/><circle cx="904.7" cy="983.4" r="5.25"/><circle cx="904.7" cy="983.9" r="5.25"/><circle cx="904.7" cy="984.3" r="5.25"/><circle cx="904.7" cy="985.7" r="5.25"/><circle cx="904.7" cy="985.8" r="5.25"/><circle cx="904.7" cy="985.9" r="5.25"/><circle cx="904.7" cy="987.0" r="5.25"/><circle cx="904.7" cy="987.1" r="5.25"/><circle cx="904.7" cy="989.2" r="5.25"/><circle cx="904.7" cy="989.7" r="5.25"/><circle cx="904.7" cy="992.3" r="5.25"/><circle cx="904.7" cy="993.8" r="5.25"/><circle cx="904.7" cy="994.2" r="5.25"/><circle cx="904.7" cy="995.2" r="5.25"/><circle cx="904.7" cy="998.5" r="5.25"/><circle cx="904.7" cy="999.0" r="5.25"/><circle cx="904.7" cy="999.2" r="5.25"/><circle cx="904.7" cy="1001.0" r="5.25"/><circle cx="904.7" cy="1003.7" r="5.25"/><circle cx="904.7" cy="1003.8" r="5.25"/><circle cx="904.7" cy="1006.4" r="5.25"/><circle cx="904.7" cy="1007.3" r="5.25"/><circle cx="904.7" cy="1008.0" r="5.25"/><circle cx="904.7" cy="1013.0" r="5.25"/><circle cx="904.7" cy="1018.0" r="5.25"/><circle cx="904.7" cy="1024.0" r="5.25"/><circle cx="904.7" cy="1031.0" r="5.25"/></g>
<rect x="638.3" y="928.2" width="280.7" height="210.3" fill="none" stroke="#222" stroke-width="2"/>
<path d="M638.3 1137.9H647.8M638.3 1133.4H647.8M638.3 1103.1H647.8M638.3 1087.7H647.8M638.3 1076.8H647.8M638.3 1068.3H655.3M638.3 1061.4H647.8M638.3 1055.5H647.8M638.3 1050.5H647.8M638.3 1046.0H647.8M638.3 1015.7H647.8M638.3 1000.3H647.8M638.3 989.4H647.8M638.3 980.9H655.3M638.3 974.0H647.8M638.3 968.1H647.8M638.3 963.1H647.8M638.3 958.6H647.8M638.3 928.3H647.8" stroke="#222" stroke-width="1.7" fill="none"/><path d="M631.3 1129.4H663.6M631.3 1042.0H663.6M631.3 954.6H663.6" stroke="#222" stroke-width="2.5" fill="none"/>
<path d="M641.3 1138.5V1132.3M652.0 1138.5V1126.8M660.7 1138.5V1132.3M668.1 1138.5V1132.3M674.5 1138.5V1132.3M680.2 1138.5V1132.3M718.4 1138.5V1132.3M737.8 1138.5V1132.3M751.6 1138.5V1132.3M762.3 1138.5V1126.8M771.0 1138.5V1132.3M778.4 1138.5V1132.3M784.8 1138.5V1132.3M790.5 1138.5V1132.3M828.7 1138.5V1132.3M848.1 1138.5V1132.3M861.9 1138.5V1132.3M872.6 1138.5V1126.8M881.3 1138.5V1132.3M888.7 1138.5V1132.3M895.1 1138.5V1132.3M900.8 1138.5V1132.3" stroke="#222" stroke-width="1.7" fill="none"/><path d="M685.2 1143.5V1120.2M795.5 1143.5V1120.2M905.8 1143.5V1120.2" stroke="#222" stroke-width="2.3" fill="none"/>
<text x="560.80" y="963.80" font-size="24.01" letter-spacing="0.216">10,000</text>
<text x="569.39" y="1051.10" font-size="24.11" letter-spacing="0.219">1,000</text>
<text x="586.72" y="1137.80" font-size="23.69" letter-spacing="0.280">100</text>
<text x="556.20" y="1119.23" font-size="24.57" transform="rotate(-90 556.20 1119.23)" letter-spacing="0.176">Cell area (µm<tspan font-size="16.5" dy="-8">2</tspan><tspan dy="8">)</tspan></text>
<text x="687.25" y="1118.80" font-size="24.70" fill="#ee6864" style="stroke:#ee6864" letter-spacing="0.293">100</text>
<text x="741.89" y="1118.80" font-size="25.50" fill="#82b62a" style="stroke:#82b62a">40</text>
<text x="776.95" y="1118.80" font-size="24.60" fill="#4bb8f2" style="stroke:#4bb8f2">10</text>
<text x="817.82" y="1118.80" font-size="24.51" fill="#c87cfb" style="stroke:#c87cfb" letter-spacing="0.245">0.5</text>
<text x="865.28" y="1118.80" font-size="25.40" letter-spacing="0.219">(kPa)</text>
<text x="676.77" y="1167.60" font-size="24.90">1</text>
<text x="781.09" y="1167.60" font-size="25.50">10</text>
<text x="888.27" y="1167.60" font-size="23.06" letter-spacing="0.273">100</text>
<text x="698.42" y="1190.90" font-size="24.70" letter-spacing="0.198">Modulus (kPa)</text>
<text x="985.09" y="568.70" font-size="29.41" font-weight="bold">F</text>
<g fill="none" stroke="#ee6864" stroke-width="1.3"><circle cx="1099.2" cy="603.8" r="4.7"/><circle cx="1099.2" cy="603.8" r="4.7"/><circle cx="1099.2" cy="604.3" r="4.7"/><circle cx="1099.2" cy="604.3" r="4.7"/><circle cx="1099.2" cy="604.4" r="4.7"/><circle cx="1099.2" cy="604.8" r="4.7"/><circle cx="1099.2" cy="605.4" r="4.7"/><circle cx="1099.2" cy="605.6" r="4.7"/><circle cx="1099.2" cy="606.0" r="4.7"/><circle cx="1099.2" cy="606.1" r="4.7"/><circle cx="1099.2" cy="606.5" r="4.7"/><circle cx="1099.2" cy="606.9" r="4.7"/><circle cx="1099.2" cy="607.1" r="4.7"/><circle cx="1099.2" cy="607.1" r="4.7"/><circle cx="1099.2" cy="607.2" r="4.7"/><circle cx="1099.2" cy="608.5" r="4.7"/><circle cx="1099.2" cy="608.7" r="4.7"/><circle cx="1099.2" cy="609.0" r="4.7"/><circle cx="1099.2" cy="609.1" r="4.7"/><circle cx="1099.2" cy="610.2" r="4.7"/><circle cx="1099.2" cy="610.6" r="4.7"/><circle cx="1099.2" cy="610.7" r="4.7"/><circle cx="1099.2" cy="610.9" r="4.7"/><circle cx="1099.2" cy="611.0" r="4.7"/><circle cx="1099.2" cy="611.1" r="4.7"/><circle cx="1099.2" cy="611.6" r="4.7"/><circle cx="1099.2" cy="612.1" r="4.7"/><circle cx="1099.2" cy="612.5" r="4.7"/><circle cx="1099.2" cy="612.8" r="4.7"/><circle cx="1099.2" cy="613.6" r="4.7"/><circle cx="1099.2" cy="614.3" r="4.7"/><circle cx="1099.2" cy="615.1" r="4.7"/><circle cx="1099.2" cy="615.1" r="4.7"/><circle cx="1099.2" cy="615.3" r="4.7"/><circle cx="1099.2" cy="615.4" r="4.7"/><circle cx="1099.2" cy="616.2" r="4.7"/><circle cx="1099.2" cy="617.0" r="4.7"/><circle cx="1099.2" cy="617.3" r="4.7"/><circle cx="1099.2" cy="618.0" r="4.7"/><circle cx="1099.2" cy="618.0" r="4.7"/></g>
<g fill="none" stroke="#82b62a" stroke-width="1.3"><circle cx="1099.2" cy="626.3" r="4.7"/><circle cx="1099.2" cy="626.5" r="4.7"/><circle cx="1099.2" cy="626.7" r="4.7"/><circle cx="1099.2" cy="627.2" r="4.7"/><circle cx="1099.2" cy="627.4" r="4.7"/><circle cx="1099.2" cy="627.7" r="4.7"/><circle cx="1099.2" cy="627.7" r="4.7"/><circle cx="1099.2" cy="628.0" r="4.7"/><circle cx="1099.2" cy="628.6" r="4.7"/><circle cx="1099.2" cy="628.7" r="4.7"/><circle cx="1099.2" cy="628.9" r="4.7"/><circle cx="1099.2" cy="630.7" r="4.7"/><circle cx="1099.2" cy="630.8" r="4.7"/><circle cx="1099.2" cy="631.2" r="4.7"/><circle cx="1099.2" cy="631.4" r="4.7"/><circle cx="1099.2" cy="631.6" r="4.7"/><circle cx="1099.2" cy="632.9" r="4.7"/><circle cx="1099.2" cy="633.0" r="4.7"/><circle cx="1099.2" cy="633.2" r="4.7"/><circle cx="1099.2" cy="633.3" r="4.7"/><circle cx="1099.2" cy="633.5" r="4.7"/><circle cx="1099.2" cy="633.5" r="4.7"/><circle cx="1099.2" cy="633.8" r="4.7"/><circle cx="1099.2" cy="633.8" r="4.7"/></g>
<g fill="none" stroke="#c87cfb" stroke-width="1.3"><circle cx="1096.2" cy="718.8" r="4.7"/><circle cx="1096.2" cy="719.2" r="4.7"/><circle cx="1096.2" cy="719.8" r="4.7"/><circle cx="1096.2" cy="720.2" r="4.7"/><circle cx="1096.2" cy="720.2" r="4.7"/><circle cx="1096.2" cy="720.2" r="4.7"/><circle cx="1096.2" cy="721.0" r="4.7"/><circle cx="1096.2" cy="722.0" r="4.7"/><circle cx="1096.2" cy="722.5" r="4.7"/><circle cx="1096.2" cy="724.1" r="4.7"/><circle cx="1096.2" cy="724.8" r="4.7"/><circle cx="1096.2" cy="724.9" r="4.7"/><circle cx="1096.2" cy="725.0" r="4.7"/><circle cx="1096.2" cy="725.8" r="4.7"/><circle cx="1096.2" cy="725.9" r="4.7"/><circle cx="1096.2" cy="726.2" r="4.7"/><circle cx="1096.2" cy="726.4" r="4.7"/><circle cx="1096.2" cy="726.7" r="4.7"/><circle cx="1096.2" cy="727.4" r="4.7"/><circle cx="1096.2" cy="727.7" r="4.7"/><circle cx="1096.2" cy="728.4" r="4.7"/><circle cx="1096.2" cy="728.6" r="4.7"/><circle cx="1096.2" cy="728.7" r="4.7"/><circle cx="1096.2" cy="729.2" r="4.7"/><circle cx="1096.2" cy="729.8" r="4.7"/><circle cx="1096.2" cy="729.8" r="4.7"/><circle cx="1096.2" cy="730.7" r="4.7"/><circle cx="1096.2" cy="730.8" r="4.7"/><circle cx="1096.2" cy="731.1" r="4.7"/><circle cx="1096.2" cy="731.5" r="4.7"/><circle cx="1096.2" cy="731.9" r="4.7"/><circle cx="1096.2" cy="733.7" r="4.7"/><circle cx="1096.2" cy="734.2" r="4.7"/><circle cx="1096.2" cy="734.6" r="4.7"/><circle cx="1096.2" cy="735.0" r="4.7"/><circle cx="1096.2" cy="735.5" r="4.7"/></g>
<g fill="none" stroke="#ee6864" stroke-width="1.3"><circle cx="1153.2" cy="625.0" r="4.7"/><circle cx="1153.2" cy="630.5" r="4.7"/><circle cx="1153.2" cy="632.0" r="4.7"/><circle cx="1153.2" cy="634.5" r="4.7"/></g>
<g fill="none" stroke="#ee6864" stroke-width="1.3"><circle cx="1201.8" cy="636.2" r="4.7"/><circle cx="1201.8" cy="638.5" r="4.7"/><circle cx="1201.8" cy="640.5" r="4.7"/><circle cx="1201.8" cy="644.5" r="4.7"/></g>
<g fill="none" stroke="#4fd0c4" stroke-width="1.3"><circle cx="1229.2" cy="678.8" r="4.7"/><circle cx="1229.2" cy="680.2" r="4.7"/><circle cx="1229.2" cy="681.1" r="4.7"/><circle cx="1229.2" cy="681.5" r="4.7"/><circle cx="1229.2" cy="681.7" r="4.7"/><circle cx="1229.2" cy="688.9" r="4.7"/><circle cx="1229.2" cy="689.4" r="4.7"/><circle cx="1229.2" cy="689.5" r="4.7"/><circle cx="1229.2" cy="690.2" r="4.7"/><circle cx="1229.2" cy="691.4" r="4.7"/><circle cx="1229.2" cy="693.8" r="4.7"/><circle cx="1229.2" cy="693.8" r="4.7"/></g>
<g fill="none" stroke="#ee6864" stroke-width="1.3"><circle cx="1251.2" cy="642.5" r="4.7"/><circle cx="1251.2" cy="644.4" r="4.7"/><circle cx="1251.2" cy="645.8" r="4.7"/><circle cx="1251.2" cy="649.8" r="4.7"/><circle cx="1251.2" cy="650.1" r="4.7"/><circle cx="1251.2" cy="650.6" r="4.7"/><circle cx="1251.2" cy="651.2" r="4.7"/></g>
<g fill="none" stroke="#ee6864" stroke-width="1.3"><circle cx="1283.8" cy="648.8" r="4.7"/><circle cx="1283.8" cy="649.3" r="4.7"/><circle cx="1283.8" cy="650.6" r="4.7"/><circle cx="1283.8" cy="650.6" r="4.7"/><circle cx="1283.8" cy="654.0" r="4.7"/><circle cx="1283.8" cy="655.3" r="4.7"/><circle cx="1283.8" cy="655.6" r="4.7"/><circle cx="1283.8" cy="657.5" r="4.7"/></g>
<g fill="none" stroke="#82b62a" stroke-width="1.3"><circle cx="1290.8" cy="663.8" r="4.7"/><circle cx="1290.8" cy="663.9" r="4.7"/><circle cx="1290.8" cy="664.5" r="4.7"/><circle cx="1290.8" cy="664.5" r="4.7"/><circle cx="1290.8" cy="664.6" r="4.7"/><circle cx="1290.8" cy="665.7" r="4.7"/><circle cx="1290.8" cy="665.8" r="4.7"/><circle cx="1290.8" cy="667.3" r="4.7"/><circle cx="1290.8" cy="667.7" r="4.7"/><circle cx="1290.8" cy="668.9" r="4.7"/><circle cx="1290.8" cy="669.8" r="4.7"/><circle cx="1290.8" cy="670.5" r="4.7"/><circle cx="1290.8" cy="670.5" r="4.7"/><circle cx="1290.8" cy="670.6" r="4.7"/><circle cx="1290.8" cy="671.1" r="4.7"/><circle cx="1290.8" cy="671.5" r="4.7"/><circle cx="1290.8" cy="671.9" r="4.7"/><circle cx="1290.8" cy="672.3" r="4.7"/><circle cx="1290.8" cy="672.4" r="4.7"/><circle cx="1290.8" cy="672.5" r="4.7"/><circle cx="1290.8" cy="673.3" r="4.7"/><circle cx="1290.8" cy="673.3" r="4.7"/><circle cx="1290.8" cy="673.8" r="4.7"/><circle cx="1290.8" cy="673.9" r="4.7"/><circle cx="1290.8" cy="674.1" r="4.7"/><circle cx="1290.8" cy="674.2" r="4.7"/></g>
<g fill="none" stroke="#4fd0c4" stroke-width="1.3"><circle cx="1290.8" cy="687.5" r="4.7"/><circle cx="1290.8" cy="690.0" r="4.7"/><circle cx="1290.8" cy="692.0" r="4.7"/><circle cx="1290.8" cy="695.0" r="4.7"/><circle cx="1290.8" cy="697.5" r="4.7"/><circle cx="1290.8" cy="702.0" r="4.7"/><circle cx="1290.8" cy="704.5" r="4.7"/></g>
<g fill="none" stroke="#c87cfb" stroke-width="1.3"><circle cx="1290.0" cy="755.0" r="4.7"/><circle cx="1290.0" cy="755.2" r="4.7"/><circle cx="1290.0" cy="755.7" r="4.7"/><circle cx="1290.0" cy="755.8" r="4.7"/><circle cx="1290.0" cy="755.9" r="4.7"/><circle cx="1290.0" cy="755.9" r="4.7"/><circle cx="1290.0" cy="755.9" r="4.7"/><circle cx="1290.0" cy="755.9" r="4.7"/><circle cx="1290.0" cy="756.2" r="4.7"/><circle cx="1290.0" cy="756.3" r="4.7"/><circle cx="1290.0" cy="756.5" r="4.7"/><circle cx="1290.0" cy="756.7" r="4.7"/><circle cx="1290.0" cy="757.2" r="4.7"/><circle cx="1290.0" cy="757.7" r="4.7"/><circle cx="1290.0" cy="757.9" r="4.7"/><circle cx="1290.0" cy="758.2" r="4.7"/><circle cx="1290.0" cy="758.5" r="4.7"/><circle cx="1290.0" cy="759.2" r="4.7"/><circle cx="1290.0" cy="759.8" r="4.7"/><circle cx="1290.0" cy="760.9" r="4.7"/><circle cx="1290.0" cy="761.3" r="4.7"/><circle cx="1290.0" cy="761.9" r="4.7"/><circle cx="1290.0" cy="761.9" r="4.7"/><circle cx="1290.0" cy="762.0" r="4.7"/></g>
<g fill="none" stroke="#ee6864" stroke-width="1.3"><circle cx="1319.2" cy="655.0" r="4.7"/><circle cx="1319.2" cy="656.5" r="4.7"/><circle cx="1319.2" cy="658.8" r="4.7"/></g>
<g fill="none" stroke="#4fd0c4" stroke-width="1.3"><circle cx="1328.8" cy="697.0" r="4.7"/><circle cx="1328.8" cy="698.2" r="4.7"/><circle cx="1328.8" cy="699.7" r="4.7"/><circle cx="1328.8" cy="700.4" r="4.7"/><circle cx="1328.8" cy="700.9" r="4.7"/><circle cx="1328.8" cy="701.1" r="4.7"/><circle cx="1328.8" cy="701.1" r="4.7"/><circle cx="1328.8" cy="701.1" r="4.7"/><circle cx="1328.8" cy="701.9" r="4.7"/><circle cx="1328.8" cy="702.0" r="4.7"/><circle cx="1328.8" cy="702.2" r="4.7"/><circle cx="1328.8" cy="703.0" r="4.7"/><circle cx="1328.8" cy="703.5" r="4.7"/><circle cx="1328.8" cy="704.2" r="4.7"/><circle cx="1328.8" cy="707.0" r="4.7"/><circle cx="1328.8" cy="708.5" r="4.7"/><circle cx="1328.8" cy="708.8" r="4.7"/><circle cx="1328.8" cy="708.8" r="4.7"/></g>
<g fill="none" stroke="#ee6864" stroke-width="1.3"><circle cx="1337.5" cy="657.5" r="4.7"/><circle cx="1337.5" cy="660.0" r="4.7"/><circle cx="1337.5" cy="662.5" r="4.7"/><circle cx="1337.5" cy="666.2" r="4.7"/></g>
<g fill="none" stroke="#ee6864" stroke-width="1.3"><circle cx="1352.5" cy="661.8" r="4.7"/><circle cx="1352.5" cy="667.5" r="4.7"/></g>
<g fill="none" stroke="#82b62a" stroke-width="1.3"><circle cx="1352.5" cy="673.8" r="4.7"/><circle cx="1352.5" cy="674.0" r="4.7"/><circle cx="1352.5" cy="674.3" r="4.7"/><circle cx="1352.5" cy="674.3" r="4.7"/><circle cx="1352.5" cy="675.0" r="4.7"/><circle cx="1352.5" cy="675.4" r="4.7"/><circle cx="1352.5" cy="675.6" r="4.7"/><circle cx="1352.5" cy="675.7" r="4.7"/><circle cx="1352.5" cy="675.9" r="4.7"/><circle cx="1352.5" cy="676.7" r="4.7"/><circle cx="1352.5" cy="677.2" r="4.7"/><circle cx="1352.5" cy="677.8" r="4.7"/><circle cx="1352.5" cy="677.8" r="4.7"/><circle cx="1352.5" cy="678.2" r="4.7"/><circle cx="1352.5" cy="678.5" r="4.7"/><circle cx="1352.5" cy="678.6" r="4.7"/><circle cx="1352.5" cy="678.6" r="4.7"/><circle cx="1352.5" cy="680.0" r="4.7"/><circle cx="1352.5" cy="680.6" r="4.7"/><circle cx="1352.5" cy="681.0" r="4.7"/><circle cx="1352.5" cy="681.1" r="4.7"/><circle cx="1352.5" cy="681.1" r="4.7"/><circle cx="1352.5" cy="681.2" r="4.7"/><circle cx="1352.5" cy="681.2" r="4.7"/></g>
<g fill="none" stroke="#c87cfb" stroke-width="1.3"><circle cx="1352.5" cy="758.8" r="4.7"/><circle cx="1352.5" cy="758.9" r="4.7"/><circle cx="1352.5" cy="759.0" r="4.7"/><circle cx="1352.5" cy="759.7" r="4.7"/><circle cx="1352.5" cy="759.9" r="4.7"/><circle cx="1352.5" cy="759.9" r="4.7"/><circle cx="1352.5" cy="760.2" r="4.7"/><circle cx="1352.5" cy="760.2" r="4.7"/><circle cx="1352.5" cy="760.3" r="4.7"/><circle cx="1352.5" cy="760.8" r="4.7"/><circle cx="1352.5" cy="760.9" r="4.7"/><circle cx="1352.5" cy="760.9" r="4.7"/><circle cx="1352.5" cy="761.0" r="4.7"/><circle cx="1352.5" cy="761.2" r="4.7"/><circle cx="1352.5" cy="762.2" r="4.7"/><circle cx="1352.5" cy="762.4" r="4.7"/><circle cx="1352.5" cy="762.5" r="4.7"/><circle cx="1352.5" cy="762.8" r="4.7"/><circle cx="1352.5" cy="762.9" r="4.7"/><circle cx="1352.5" cy="763.0" r="4.7"/><circle cx="1352.5" cy="763.4" r="4.7"/><circle cx="1352.5" cy="764.3" r="4.7"/><circle cx="1352.5" cy="764.4" r="4.7"/><circle cx="1352.5" cy="764.8" r="4.7"/><circle cx="1352.5" cy="765.6" r="4.7"/><circle cx="1352.5" cy="765.8" r="4.7"/><circle cx="1352.5" cy="766.4" r="4.7"/><circle cx="1352.5" cy="766.5" r="4.7"/><circle cx="1352.5" cy="767.4" r="4.7"/><circle cx="1352.5" cy="768.4" r="4.7"/><circle cx="1352.5" cy="768.5" r="4.7"/><circle cx="1352.5" cy="768.5" r="4.7"/><circle cx="1352.5" cy="769.0" r="4.7"/><circle cx="1352.5" cy="769.0" r="4.7"/><circle cx="1352.5" cy="771.2" r="4.7"/></g>
<rect x="1083.2" y="587.5" width="281.8" height="213.7" fill="none" stroke="#222" stroke-width="2"/>
<path d="M1083.2 791.3H1091.2M1083.2 785.0H1091.2M1083.2 780.5H1088.2M1083.2 777.1H1091.2M1083.2 774.3H1088.2M1083.2 771.9H1088.2M1083.2 769.8H1088.2M1083.2 768.0H1088.2M1083.2 755.6H1091.2M1083.2 749.4H1091.2M1083.2 744.9H1088.2M1083.2 741.5H1091.2M1083.2 738.6H1088.2M1083.2 736.3H1088.2M1083.2 734.2H1088.2M1083.2 732.4H1088.2M1083.2 720.0H1091.2M1083.2 713.7H1091.2M1083.2 709.3H1088.2M1083.2 705.8H1091.2M1083.2 703.0H1088.2M1083.2 700.6H1088.2M1083.2 698.6H1088.2M1083.2 696.7H1088.2M1083.2 684.4H1091.2M1083.2 678.1H1091.2M1083.2 673.7H1088.2M1083.2 670.2H1091.2M1083.2 667.4H1088.2M1083.2 665.0H1088.2M1083.2 663.0H1088.2M1083.2 661.1H1088.2M1083.2 648.8H1091.2M1083.2 642.5H1091.2M1083.2 638.1H1088.2M1083.2 634.6H1091.2M1083.2 631.8H1088.2M1083.2 629.4H1088.2M1083.2 627.3H1088.2M1083.2 625.5H1088.2M1083.2 613.2H1091.2M1083.2 606.9H1091.2M1083.2 602.4H1088.2M1083.2 599.0H1091.2M1083.2 596.2H1088.2M1083.2 593.8H1088.2M1083.2 591.7H1088.2M1083.2 589.9H1088.2" stroke="#222" stroke-width="1.3" fill="none"/><path d="M1083.2 766.4H1096.2M1083.2 730.7H1096.2M1083.2 695.1H1096.2M1083.2 659.5H1096.2M1083.2 623.9H1096.2" stroke="#222" stroke-width="1.8" fill="none"/>
<path d="M1138.0 801.2V796.7M1208.0 801.2V796.7M1248.9 801.2V796.7M1264.5 801.2V796.7M1278.0 801.2V796.7M1289.9 801.2V796.7M1178.9 801.2V794.7M1230.5 801.2V787.7M1300.5 801.2V787.7" stroke="#222" stroke-width="1.5" fill="none"/>
<text x="1018.21" y="596.20" font-size="23.90" letter-spacing="0.217">1,000</text>
<text x="1049.33" y="667.50" font-size="25.00">10</text>
<text x="1045.29" y="738.70" font-size="22.64" letter-spacing="0.225">0.1</text>
<text x="1019.06" y="810.50" font-size="23.45" letter-spacing="0.216">0.001</text>
<text x="1017.20" y="819.93" font-size="24.53" transform="rotate(-90 1017.20 819.93)" letter-spacing="0.170">Contact stiffness (N/m)</text>
<text x="1165.18" y="823.70" font-size="25.41">30</text>
<text x="1216.00" y="823.70" font-size="25.12">50</text>
<text x="1280.22" y="823.70" font-size="23.75" letter-spacing="0.281">100</text>
<text x="1139.71" y="844.90" font-size="24.56" letter-spacing="0.195">Thickness (µm)</text>
<text x="1366.88" y="679.20" font-size="24.26" fill="#ee6864" style="stroke:#ee6864" letter-spacing="0.287">100</text>
<text x="1366.49" y="713.20" font-size="25.31" fill="#82b62a" style="stroke:#82b62a">40</text>
<text x="1367.16" y="746.70" font-size="24.50" fill="#4bb8f2" style="stroke:#4bb8f2">10</text>
<text x="1365.99" y="780.50" font-size="25.19" fill="#c87cfb" style="stroke:#c87cfb" letter-spacing="0.251">0.5</text>
<text x="1365.51" y="814.20" font-size="24.86" letter-spacing="0.231">Modulus</text>
<text x="1366.47" y="850.00" font-size="25.44" letter-spacing="0.219">(kPa)</text>
<text x="984.97" y="893.70" font-size="30.81" font-weight="bold">G</text>
<text x="1042.02" y="990.00" font-size="24.39" letter-spacing="0.296">324</text>
<text x="1152.20" y="990.00" font-size="24.94" letter-spacing="0.300">529</text>
<text><tspan x="1283.25" y="990.00" font-size="24.93" letter-spacing="0.229">2,025 </tspan><tspan x="1359.30" y="990.00" font-size="24.60">(<tspan font-family='"DejaVu Serif","Liberation Serif",serif' font-size="22">μ</tspan>m<tspan font-size="16.5" dy="-8">2</tspan><tspan dy="8">)</tspan></tspan></text>
<use href="#gcell" transform="translate(1031.2 1039.5) scale(0.5680 0.5630)"/>
<use href="#gcell" transform="translate(1130.8 1029.8) scale(0.8440 0.8340)"/>
<use href="#gcell" transform="translate(1259.5 1017.2) scale(1.0600 1.0500)"/>
<text x="1471.68" y="568.70" font-size="31.02" font-weight="bold">H</text>
<text x="1676.20" y="599.20" font-size="24.71" letter-spacing="0.198">Area (µm<tspan font-size="16.5" dy="-8">2</tspan><tspan dy="8">)</tspan></text>
<polygon points="1505,636.2 1951.2,614.5 1951.2,636.2" fill="url(#gBlueH)"/>
<text x="1563.53" y="668.20" font-size="24.21" letter-spacing="0.294">324</text>
<text x="1714.00" y="673.70" font-size="24.94" letter-spacing="0.300">529</text>
<text x="1850.75" y="673.70" font-size="24.93" letter-spacing="0.229">2,025</text>
<rect x="1514" y="684.2" width="137.2" height="136.8" fill="#000"/>
<rect x="1662" y="684.2" width="137.0" height="136.8" fill="#000"/>
<rect x="1814" y="684.2" width="137.5" height="136.8" fill="#000"/>
<polygon points="1577.5,718.3 1586.5,725.0 1595.5,734.0 1604.5,745.3 1602.3,756.5 1593.3,763.3 1586.5,770.0 1588.8,779.0 1582.0,785.8 1573.0,781.3 1570.8,770.0 1564.0,763.3 1552.8,758.8 1550.5,752.0 1559.5,743.0 1566.3,731.8" fill="#1c7a22" opacity="0.75" filter="url(#b4)"/>
<polygon points="1577.5,728.4 1588.8,736.3 1597.8,747.5 1593.3,757.6 1584.3,763.3 1582.0,776.8 1575.3,774.5 1573.0,765.5 1564.0,758.8 1558.4,753.1 1566.3,745.3" fill="#2a962e" opacity="0.75" filter="url(#b2)"/>
<ellipse cx="1588.5" cy="747" rx="12.5" ry="8.5" transform="rotate(20 1588.5 747)" fill="#2a2edc" opacity="0.8" filter="url(#b2)"/>
<ellipse cx="1582" cy="745.5" rx="5" ry="3.6" fill="#2a2cf6" opacity="0.9" filter="url(#b1)"/>
<path d="M1693.5 750C1693.5 737 1703 729 1712 723C1722 715.5 1734 713.5 1744 721C1752 727 1756.5 739 1756.5 750C1758 761 1754 768 1747 772C1739 776 1732 775 1726 779.5C1718 784 1708 783 1702 776C1696 769 1693.5 760 1693.5 750Z" fill="#1c7a22" filter="url(#b2)"/>
<path d="M1693.5 750C1693.5 737 1703 729 1712 723C1722 715.5 1734 713.5 1744 721C1752 727 1756.5 739 1756.5 750C1758 761 1754 768 1747 772C1739 776 1732 775 1726 779.5C1718 784 1708 783 1702 776C1696 769 1693.5 760 1693.5 750Z" transform="translate(1724 752) scale(0.88) translate(-1724 -752)" fill="none" stroke="#3cb03c" stroke-width="5" opacity="0.8" filter="url(#b2)"/>
<ellipse cx="1721.5" cy="758.5" rx="12.5" ry="12" fill="#2a2af0" filter="url(#b1)"/>
<path d="M1850 757L1876 722L1886 717.5L1927.5 753L1921 768L1890 797.5L1870 784Z" fill="#2a9a2e" filter="url(#b2)" opacity="0.7"/>
<g filter="url(#b1)"><path d="M1850 757L1876 722L1886 717.5L1927.5 753L1921 768L1890 797.5L1870 784Z" fill="#279428" stroke="#44d23c" stroke-width="3" stroke-linejoin="round"/><path d="M1887 718.5L1926 752.5" stroke="#66f452" stroke-width="2.6" fill="none"/><path d="M1852 757L1888 795.5" stroke="#5cec4a" stroke-width="2.4" fill="none"/><path d="M1853 755L1878 722" stroke="#56e646" stroke-width="1.6" fill="none"/></g>
<ellipse cx="1883" cy="760" rx="9" ry="13.5" transform="rotate(-28 1883 760)" fill="#3f86ea" filter="url(#b1)"/>
<rect x="1568.2" y="808.4" width="68.5" height="2.2" fill="#fff"/>
<rect x="1718" y="808.4" width="68.5" height="2.2" fill="#fff"/>
<rect x="1898.7" y="808.4" width="41.3" height="2.2" fill="#fff"/>
<text x="1512.63" y="708.70" font-size="24.64" fill="#49dc6c" style="stroke:#49dc6c" letter-spacing="0.182">F-actin</text>
<text x="1590.32" y="710.40" font-size="24.81" fill="#3b1cf2" style="stroke:#3b1cf2" letter-spacing="0.272">DAPI</text>
<text x="1472.80" y="894.00" font-size="30.00" font-weight="bold">I</text>
<rect x="1630" y="1067.2" width="67.5" height="4.2" fill="#a9df92"/>
<g fill="none" stroke="#a9df92" stroke-width="1.2"><circle cx="1645.0" cy="1067.5" r="4.1"/><circle cx="1651.0" cy="1068.5" r="4.1"/><circle cx="1656.0" cy="1067.0" r="4.1"/><circle cx="1660.0" cy="1069.0" r="4.1"/><circle cx="1664.0" cy="1066.5" r="4.1"/><circle cx="1668.0" cy="1068.0" r="4.1"/><circle cx="1672.0" cy="1066.8" r="4.1"/><circle cx="1677.0" cy="1068.5" r="4.1"/><circle cx="1662.0" cy="1071.0" r="4.1"/><circle cx="1666.0" cy="1070.0" r="4.1"/><circle cx="1658.0" cy="1066.0" r="4.1"/></g>
<circle cx="1663.7" cy="1075.5" r="3.8" fill="#8fe070" stroke="#a9df92" stroke-width="1"/>
<rect x="1723.8" y="1047.7" width="68" height="6.2" fill="#5b8f3a"/>
<g fill="none" stroke="#5b8f3a" stroke-width="1.2"><circle cx="1748.0" cy="1048.0" r="4.2"/><circle cx="1752.0" cy="1050.0" r="4.2"/><circle cx="1755.0" cy="1047.0" r="4.2"/><circle cx="1758.0" cy="1052.0" r="4.2"/><circle cx="1761.0" cy="1046.5" r="4.2"/><circle cx="1764.0" cy="1050.0" r="4.2"/><circle cx="1766.0" cy="1053.0" r="4.2"/><circle cx="1757.0" cy="1054.0" r="4.2"/><circle cx="1769.0" cy="1049.0" r="4.2"/><circle cx="1753.0" cy="1053.0" r="4.2"/></g>
<g fill="none" stroke="#3c6b2a" stroke-width="1.2"><circle cx="1851.0" cy="979.0" r="4.2"/><circle cx="1848.0" cy="982.0" r="4.2"/><circle cx="1854.0" cy="981.0" r="4.2"/><circle cx="1851.0" cy="985.0" r="4.2"/><circle cx="1850.0" cy="989.0" r="4.2"/><circle cx="1852.0" cy="992.0" r="4.2"/><circle cx="1851.3" cy="996.0" r="4.2"/><circle cx="1856.0" cy="980.0" r="4.2"/><circle cx="1851.0" cy="976.0" r="4.2"/></g>
<rect x="1817.5" y="977" width="68" height="9.2" fill="#3c6b2a"/>
<path d="M1819.5 982.6H1883.5" stroke="#d5e3cd" stroke-width="0.8"/>
<circle cx="1851.3" cy="962.6" r="3.6" fill="#6aa8f0" stroke="#3c6b2a" stroke-width="1.9"/>
<rect x="1617" y="903" width="281.8" height="226.2" fill="none" stroke="#333" stroke-width="1.8"/>
<path d="M1611 1129.2H1617M1611 1062.8H1617M1611 996.4H1617M1611 930.0H1617M1663.7 1129.2V1134.7M1757.5 1129.2V1134.7M1851.3 1129.2V1134.7" stroke="#333" stroke-width="1.4" fill="none"/>
<text x="1608.00" y="939.20" font-size="24.90" text-anchor="end">15</text>
<text x="1608.00" y="1005.00" font-size="24.90" text-anchor="end">10</text>
<text x="1608.00" y="1072.50" font-size="24.90" text-anchor="end">5</text>
<text x="1608.00" y="1138.70" font-size="24.90" text-anchor="end">0</text>
<text x="1573.20" y="1155.43" font-size="24.53" transform="rotate(-90 1573.20 1155.43)" letter-spacing="0.170">Contact stiffness (N/m)</text>
<text x="1643.22" y="1163.00" font-size="24.39" letter-spacing="0.296">324</text>
<text x="1736.50" y="1163.00" font-size="24.94" letter-spacing="0.300">529</text>
<text x="1819.96" y="1163.00" font-size="24.85" letter-spacing="0.228">2,025</text>
<path d="M1659.2 931.2H1848.2M1748 955H1851.2M1659.2 1028.7H1762.5" stroke="#111" stroke-width="1.6" fill="none"/>
<text x="1705.89" y="928.20" font-size="24.66" letter-spacing="0.214">9.00E-8</text>
<text x="1753.77" y="952.00" font-size="24.70" letter-spacing="0.214">2.01E-8</text>
<text x="1656.87" y="1020.70" font-size="24.34" letter-spacing="0.209">1.53E-13</text>
</svg>
</body></html>
